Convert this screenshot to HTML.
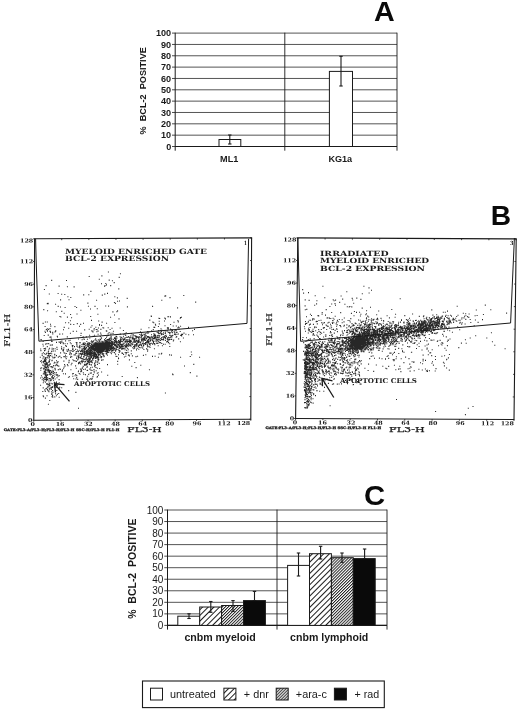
<!DOCTYPE html>
<html lang="en"><head><meta charset="utf-8"><title>BCL-2 expression figure</title>
<style>html,body{margin:0;padding:0;background:#fff}svg{display:block}</style></head><body>
<svg width="520" height="711" viewBox="0 0 520 711">
<defs>
<pattern id="h1" patternUnits="userSpaceOnUse" width="4.0" height="4.0" patternTransform="rotate(-45)"><rect width="4.0" height="4.0" fill="#fff"/><line x1="0" y1="0.5" x2="4.0" y2="0.5" stroke="#1a1a1a" stroke-width="1"/></pattern>
<pattern id="h2" patternUnits="userSpaceOnUse" width="2.1" height="2.1" patternTransform="rotate(-45)"><rect width="2.1" height="2.1" fill="#fff"/><line x1="0" y1="0.5" x2="2.1" y2="0.5" stroke="#1a1a1a" stroke-width="0.95"/></pattern>
</defs>
<rect width="520" height="711" fill="#fff"/>
<g id="panelA">
<line x1="175.2" y1="146.50" x2="397" y2="146.50" stroke="#1c1c1c" stroke-width="0.75" />
<line x1="172.0" y1="146.50" x2="175.2" y2="146.50" stroke="#1c1c1c" stroke-width="0.8" />
<text x="171.2" y="149.78" font-family='"Liberation Sans", Arial, Helvetica, sans-serif' font-size="9.1" font-weight="bold" text-anchor="end" fill="#1a1a1a" >0</text>
<line x1="175.2" y1="135.16" x2="397" y2="135.16" stroke="#1c1c1c" stroke-width="0.75" />
<line x1="172.0" y1="135.16" x2="175.2" y2="135.16" stroke="#1c1c1c" stroke-width="0.8" />
<text x="171.2" y="138.44" font-family='"Liberation Sans", Arial, Helvetica, sans-serif' font-size="9.1" font-weight="bold" text-anchor="end" fill="#1a1a1a" >10</text>
<line x1="175.2" y1="123.82" x2="397" y2="123.82" stroke="#1c1c1c" stroke-width="0.75" />
<line x1="172.0" y1="123.82" x2="175.2" y2="123.82" stroke="#1c1c1c" stroke-width="0.8" />
<text x="171.2" y="127.10" font-family='"Liberation Sans", Arial, Helvetica, sans-serif' font-size="9.1" font-weight="bold" text-anchor="end" fill="#1a1a1a" >20</text>
<line x1="175.2" y1="112.48" x2="397" y2="112.48" stroke="#1c1c1c" stroke-width="0.75" />
<line x1="172.0" y1="112.48" x2="175.2" y2="112.48" stroke="#1c1c1c" stroke-width="0.8" />
<text x="171.2" y="115.76" font-family='"Liberation Sans", Arial, Helvetica, sans-serif' font-size="9.1" font-weight="bold" text-anchor="end" fill="#1a1a1a" >30</text>
<line x1="175.2" y1="101.14" x2="397" y2="101.14" stroke="#1c1c1c" stroke-width="0.75" />
<line x1="172.0" y1="101.14" x2="175.2" y2="101.14" stroke="#1c1c1c" stroke-width="0.8" />
<text x="171.2" y="104.42" font-family='"Liberation Sans", Arial, Helvetica, sans-serif' font-size="9.1" font-weight="bold" text-anchor="end" fill="#1a1a1a" >40</text>
<line x1="175.2" y1="89.80" x2="397" y2="89.80" stroke="#1c1c1c" stroke-width="0.75" />
<line x1="172.0" y1="89.80" x2="175.2" y2="89.80" stroke="#1c1c1c" stroke-width="0.8" />
<text x="171.2" y="93.08" font-family='"Liberation Sans", Arial, Helvetica, sans-serif' font-size="9.1" font-weight="bold" text-anchor="end" fill="#1a1a1a" >50</text>
<line x1="175.2" y1="78.46" x2="397" y2="78.46" stroke="#1c1c1c" stroke-width="0.75" />
<line x1="172.0" y1="78.46" x2="175.2" y2="78.46" stroke="#1c1c1c" stroke-width="0.8" />
<text x="171.2" y="81.74" font-family='"Liberation Sans", Arial, Helvetica, sans-serif' font-size="9.1" font-weight="bold" text-anchor="end" fill="#1a1a1a" >60</text>
<line x1="175.2" y1="67.12" x2="397" y2="67.12" stroke="#1c1c1c" stroke-width="0.75" />
<line x1="172.0" y1="67.12" x2="175.2" y2="67.12" stroke="#1c1c1c" stroke-width="0.8" />
<text x="171.2" y="70.40" font-family='"Liberation Sans", Arial, Helvetica, sans-serif' font-size="9.1" font-weight="bold" text-anchor="end" fill="#1a1a1a" >70</text>
<line x1="175.2" y1="55.78" x2="397" y2="55.78" stroke="#1c1c1c" stroke-width="0.75" />
<line x1="172.0" y1="55.78" x2="175.2" y2="55.78" stroke="#1c1c1c" stroke-width="0.8" />
<text x="171.2" y="59.06" font-family='"Liberation Sans", Arial, Helvetica, sans-serif' font-size="9.1" font-weight="bold" text-anchor="end" fill="#1a1a1a" >80</text>
<line x1="175.2" y1="44.44" x2="397" y2="44.44" stroke="#1c1c1c" stroke-width="0.75" />
<line x1="172.0" y1="44.44" x2="175.2" y2="44.44" stroke="#1c1c1c" stroke-width="0.8" />
<text x="171.2" y="47.72" font-family='"Liberation Sans", Arial, Helvetica, sans-serif' font-size="9.1" font-weight="bold" text-anchor="end" fill="#1a1a1a" >90</text>
<line x1="175.2" y1="33.10" x2="397" y2="33.10" stroke="#1c1c1c" stroke-width="0.75" />
<line x1="172.0" y1="33.10" x2="175.2" y2="33.10" stroke="#1c1c1c" stroke-width="0.8" />
<text x="171.2" y="36.38" font-family='"Liberation Sans", Arial, Helvetica, sans-serif' font-size="9.1" font-weight="bold" text-anchor="end" fill="#1a1a1a" >100</text>
<line x1="175.2" y1="32.7" x2="175.2" y2="150.7" stroke="#1a1a1a" stroke-width="1.0" />
<line x1="397" y1="32.7" x2="397" y2="150.7" stroke="#1c1c1c" stroke-width="0.9" />
<line x1="284.8" y1="32.7" x2="284.8" y2="150.7" stroke="#1a1a1a" stroke-width="0.9" />
<line x1="175.2" y1="146.5" x2="397" y2="146.5" stroke="#1a1a1a" stroke-width="1.1" />
<text transform="translate(146.4 90.8) rotate(-90)" font-family='"Liberation Sans", Arial, Helvetica, sans-serif' font-size="9.15" font-weight="bold" text-anchor="middle" fill="#1a1a1a" style="white-space:pre">%  BCL-2  POSITIVE</text>
<rect x="219.00" y="139.50" width="21.80" height="7.00" fill="#fff" stroke="#1a1a1a" stroke-width="1"/>
<line x1="229.8" y1="135.00" x2="229.8" y2="144.00" stroke="#1a1a1a" stroke-width="1.1" />
<line x1="228.10000000000002" y1="135.00" x2="231.5" y2="135.00" stroke="#1a1a1a" stroke-width="1.1" />
<line x1="228.10000000000002" y1="144.00" x2="231.5" y2="144.00" stroke="#1a1a1a" stroke-width="1.1" />
<rect x="329.40" y="71.40" width="23.10" height="75.10" fill="#fff" stroke="#1a1a1a" stroke-width="1"/>
<line x1="341" y1="56.30" x2="341" y2="86.00" stroke="#1a1a1a" stroke-width="1.1" />
<line x1="339.3" y1="56.30" x2="342.7" y2="56.30" stroke="#1a1a1a" stroke-width="1.1" />
<line x1="339.3" y1="86.00" x2="342.7" y2="86.00" stroke="#1a1a1a" stroke-width="1.1" />
<text x="229.2" y="161.5" font-family='"Liberation Sans", Arial, Helvetica, sans-serif' font-size="9.1" font-weight="bold" text-anchor="middle" fill="#1a1a1a" >ML1</text>
<text x="340.3" y="161.5" font-family='"Liberation Sans", Arial, Helvetica, sans-serif' font-size="9.1" font-weight="bold" text-anchor="middle" fill="#1a1a1a" >KG1a</text>
<text transform="translate(384.4 20.9) scale(1.07 1)" font-family='"Liberation Sans", Arial, Helvetica, sans-serif' font-size="26.8" font-weight="bold" text-anchor="middle" fill="#0a0a0a">A</text>
</g>
<g id="panelB">
<g transform="translate(34.6 238.8) matrix(1 -0.0044 -0.0044 1 0 0) translate(-34.6 -238.8)">
<rect x="34.6" y="238.8" width="217.0" height="181.39999999999998" fill="none" stroke="#1a1a1a" stroke-width="1.1"/>
<line x1="34.60" y1="420.2" x2="34.60" y2="421.7" stroke="#1a1a1a" stroke-width="0.8" />
<line x1="34.60" y1="238.8" x2="34.60" y2="240.3" stroke="#1a1a1a" stroke-width="0.8" />
<line x1="33.1" y1="420.20" x2="34.6" y2="420.20" stroke="#1a1a1a" stroke-width="0.8" />
<line x1="250.1" y1="420.20" x2="251.6" y2="420.20" stroke="#1a1a1a" stroke-width="0.8" />
<line x1="61.73" y1="420.2" x2="61.73" y2="421.7" stroke="#1a1a1a" stroke-width="0.8" />
<line x1="61.73" y1="238.8" x2="61.73" y2="240.3" stroke="#1a1a1a" stroke-width="0.8" />
<line x1="33.1" y1="397.52" x2="34.6" y2="397.52" stroke="#1a1a1a" stroke-width="0.8" />
<line x1="250.1" y1="397.52" x2="251.6" y2="397.52" stroke="#1a1a1a" stroke-width="0.8" />
<line x1="88.85" y1="420.2" x2="88.85" y2="421.7" stroke="#1a1a1a" stroke-width="0.8" />
<line x1="88.85" y1="238.8" x2="88.85" y2="240.3" stroke="#1a1a1a" stroke-width="0.8" />
<line x1="33.1" y1="374.85" x2="34.6" y2="374.85" stroke="#1a1a1a" stroke-width="0.8" />
<line x1="250.1" y1="374.85" x2="251.6" y2="374.85" stroke="#1a1a1a" stroke-width="0.8" />
<line x1="115.97" y1="420.2" x2="115.97" y2="421.7" stroke="#1a1a1a" stroke-width="0.8" />
<line x1="115.97" y1="238.8" x2="115.97" y2="240.3" stroke="#1a1a1a" stroke-width="0.8" />
<line x1="33.1" y1="352.18" x2="34.6" y2="352.18" stroke="#1a1a1a" stroke-width="0.8" />
<line x1="250.1" y1="352.18" x2="251.6" y2="352.18" stroke="#1a1a1a" stroke-width="0.8" />
<line x1="143.10" y1="420.2" x2="143.10" y2="421.7" stroke="#1a1a1a" stroke-width="0.8" />
<line x1="143.10" y1="238.8" x2="143.10" y2="240.3" stroke="#1a1a1a" stroke-width="0.8" />
<line x1="33.1" y1="329.50" x2="34.6" y2="329.50" stroke="#1a1a1a" stroke-width="0.8" />
<line x1="250.1" y1="329.50" x2="251.6" y2="329.50" stroke="#1a1a1a" stroke-width="0.8" />
<line x1="170.22" y1="420.2" x2="170.22" y2="421.7" stroke="#1a1a1a" stroke-width="0.8" />
<line x1="170.22" y1="238.8" x2="170.22" y2="240.3" stroke="#1a1a1a" stroke-width="0.8" />
<line x1="33.1" y1="306.82" x2="34.6" y2="306.82" stroke="#1a1a1a" stroke-width="0.8" />
<line x1="250.1" y1="306.82" x2="251.6" y2="306.82" stroke="#1a1a1a" stroke-width="0.8" />
<line x1="197.35" y1="420.2" x2="197.35" y2="421.7" stroke="#1a1a1a" stroke-width="0.8" />
<line x1="197.35" y1="238.8" x2="197.35" y2="240.3" stroke="#1a1a1a" stroke-width="0.8" />
<line x1="33.1" y1="284.15" x2="34.6" y2="284.15" stroke="#1a1a1a" stroke-width="0.8" />
<line x1="250.1" y1="284.15" x2="251.6" y2="284.15" stroke="#1a1a1a" stroke-width="0.8" />
<line x1="224.47" y1="420.2" x2="224.47" y2="421.7" stroke="#1a1a1a" stroke-width="0.8" />
<line x1="224.47" y1="238.8" x2="224.47" y2="240.3" stroke="#1a1a1a" stroke-width="0.8" />
<line x1="33.1" y1="261.48" x2="34.6" y2="261.48" stroke="#1a1a1a" stroke-width="0.8" />
<line x1="250.1" y1="261.48" x2="251.6" y2="261.48" stroke="#1a1a1a" stroke-width="0.8" />
<line x1="251.60" y1="420.2" x2="251.60" y2="421.7" stroke="#1a1a1a" stroke-width="0.8" />
<line x1="251.60" y1="238.8" x2="251.60" y2="240.3" stroke="#1a1a1a" stroke-width="0.8" />
<line x1="33.1" y1="238.80" x2="34.6" y2="238.80" stroke="#1a1a1a" stroke-width="0.8" />
<line x1="250.1" y1="238.80" x2="251.6" y2="238.80" stroke="#1a1a1a" stroke-width="0.8" />
<text x="33.2" y="422.00" font-family='"DejaVu Serif", "Liberation Serif", serif' font-size="5.3" font-weight="bold" text-anchor="end" fill="#1a1a1a" textLength="4.4" lengthAdjust="spacingAndGlyphs">0</text>
<text x="33.2" y="399.32" font-family='"DejaVu Serif", "Liberation Serif", serif' font-size="5.3" font-weight="bold" text-anchor="end" fill="#1a1a1a" textLength="8.8" lengthAdjust="spacingAndGlyphs">16</text>
<text x="33.2" y="376.65" font-family='"DejaVu Serif", "Liberation Serif", serif' font-size="5.3" font-weight="bold" text-anchor="end" fill="#1a1a1a" textLength="8.8" lengthAdjust="spacingAndGlyphs">32</text>
<text x="33.2" y="353.98" font-family='"DejaVu Serif", "Liberation Serif", serif' font-size="5.3" font-weight="bold" text-anchor="end" fill="#1a1a1a" textLength="8.8" lengthAdjust="spacingAndGlyphs">48</text>
<text x="33.2" y="331.30" font-family='"DejaVu Serif", "Liberation Serif", serif' font-size="5.3" font-weight="bold" text-anchor="end" fill="#1a1a1a" textLength="8.8" lengthAdjust="spacingAndGlyphs">64</text>
<text x="33.2" y="308.62" font-family='"DejaVu Serif", "Liberation Serif", serif' font-size="5.3" font-weight="bold" text-anchor="end" fill="#1a1a1a" textLength="8.8" lengthAdjust="spacingAndGlyphs">80</text>
<text x="33.2" y="285.95" font-family='"DejaVu Serif", "Liberation Serif", serif' font-size="5.3" font-weight="bold" text-anchor="end" fill="#1a1a1a" textLength="8.8" lengthAdjust="spacingAndGlyphs">96</text>
<text x="33.2" y="263.28" font-family='"DejaVu Serif", "Liberation Serif", serif' font-size="5.3" font-weight="bold" text-anchor="end" fill="#1a1a1a" textLength="13.2" lengthAdjust="spacingAndGlyphs">112</text>
<text x="33.2" y="242.40" font-family='"DejaVu Serif", "Liberation Serif", serif' font-size="5.3" font-weight="bold" text-anchor="end" fill="#1a1a1a" textLength="13.2" lengthAdjust="spacingAndGlyphs">128</text>
<text x="33.5" y="426.0" font-family='"DejaVu Serif", "Liberation Serif", serif' font-size="5.3" font-weight="bold" text-anchor="middle" fill="#1a1a1a" textLength="4.4" lengthAdjust="spacingAndGlyphs">0</text>
<text x="60.9" y="426.0" font-family='"DejaVu Serif", "Liberation Serif", serif' font-size="5.3" font-weight="bold" text-anchor="middle" fill="#1a1a1a" textLength="8.8" lengthAdjust="spacingAndGlyphs">16</text>
<text x="89.2" y="426.0" font-family='"DejaVu Serif", "Liberation Serif", serif' font-size="5.3" font-weight="bold" text-anchor="middle" fill="#1a1a1a" textLength="8.8" lengthAdjust="spacingAndGlyphs">32</text>
<text x="116.4" y="426.0" font-family='"DejaVu Serif", "Liberation Serif", serif' font-size="5.3" font-weight="bold" text-anchor="middle" fill="#1a1a1a" textLength="8.8" lengthAdjust="spacingAndGlyphs">48</text>
<text x="143.5" y="426.0" font-family='"DejaVu Serif", "Liberation Serif", serif' font-size="5.3" font-weight="bold" text-anchor="middle" fill="#1a1a1a" textLength="8.8" lengthAdjust="spacingAndGlyphs">64</text>
<text x="170.6" y="426.0" font-family='"DejaVu Serif", "Liberation Serif", serif' font-size="5.3" font-weight="bold" text-anchor="middle" fill="#1a1a1a" textLength="8.8" lengthAdjust="spacingAndGlyphs">80</text>
<text x="197.8" y="426.0" font-family='"DejaVu Serif", "Liberation Serif", serif' font-size="5.3" font-weight="bold" text-anchor="middle" fill="#1a1a1a" textLength="8.8" lengthAdjust="spacingAndGlyphs">96</text>
<text x="224.9" y="426.0" font-family='"DejaVu Serif", "Liberation Serif", serif' font-size="5.3" font-weight="bold" text-anchor="middle" fill="#1a1a1a" textLength="13.2" lengthAdjust="spacingAndGlyphs">112</text>
<text x="244.5" y="426.0" font-family='"DejaVu Serif", "Liberation Serif", serif' font-size="5.3" font-weight="bold" text-anchor="middle" fill="#1a1a1a" textLength="13.2" lengthAdjust="spacingAndGlyphs">128</text>
</g>
<path d="M102.4 349.5h1M103.4 347.5h1M100.8 346.5h1M98.1 345.8h1M100.0 345.5h1M98.2 350.2h1M102.4 347.5h1M107.6 346.0h1M99.9 346.1h1M99.1 344.6h1M104.0 346.1h1M103.7 348.1h1M102.3 345.7h1M98.1 346.5h1M101.8 346.1h1M104.9 346.4h1M96.0 344.0h1M100.0 346.3h1M93.9 345.8h1M96.8 348.9h1M94.1 345.9h1M101.2 347.8h1M97.1 350.2h1M103.1 345.7h1M102.5 345.2h1M101.3 347.0h1M91.5 347.8h1M99.5 344.8h1M101.9 347.4h1M103.0 350.4h1M95.6 346.8h1M100.0 346.3h1M97.7 344.9h1M98.7 347.5h1M106.1 343.5h1M98.4 344.7h1M102.2 349.1h1M105.5 344.3h1M99.8 348.9h1M101.9 349.6h1M102.5 347.0h1M102.4 347.6h1M97.4 351.0h1M102.3 346.1h1M107.5 344.6h1M95.2 344.6h1M105.6 346.2h1M102.9 349.4h1M99.6 348.7h1M110.1 343.6h1M105.0 344.4h1M96.9 346.1h1M102.4 347.0h1M104.4 345.8h1M101.3 347.0h1M104.9 346.7h1M101.7 345.9h1M104.8 346.1h1M108.0 346.2h1M99.2 346.7h1M103.0 347.4h1M100.5 350.4h1M102.7 347.6h1M97.1 347.2h1M99.2 343.4h1M101.3 347.4h1M105.3 342.2h1M106.4 343.1h1M96.7 348.9h1M98.9 348.3h1M104.7 345.9h1M93.3 344.1h1M100.0 346.0h1M101.4 345.2h1M107.4 347.1h1M105.4 350.6h1M100.7 347.1h1M100.3 345.1h1M100.7 344.3h1M108.3 345.6h1M100.2 346.4h1M100.5 344.4h1M103.5 346.6h1M101.2 344.3h1M101.4 348.8h1M97.6 349.2h1M102.2 348.7h1M100.0 345.8h1M107.0 346.9h1M104.7 345.9h1M101.8 345.7h1M104.7 345.5h1M100.3 344.1h1M106.0 343.1h1M102.2 348.1h1M104.4 345.8h1M96.7 347.6h1M103.7 348.3h1M94.5 343.9h1M93.3 346.0h1M100.8 347.0h1M98.3 347.7h1M102.6 345.7h1M111.6 347.4h1M98.6 347.3h1M99.1 344.4h1M102.6 344.5h1M104.2 347.9h1M101.4 347.5h1M100.7 342.8h1M105.3 348.8h1M104.3 347.4h1M98.0 349.7h1M101.6 345.8h1M102.1 345.9h1M97.3 344.8h1M103.7 351.4h1M98.4 346.6h1M106.4 349.2h1M102.6 345.1h1M102.4 346.8h1M99.1 343.5h1M101.4 345.8h1M93.9 349.5h1M97.0 344.6h1M103.8 348.4h1M93.2 348.2h1M105.3 344.0h1M94.6 346.4h1M105.0 345.2h1M98.5 346.8h1M105.1 345.0h1M102.3 344.8h1M95.5 346.7h1M107.0 343.8h1M107.7 343.2h1M101.7 346.4h1M101.1 348.4h1M101.0 343.5h1M97.9 347.0h1M106.4 344.7h1M99.5 344.8h1M102.0 348.2h1M98.6 345.9h1M99.7 349.8h1M96.5 345.6h1M107.3 346.6h1M101.3 346.1h1M105.8 344.5h1M102.2 347.7h1M99.1 346.5h1M100.8 347.9h1M99.7 346.7h1M101.8 344.3h1M100.4 346.5h1M100.8 346.8h1M96.5 349.1h1M98.4 345.1h1M108.9 345.6h1M98.8 343.4h1M97.8 348.3h1M103.1 344.2h1M107.4 342.2h1M95.9 347.1h1M101.4 348.8h1M99.0 343.8h1M94.4 345.2h1M104.9 344.7h1M101.6 344.3h1M102.4 347.2h1M98.7 345.3h1M103.7 344.8h1M99.9 347.9h1M101.2 345.1h1M97.5 347.9h1M96.7 345.2h1M107.3 343.4h1M99.4 343.1h1M103.7 350.0h1M101.8 345.9h1M100.2 347.2h1M99.9 346.7h1M104.7 346.5h1M100.8 346.7h1M101.8 350.4h1M101.8 344.4h1M106.5 342.8h1M104.6 344.1h1M103.3 343.7h1M99.8 348.3h1M96.4 348.8h1M105.7 344.1h1M105.7 343.3h1M101.3 345.9h1M104.6 349.0h1M104.6 340.5h1M105.6 347.1h1M105.6 343.9h1M100.3 348.8h1M108.1 343.6h1M96.7 346.6h1M105.2 343.1h1M103.8 344.3h1M106.0 348.8h1M110.0 347.2h1M108.1 345.0h1M97.0 345.3h1M94.5 343.6h1M105.3 345.3h1M97.8 346.9h1M101.9 346.3h1M105.5 345.9h1M94.9 345.1h1M93.2 347.4h1M103.1 346.3h1M102.5 349.0h1M101.4 350.3h1M102.1 346.2h1M98.2 345.4h1M95.7 347.1h1M101.2 345.4h1M97.8 345.5h1M95.1 347.2h1M103.9 344.2h1M101.9 347.7h1M103.7 346.1h1M97.9 347.5h1M99.2 346.5h1M97.7 345.6h1M98.1 345.1h1M102.8 345.9h1M98.6 345.8h1M103.5 346.8h1M103.4 346.3h1M110.1 342.8h1M96.2 347.3h1M105.4 343.4h1M101.5 345.3h1M101.9 345.9h1M95.5 343.1h1M100.1 346.9h1M105.1 346.4h1M101.6 346.2h1M102.2 345.6h1M100.7 345.9h1M106.6 344.0h1M101.8 346.0h1M92.7 346.5h1M99.1 347.0h1M93.5 345.1h1M88.5 348.6h1M99.8 347.0h1M107.5 345.6h1M102.1 345.6h1M97.2 348.2h1M97.7 343.7h1M106.8 346.8h1M102.7 346.9h1M102.3 347.0h1M101.9 347.3h1M102.0 345.2h1M105.3 345.6h1M104.5 347.5h1M103.0 347.2h1M97.7 347.4h1M103.8 343.2h1M99.3 347.9h1M106.8 348.3h1M96.9 349.1h1M101.5 347.0h1M101.6 343.4h1M96.7 349.0h1M109.1 345.3h1M107.5 340.7h1M100.2 347.5h1M104.9 343.2h1M103.3 343.7h1M90.9 346.5h1M103.3 348.9h1M101.7 345.8h1M102.4 347.0h1M97.9 350.5h1M101.3 349.8h1M101.2 346.4h1M106.9 345.4h1M103.1 343.8h1M101.8 345.1h1M108.5 346.6h1M99.8 347.6h1M100.4 346.9h1M94.7 349.4h1M108.4 344.2h1M106.0 345.9h1M106.0 347.5h1M104.9 347.3h1M102.7 348.6h1M103.0 347.2h1M100.9 346.0h1M101.2 347.3h1M102.0 344.5h1M91.6 347.6h1M106.8 343.7h1M102.7 346.8h1M104.9 344.2h1M91.4 349.7h1M100.2 344.5h1M98.8 346.9h1M97.4 350.3h1M88.3 356.6h1M100.3 343.6h1M109.1 344.3h1M105.3 343.5h1M99.1 349.5h1M102.5 342.9h1M108.1 344.3h1M83.8 348.7h1M101.8 343.5h1M106.4 343.0h1M107.6 344.4h1M114.0 338.4h1M110.3 341.0h1M105.0 344.9h1M105.2 346.7h1M108.4 345.3h1M98.6 341.3h1M102.5 345.1h1M109.6 348.3h1M116.8 346.6h1M101.9 346.4h1M102.3 343.7h1M104.6 348.3h1M112.1 343.5h1M102.3 342.8h1M112.9 342.7h1M96.8 351.9h1M101.8 347.4h1M102.1 350.3h1M108.3 344.3h1M110.6 348.6h1M92.3 345.8h1M96.6 346.8h1M106.3 354.1h1M98.7 349.5h1M92.2 346.2h1M110.2 345.4h1M106.6 347.1h1M106.9 349.9h1M99.5 345.3h1M109.5 340.1h1M101.2 345.8h1M110.6 345.6h1M96.7 347.6h1M97.6 351.4h1M104.5 347.3h1M98.4 349.7h1M107.3 342.4h1M105.1 349.0h1M97.4 353.9h1M103.8 348.9h1M100.7 347.6h1M109.4 346.2h1M99.3 352.7h1M99.6 343.9h1M111.4 345.1h1M118.7 346.1h1M117.2 347.2h1M103.3 345.1h1M104.6 347.3h1M113.6 344.3h1M102.2 347.0h1M96.2 346.9h1M103.4 342.8h1M106.1 346.1h1M97.6 350.0h1M91.2 344.8h1M92.9 346.9h1M107.9 348.1h1M97.3 343.7h1M102.1 347.2h1M104.1 343.0h1M107.7 349.6h1M101.6 354.1h1M107.2 352.5h1M96.7 346.5h1M100.8 349.2h1M95.9 347.7h1M110.9 345.9h1M103.4 351.4h1M97.4 342.9h1M101.0 350.1h1M101.4 346.5h1M108.4 350.4h1M92.0 348.4h1M95.5 345.2h1M100.5 347.7h1M120.9 346.7h1M109.7 345.8h1M102.4 348.1h1M107.7 344.2h1M116.5 338.0h1M101.7 349.6h1M100.7 349.0h1M111.5 346.0h1M106.5 346.3h1M108.1 349.2h1M99.3 345.5h1M116.1 342.7h1M114.8 344.5h1M107.4 349.8h1M107.2 341.5h1M89.4 352.0h1M107.2 343.9h1M101.2 343.2h1M106.5 350.1h1M107.7 345.6h1M100.1 342.7h1M91.1 346.8h1M105.9 349.2h1M98.3 350.9h1M100.5 345.4h1M99.0 348.3h1M100.9 349.1h1M86.7 346.4h1M111.6 346.6h1M104.7 346.2h1M110.5 343.9h1M116.6 343.3h1M103.2 346.7h1M90.5 348.1h1M96.6 345.4h1M94.4 346.2h1M99.9 350.5h1M103.6 347.1h1M89.4 351.0h1M105.8 350.0h1M92.7 349.6h1M105.9 353.5h1M101.9 344.0h1M101.1 349.3h1M102.4 345.6h1M100.0 352.8h1M99.4 352.4h1M90.6 341.7h1M102.4 343.4h1M116.1 347.1h1M117.1 347.4h1M112.5 347.7h1M107.9 345.7h1M98.5 348.5h1M113.3 347.4h1M102.6 346.3h1M102.9 349.8h1M100.1 339.6h1M103.9 348.4h1M99.6 343.6h1M102.8 349.6h1M95.4 346.7h1M100.1 344.0h1M119.0 345.8h1M102.2 343.7h1M101.0 343.8h1M106.1 341.1h1M107.9 345.8h1M95.4 349.0h1M102.0 349.9h1M109.3 345.3h1M105.3 349.6h1M103.9 346.5h1M113.8 344.9h1M98.5 348.9h1M104.0 349.8h1M99.3 345.8h1M113.3 344.5h1M89.4 347.6h1M98.4 347.3h1M99.0 344.1h1M108.0 349.2h1M107.1 344.7h1M112.9 346.8h1M91.7 345.2h1M108.4 347.0h1M101.1 348.0h1M98.2 345.7h1M107.5 352.5h1M96.7 348.4h1M89.2 353.9h1M100.8 349.9h1M92.3 345.6h1M98.3 345.8h1M105.7 347.6h1M105.2 346.4h1M114.0 345.3h1M101.5 345.8h1M91.7 342.0h1M97.7 346.4h1M95.8 340.2h1M94.7 348.7h1M105.7 343.8h1M98.2 344.8h1M89.2 347.5h1M107.9 346.8h1M101.7 342.0h1M104.8 340.6h1M103.3 343.0h1M106.6 339.5h1M102.9 343.4h1M112.2 350.5h1M105.6 342.8h1M106.0 348.2h1M105.3 341.8h1M93.0 348.7h1M101.7 345.6h1M101.2 346.5h1M104.7 348.1h1M94.2 353.2h1M114.4 345.8h1M103.8 346.8h1M94.2 344.4h1M91.3 349.8h1M101.0 346.0h1M104.9 348.4h1M99.1 350.6h1M110.2 343.6h1M86.2 355.1h1M96.6 347.8h1M104.2 344.3h1M96.8 350.2h1M94.3 353.0h1M96.6 347.2h1M89.9 352.5h1M99.7 348.5h1M118.0 354.7h1M106.2 344.6h1M92.7 355.7h1M93.0 350.3h1M96.1 349.2h1M106.5 349.8h1M94.2 353.5h1M95.4 354.6h1M105.3 348.6h1M104.3 345.4h1M96.0 347.8h1M91.9 352.7h1M89.0 353.7h1M95.5 355.1h1M84.2 354.2h1M105.0 351.4h1M96.0 355.4h1M102.4 348.8h1M110.4 340.6h1M105.9 342.9h1M89.9 345.9h1M106.3 353.1h1M106.1 344.1h1M95.0 354.6h1M93.0 352.7h1M99.8 355.2h1M89.0 355.2h1M108.9 346.1h1M82.5 352.4h1M91.6 351.2h1M97.3 350.1h1M97.0 347.5h1M100.1 348.6h1M102.2 354.2h1M96.1 343.4h1M106.9 348.0h1M83.7 349.5h1M99.2 349.7h1M94.9 353.1h1M99.8 348.6h1M101.2 351.3h1M91.4 345.0h1M95.6 354.0h1M103.9 345.5h1M101.9 350.6h1M94.5 350.8h1M110.6 336.5h1M114.0 342.4h1M89.3 352.3h1M102.4 353.9h1M116.3 345.7h1M104.5 348.6h1M99.3 343.7h1M98.8 354.4h1M96.9 356.2h1M97.6 349.5h1M95.1 349.2h1M102.6 342.1h1M97.1 352.8h1M98.4 359.2h1M91.5 353.5h1M99.8 353.5h1M93.4 352.4h1M96.9 345.9h1M107.2 351.9h1M100.4 344.1h1M102.2 347.4h1M101.7 349.4h1M100.2 352.0h1M98.5 350.7h1M97.2 350.9h1M103.5 345.1h1M90.5 346.3h1M108.2 346.9h1M98.6 346.5h1M92.8 345.7h1M94.6 345.4h1M94.0 348.4h1M98.5 342.3h1M92.9 345.5h1M105.3 341.4h1M93.9 351.0h1M83.9 354.3h1M95.8 357.3h1M84.1 347.2h1M98.1 346.7h1M107.0 350.4h1M103.2 347.1h1M89.6 350.1h1M95.3 356.3h1M110.8 344.8h1M100.2 344.4h1M97.9 344.4h1M106.5 348.4h1M115.9 345.9h1M106.6 342.0h1M99.1 345.3h1M101.9 350.3h1M103.7 350.0h1M94.3 347.8h1M92.4 353.0h1M99.9 350.9h1M91.0 344.4h1M98.3 348.0h1M100.0 350.3h1M114.4 343.0h1M91.4 343.0h1M97.9 348.2h1M98.5 351.9h1M103.3 353.8h1M104.2 339.6h1M98.0 359.0h1M92.4 346.5h1M88.7 355.1h1M93.8 354.9h1M103.5 351.5h1M99.4 349.4h1M91.1 346.7h1M97.0 351.8h1M98.6 346.4h1M100.2 339.3h1M97.4 359.9h1M97.9 351.9h1M88.2 358.4h1M90.4 347.8h1M111.3 351.4h1M85.5 358.3h1M98.1 355.0h1M100.5 348.6h1M95.4 345.4h1M93.4 349.8h1M96.7 341.4h1M97.5 343.1h1M98.5 349.5h1M85.4 348.7h1M97.9 348.7h1M93.1 350.1h1M97.0 356.7h1M101.7 353.1h1M103.3 347.8h1M106.1 351.7h1M94.9 347.1h1M105.0 346.3h1M107.8 350.2h1M105.6 342.7h1M108.2 345.7h1M96.9 344.6h1M97.9 349.7h1M106.0 353.3h1M89.1 348.7h1M100.6 349.4h1M94.6 346.8h1M95.5 345.6h1M86.1 347.6h1M94.2 355.6h1M100.9 357.3h1M105.5 349.2h1M105.1 344.8h1M99.1 351.6h1M97.4 348.2h1M94.1 353.2h1M102.0 349.3h1M97.6 350.4h1M103.6 350.1h1M110.4 344.0h1M98.4 347.6h1M87.3 345.5h1M92.8 348.9h1M87.9 346.5h1M90.7 350.5h1M107.0 343.4h1M100.6 349.0h1M89.1 353.2h1M102.2 342.9h1M106.8 344.0h1M95.7 346.3h1M95.1 352.8h1M98.2 355.5h1M101.7 351.5h1M103.0 346.7h1M108.3 352.1h1M105.9 341.7h1M108.4 352.2h1M107.7 344.4h1M101.1 338.2h1M90.9 360.9h1M99.5 354.7h1M100.2 344.9h1M96.5 350.2h1M105.0 346.7h1M96.6 350.0h1M91.4 345.4h1M108.2 344.2h1M103.9 349.5h1M100.7 349.4h1M106.3 351.6h1M106.3 347.5h1M103.4 356.6h1M81.7 350.7h1M94.6 351.1h1M94.2 343.1h1M91.2 346.3h1M101.5 353.3h1M106.3 343.7h1M96.2 351.7h1M91.2 350.7h1M111.9 341.9h1M95.6 348.6h1M90.2 349.3h1M107.0 349.8h1M135.4 338.4h1M134.2 347.2h1M104.1 345.3h1M95.9 343.8h1M124.5 341.6h1M115.1 341.2h1M142.6 341.6h1M181.2 336.0h1M138.0 341.6h1M116.8 341.9h1M111.5 328.2h1M97.7 347.7h1M95.2 338.8h1M94.3 348.9h1M109.4 350.8h1M108.0 347.0h1M135.4 340.0h1M108.4 344.9h1M113.2 344.4h1M88.7 346.0h1M156.7 336.0h1M129.4 338.3h1M161.3 343.5h1M136.9 341.5h1M154.0 343.5h1M111.9 344.0h1M135.1 342.2h1M182.1 334.2h1M89.2 350.6h1M146.5 344.0h1M158.5 339.5h1M127.6 339.8h1M135.7 338.1h1M149.5 347.4h1M101.9 345.3h1M127.7 341.5h1M97.9 354.0h1M102.3 351.6h1M103.4 348.9h1M114.3 343.0h1M123.1 354.5h1M129.3 344.5h1M83.9 351.8h1M166.0 336.5h1M145.2 333.8h1M134.8 335.7h1M109.6 347.4h1M116.1 346.4h1M131.2 341.3h1M127.2 337.5h1M76.2 343.7h1M135.8 340.2h1M188.0 327.4h1M73.6 354.9h1M143.0 346.0h1M128.9 355.9h1M115.9 348.7h1M151.0 336.8h1M88.6 344.5h1M119.7 328.0h1M153.3 336.4h1M113.1 344.2h1M108.4 350.2h1M121.2 346.7h1M107.5 348.6h1M155.9 339.8h1M96.3 350.5h1M140.3 347.8h1M86.7 343.9h1M134.0 339.9h1M114.5 338.4h1M56.0 360.8h1M118.7 350.2h1M92.4 351.5h1M106.4 340.4h1M155.7 339.6h1M90.6 347.2h1M92.2 348.4h1M153.0 338.3h1M121.2 346.3h1M155.4 337.0h1M126.5 347.0h1M96.6 348.5h1M116.2 343.2h1M148.0 339.4h1M140.7 339.0h1M118.6 348.0h1M119.0 342.9h1M115.4 346.0h1M103.6 344.6h1M164.2 330.7h1M118.8 348.4h1M89.7 343.5h1M106.8 349.1h1M136.0 343.6h1M132.6 334.5h1M114.0 340.5h1M101.3 344.3h1M118.0 340.5h1M76.4 344.8h1M86.7 352.3h1M137.4 340.4h1M106.6 347.8h1M126.9 341.0h1M148.0 341.4h1M133.4 338.6h1M118.5 344.1h1M170.4 339.4h1M134.3 342.1h1M109.0 343.5h1M135.2 336.8h1M128.1 343.6h1M97.3 348.9h1M119.6 342.9h1M113.5 341.4h1M70.3 353.7h1M115.4 356.2h1M110.9 343.9h1M107.5 347.4h1M78.1 351.8h1M107.6 333.9h1M117.1 345.0h1M120.0 340.7h1M91.2 354.6h1M133.3 340.9h1M87.8 345.1h1M112.4 344.1h1M150.0 340.4h1M100.7 344.2h1M105.5 345.9h1M143.3 334.3h1M108.5 344.6h1M111.3 348.9h1M124.7 352.5h1M144.1 343.8h1M64.4 353.3h1M98.6 352.6h1M94.1 352.5h1M92.6 355.7h1M97.9 352.3h1M97.5 346.7h1M125.5 344.4h1M96.5 348.3h1M121.2 345.2h1M127.9 343.8h1M99.7 343.3h1M119.8 334.3h1M157.4 335.5h1M124.5 333.9h1M102.5 346.9h1M116.4 344.5h1M94.6 339.9h1M125.0 346.5h1M139.5 345.2h1M98.2 347.6h1M114.0 352.6h1M146.2 348.9h1M105.1 340.6h1M123.2 348.4h1M93.4 349.9h1M98.4 349.1h1M106.2 350.4h1M169.2 333.5h1M107.9 343.0h1M104.9 342.4h1M104.1 342.8h1M114.0 344.4h1M132.6 335.4h1M121.8 338.9h1M167.3 339.8h1M123.0 343.2h1M152.6 341.1h1M123.3 334.7h1M131.9 338.6h1M83.3 346.7h1M115.0 344.9h1M116.0 341.9h1M112.8 349.4h1M66.8 351.4h1M138.9 341.3h1M108.8 345.7h1M108.1 349.0h1M111.6 343.0h1M113.3 350.2h1M128.0 345.0h1M87.9 349.4h1M95.9 347.7h1M125.2 345.7h1M122.1 348.4h1M109.7 349.9h1M104.6 348.0h1M98.8 351.2h1M116.7 345.0h1M146.9 345.9h1M92.9 347.8h1M152.8 329.6h1M138.9 347.5h1M107.3 346.4h1M135.8 336.3h1M83.1 348.4h1M76.3 346.2h1M88.8 358.3h1M108.6 348.0h1M109.2 338.3h1M106.1 348.6h1M120.1 342.1h1M68.6 360.4h1M129.1 337.8h1M82.8 339.0h1M102.3 346.9h1M108.0 344.1h1M90.3 346.4h1M84.0 339.3h1M94.4 349.7h1M118.8 352.0h1M130.8 333.6h1M132.2 347.7h1M94.0 345.1h1M100.7 357.7h1M96.4 349.5h1M128.6 341.9h1M70.3 356.3h1M147.8 342.4h1M106.1 343.3h1M99.9 350.2h1M125.7 340.8h1M141.3 332.6h1M127.5 352.4h1M142.8 339.1h1M120.8 341.1h1M147.4 341.6h1M146.5 332.9h1M114.7 338.5h1M151.9 337.1h1M121.6 341.4h1M120.1 344.3h1M96.9 352.6h1M110.8 343.1h1M136.8 343.9h1M87.2 351.6h1M132.7 337.1h1M126.4 344.1h1M124.0 339.1h1M66.3 356.7h1M115.8 346.7h1M133.4 342.1h1M99.0 340.8h1M120.2 344.5h1M61.0 349.0h1M134.4 345.2h1M102.2 346.0h1M138.2 337.6h1M74.8 354.9h1M134.9 345.2h1M112.0 342.4h1M137.9 346.8h1M95.8 346.1h1M103.1 345.0h1M171.3 337.1h1M97.8 343.7h1M100.9 344.7h1M111.3 344.5h1M94.7 354.8h1M147.3 347.0h1M158.8 337.2h1M102.3 354.1h1M77.0 350.0h1M146.1 342.0h1M144.9 344.5h1M137.7 342.8h1M147.1 351.3h1M97.6 348.4h1M113.2 339.4h1M86.0 355.0h1M84.0 347.3h1M141.1 339.5h1M100.1 333.0h1M172.8 341.0h1M120.3 347.8h1M103.3 350.1h1M137.6 346.0h1M161.9 345.8h1M129.5 342.4h1M89.7 352.8h1M126.3 339.6h1M150.4 338.0h1M107.0 350.8h1M99.9 348.7h1M141.3 334.7h1M121.6 345.5h1M91.7 347.3h1M108.4 341.9h1M100.3 348.9h1M124.8 341.4h1M119.6 336.8h1M144.6 335.3h1M136.0 349.9h1M79.9 342.8h1M127.8 343.9h1M139.7 344.0h1M129.2 345.6h1M141.7 335.2h1M104.7 344.7h1M95.5 348.2h1M140.6 344.7h1M92.3 345.0h1M65.9 346.4h1M143.0 345.3h1M101.5 351.8h1M111.0 347.0h1M84.4 346.3h1M86.8 350.7h1M90.6 348.8h1M110.0 349.4h1M126.0 337.3h1M63.5 352.7h1M135.8 341.0h1M89.2 343.3h1M92.8 349.0h1M134.1 342.1h1M116.0 342.7h1M81.8 351.4h1M160.9 331.5h1M97.5 347.0h1M124.2 345.4h1M122.9 344.9h1M152.2 344.3h1M106.4 340.4h1M140.9 334.0h1M100.5 347.9h1M145.0 342.5h1M101.3 356.6h1M109.8 348.4h1M162.5 333.8h1M126.1 346.9h1M120.0 340.1h1M170.3 329.8h1M128.3 354.9h1M98.8 348.6h1M135.9 345.0h1M90.3 350.9h1M146.0 348.7h1M146.8 341.4h1M105.2 351.8h1M102.4 341.8h1M121.3 337.4h1M119.3 350.7h1M95.8 354.4h1M131.8 344.7h1M69.7 352.4h1M107.8 346.5h1M108.0 342.6h1M112.5 352.2h1M125.7 346.2h1M89.2 350.8h1M132.2 344.0h1M114.4 349.7h1M102.9 348.8h1M86.0 352.4h1M89.1 343.1h1M126.9 345.4h1M96.6 357.6h1M119.2 341.7h1M143.1 340.1h1M143.1 344.8h1M155.7 343.3h1M111.4 348.2h1M91.2 340.7h1M142.6 343.1h1M124.6 337.8h1M144.2 336.7h1M118.6 346.8h1M146.2 338.8h1M138.6 345.1h1M137.1 356.2h1M130.5 346.1h1M127.9 346.2h1M122.9 339.4h1M122.9 340.6h1M140.8 336.0h1M105.5 343.6h1M158.5 333.4h1M115.0 341.7h1M141.3 340.0h1M115.2 340.1h1M111.2 338.7h1M165.4 331.1h1M111.0 347.4h1M87.7 349.0h1M101.7 351.4h1M111.2 350.1h1M169.0 335.3h1M123.4 346.6h1M139.3 334.5h1M95.7 358.1h1M127.2 348.5h1M133.8 341.0h1M160.0 332.8h1M101.7 348.4h1M131.1 333.7h1M124.7 339.7h1M94.2 351.2h1M117.6 344.7h1M111.4 343.0h1M63.4 356.6h1M131.5 337.5h1M131.0 343.7h1M107.2 343.5h1M85.6 345.1h1M153.5 341.3h1M123.7 338.9h1M143.4 349.5h1M151.1 336.8h1M106.9 355.2h1M136.6 336.5h1M112.7 347.9h1M115.7 339.1h1M115.1 338.5h1M118.1 345.0h1M144.9 343.5h1M120.1 338.1h1M115.1 350.2h1M110.9 341.6h1M126.2 343.7h1M97.0 349.1h1M106.5 348.7h1M115.6 336.3h1M105.6 353.6h1M115.6 347.3h1M103.2 344.5h1M164.9 332.7h1M148.4 332.0h1M127.8 336.6h1M117.1 347.0h1M169.8 335.2h1M124.9 338.0h1M115.6 342.2h1M126.2 350.4h1M125.0 341.7h1M151.1 336.8h1M118.4 350.5h1M168.2 339.2h1M97.1 347.5h1M134.1 339.1h1M93.2 340.7h1M160.4 332.7h1M109.8 343.3h1M116.5 343.5h1M140.2 342.7h1M148.2 342.5h1M91.7 349.1h1M109.9 346.5h1M84.2 344.5h1M119.8 334.0h1M115.2 342.3h1M109.1 341.2h1M101.3 343.7h1M108.7 344.4h1M99.5 341.2h1M129.8 337.4h1M153.9 338.6h1M72.2 351.5h1M114.8 341.7h1M108.4 348.0h1M129.5 341.6h1M94.7 342.9h1M114.5 345.0h1M94.6 356.4h1M134.1 338.8h1M121.1 349.3h1M115.1 351.1h1M127.8 349.8h1M111.6 341.4h1M82.4 358.8h1M132.2 342.8h1M124.7 342.2h1M114.2 343.8h1M141.8 343.6h1M147.0 340.3h1M91.9 347.3h1M100.3 352.8h1M154.3 335.7h1M151.0 334.7h1M101.0 350.5h1M90.4 351.6h1M103.6 351.5h1M105.5 341.1h1M81.1 354.7h1M119.1 346.4h1M88.8 356.7h1M88.4 342.8h1M139.9 342.1h1M101.6 345.4h1M115.3 337.3h1M132.5 338.9h1M138.1 346.6h1M109.7 343.3h1M118.6 340.9h1M99.0 351.1h1M160.2 342.8h1M134.1 346.6h1M91.3 344.5h1M118.1 344.0h1M135.6 346.5h1M129.0 339.7h1M161.0 334.6h1M151.1 343.3h1M106.2 353.3h1M115.1 339.4h1M85.8 336.9h1M123.0 336.8h1M120.9 339.2h1M182.1 334.4h1M120.7 346.8h1M68.2 350.8h1M101.6 343.4h1M120.8 344.6h1M87.5 344.2h1M97.4 347.1h1M108.9 342.6h1M127.9 355.3h1M114.6 348.6h1M96.3 343.6h1M136.1 337.0h1M104.9 344.2h1M105.1 338.5h1M84.7 345.7h1M98.8 343.6h1M134.1 346.1h1M79.3 347.9h1M115.8 340.9h1M134.2 335.7h1M108.3 340.2h1M123.7 343.2h1M91.3 347.2h1M149.9 345.0h1M143.7 337.6h1M124.3 348.3h1M76.5 351.5h1M93.2 347.9h1M139.9 331.8h1M157.8 332.5h1M125.5 346.7h1M148.5 346.4h1M103.7 347.3h1M114.0 348.4h1M117.8 342.4h1M127.8 341.2h1M81.3 346.5h1M141.0 345.5h1M149.6 341.3h1M90.6 347.2h1M85.6 347.5h1M126.7 345.6h1M102.7 348.0h1M61.1 348.7h1M138.3 349.3h1M121.9 344.9h1M106.7 346.0h1M169.2 343.7h1M122.0 348.5h1M100.0 346.5h1M120.8 346.4h1M92.6 343.0h1M99.5 344.0h1M125.7 332.7h1M105.6 351.8h1M106.0 337.2h1M158.1 341.7h1M137.9 337.6h1M136.4 337.1h1M130.4 341.6h1M129.7 343.8h1M153.0 342.1h1M118.7 352.4h1M162.3 339.5h1M96.0 351.6h1M111.5 342.5h1M85.7 352.3h1M109.9 346.2h1M130.0 340.4h1M152.4 338.9h1M102.2 346.3h1M118.3 345.2h1M109.7 347.4h1M100.1 344.5h1M89.3 345.0h1M119.9 347.5h1M75.7 342.5h1M120.2 341.1h1M119.5 351.3h1M100.6 334.2h1M93.5 344.6h1M85.6 352.2h1M161.4 330.3h1M87.8 360.7h1M153.3 327.2h1M133.2 348.8h1M110.4 352.6h1M91.1 352.5h1M142.6 339.7h1M159.3 340.0h1M95.2 343.4h1M111.4 349.0h1M142.2 335.6h1M125.8 341.9h1M166.2 341.9h1M103.7 341.2h1M130.6 340.8h1M88.4 349.4h1M166.9 331.0h1M101.4 352.1h1M65.8 353.5h1M114.0 337.8h1M114.7 344.6h1M163.0 334.2h1M109.5 342.5h1M117.8 344.7h1M131.6 339.0h1M156.3 343.2h1M116.0 341.3h1M143.3 345.2h1M130.3 342.3h1M111.5 349.2h1M119.5 341.6h1M118.3 341.9h1M95.5 342.2h1M147.2 342.8h1M85.7 353.3h1M147.2 349.9h1M141.5 346.9h1M116.0 345.8h1M99.7 346.0h1M112.9 346.8h1M129.2 342.5h1M136.6 348.4h1M125.4 347.6h1M141.0 337.1h1M104.3 343.1h1M124.5 349.7h1M81.0 351.1h1M136.0 340.6h1M122.4 349.2h1M107.9 344.0h1M145.4 339.0h1M134.1 339.8h1M49.8 345.1h1M119.5 348.1h1M82.6 343.8h1M143.0 338.0h1M176.6 332.3h1M106.2 349.4h1M119.7 343.7h1M112.0 345.2h1M125.2 335.4h1M133.3 341.7h1M147.6 333.1h1M94.7 349.1h1M155.6 340.6h1M95.9 347.4h1M125.9 352.6h1M145.9 342.7h1M135.3 344.6h1M95.8 348.2h1M101.2 345.8h1M107.7 350.3h1M117.5 349.5h1M144.4 334.4h1M88.0 353.5h1M129.4 345.0h1M133.1 346.6h1M131.6 344.5h1M128.3 337.0h1M153.3 333.7h1M130.8 350.9h1M138.5 342.5h1M130.4 335.9h1M160.8 339.7h1M72.6 349.2h1M147.2 331.5h1M110.3 334.8h1M110.3 338.0h1M95.2 348.9h1M73.6 350.5h1M108.8 344.5h1M101.9 348.0h1M130.1 345.3h1M81.6 339.8h1M151.8 338.0h1M123.9 339.6h1M111.3 339.5h1M100.8 344.3h1M99.2 346.5h1M91.0 347.0h1M104.1 339.6h1M117.8 342.1h1M115.1 354.1h1M83.7 344.4h1M110.6 337.5h1M97.0 348.6h1M122.2 346.5h1M162.6 340.0h1M132.1 337.1h1M111.2 349.9h1M78.9 346.3h1M83.6 344.0h1M77.5 347.3h1M135.2 341.3h1M100.3 350.2h1M119.9 346.9h1M103.2 346.3h1M120.8 348.2h1M151.3 339.8h1M102.3 350.7h1M109.0 339.1h1M97.8 339.9h1M139.3 344.8h1M92.7 341.5h1M90.9 346.8h1M85.0 348.6h1M84.2 346.9h1M128.9 340.6h1M179.9 341.8h1M92.7 336.2h1M141.2 345.0h1M125.5 353.9h1M91.8 348.2h1M111.4 345.2h1M112.9 348.4h1M102.8 355.0h1M163.1 332.2h1M72.8 351.3h1M126.9 342.1h1M126.2 345.7h1M104.3 347.0h1M122.0 346.8h1M138.6 339.4h1M121.7 344.0h1M127.5 339.8h1M134.0 338.9h1M69.6 350.7h1M153.0 338.6h1M171.3 331.1h1M142.3 348.1h1M142.0 340.2h1M83.6 342.9h1M115.9 349.7h1M98.2 343.7h1M104.4 348.6h1M141.0 340.9h1M99.1 348.2h1M115.0 345.5h1M72.3 348.3h1M114.3 345.0h1M121.5 353.2h1M99.8 336.5h1M100.9 347.1h1M163.1 339.8h1M88.6 343.7h1M92.1 341.7h1M100.2 356.9h1M146.2 338.5h1M169.3 346.5h1M126.2 345.6h1M101.0 347.1h1M108.2 347.9h1M143.7 343.5h1M97.1 352.8h1M152.8 341.3h1M151.7 340.1h1M119.8 344.9h1M134.2 348.2h1M136.3 345.4h1M154.3 334.4h1M92.6 345.0h1M146.3 341.7h1M108.7 342.8h1M99.5 345.2h1M119.8 339.6h1M112.7 343.8h1M94.8 349.6h1M80.7 354.3h1M95.6 347.6h1M153.9 348.7h1M164.6 337.2h1M135.5 356.6h1M146.8 344.8h1M106.1 348.3h1M115.8 342.3h1M122.9 330.5h1M92.2 347.3h1M94.6 348.5h1M121.6 352.7h1M109.5 339.1h1M94.0 356.6h1M127.0 341.8h1M112.2 348.5h1M140.6 329.2h1M118.0 345.0h1M110.6 343.8h1M121.5 347.0h1M114.0 345.3h1M101.4 341.4h1M109.1 350.0h1M136.3 344.9h1M133.7 344.8h1M149.2 344.5h1M78.5 355.1h1M108.6 345.6h1M107.3 339.5h1M121.2 337.4h1M108.2 352.0h1M106.3 349.3h1M136.7 342.1h1M121.9 341.7h1M90.3 348.5h1M149.7 339.8h1M141.5 339.3h1M103.9 343.1h1M188.2 334.8h1M160.8 333.6h1M149.5 338.1h1M139.6 337.4h1M148.5 343.6h1M168.1 337.4h1M168.7 337.9h1M154.8 336.5h1M157.9 330.6h1M153.4 335.4h1M142.1 335.6h1M176.2 336.6h1M163.2 337.2h1M192.1 330.7h1M147.3 337.4h1M156.7 343.0h1M169.9 332.8h1M154.2 334.8h1M138.6 339.0h1M144.5 336.7h1M159.2 335.9h1M163.0 338.7h1M157.4 343.5h1M171.2 329.8h1M171.8 335.8h1M162.5 337.1h1M158.3 337.2h1M154.4 337.3h1M165.5 335.4h1M171.2 339.4h1M158.7 335.8h1M164.2 336.3h1M153.5 338.0h1M138.4 340.2h1M144.0 338.6h1M169.0 339.6h1M164.2 336.7h1M180.2 335.4h1M158.8 337.2h1M169.6 332.7h1M176.1 332.5h1M171.4 332.3h1M149.6 339.2h1M155.1 335.4h1M159.4 333.7h1M144.4 339.9h1M164.8 338.5h1M171.5 329.8h1M152.0 344.0h1M185.4 334.3h1M153.9 337.6h1M155.6 341.4h1M154.7 338.1h1M147.9 336.6h1M164.7 344.2h1M157.8 333.8h1M181.1 334.4h1M166.8 339.3h1M165.0 333.0h1M154.9 337.5h1M138.5 341.2h1M157.7 345.8h1M145.8 335.9h1M171.2 335.8h1M157.8 339.8h1M181.2 335.0h1M167.7 332.2h1M169.8 337.5h1M161.2 337.5h1M161.1 338.7h1M167.5 340.2h1M171.2 339.4h1M148.3 340.1h1M165.0 337.7h1M194.0 329.4h1M156.7 337.2h1M154.5 338.7h1M148.2 337.3h1M137.9 340.2h1M174.2 332.7h1M159.5 342.6h1M163.0 344.3h1M183.5 333.1h1M193.0 334.7h1M145.6 338.2h1M173.2 340.0h1M166.8 337.9h1M163.6 337.1h1M164.6 335.9h1M157.8 338.0h1M179.7 331.5h1M166.8 338.8h1M162.5 334.5h1M175.6 337.2h1M170.5 336.4h1M164.9 340.4h1M162.6 336.9h1M182.9 338.0h1M164.7 333.5h1M157.0 339.7h1M146.0 338.2h1M153.3 338.7h1M143.5 339.5h1M159.9 340.5h1M160.8 330.2h1M129.7 342.0h1M157.7 332.4h1M167.6 340.5h1M159.6 330.6h1M144.4 335.7h1M175.0 329.7h1M149.0 344.2h1M140.4 335.2h1M143.1 339.7h1M157.6 335.7h1M171.0 329.8h1M174.1 334.4h1M161.2 339.4h1M141.4 338.9h1M149.3 341.8h1M145.4 337.8h1M155.5 337.8h1M133.2 339.2h1M159.7 338.5h1M167.8 342.8h1M156.1 339.0h1M164.5 337.4h1M144.7 337.0h1M137.5 337.4h1M149.8 343.5h1M173.6 331.8h1M172.0 332.7h1M151.6 337.9h1M174.6 334.1h1M154.3 344.6h1M178.1 327.0h1M164.9 337.9h1M152.0 340.7h1M168.6 332.4h1M147.0 336.6h1M145.2 340.5h1M138.5 345.4h1M161.2 334.0h1M156.6 332.3h1M157.3 340.9h1M152.9 343.3h1M177.9 334.0h1M151.2 330.7h1M148.5 343.6h1M175.2 334.8h1M178.2 338.9h1M162.7 336.8h1M133.7 339.1h1M149.5 337.0h1M167.1 341.5h1M158.8 342.3h1M178.7 327.7h1M138.6 336.6h1M168.1 342.4h1M149.1 337.3h1M175.8 330.7h1M157.0 337.6h1M172.3 335.4h1M149.0 338.3h1M138.2 338.2h1M142.4 338.3h1M149.4 337.0h1M143.9 340.3h1M174.4 332.8h1M176.5 334.3h1M85.1 353.5h1M98.4 357.3h1M94.1 363.4h1M84.1 350.9h1M94.8 362.3h1M89.9 354.5h1M98.1 360.2h1M90.3 353.7h1M95.7 344.3h1M97.5 355.0h1M89.8 361.3h1M90.1 367.7h1M97.4 361.9h1M92.8 358.5h1M86.9 356.2h1M77.6 359.3h1M75.9 361.4h1M88.3 352.2h1M92.2 353.4h1M87.3 343.1h1M80.3 361.8h1M94.4 353.6h1M90.4 370.1h1M92.1 359.2h1M89.5 353.5h1M84.2 362.0h1M81.6 353.4h1M73.7 360.8h1M78.1 351.5h1M79.9 369.1h1M92.1 358.3h1M85.8 351.6h1M93.6 353.9h1M92.4 360.1h1M85.1 361.2h1M91.0 357.6h1M83.6 354.4h1M90.4 352.2h1M90.2 356.4h1M83.9 364.2h1M86.2 353.3h1M85.8 351.8h1M88.6 363.1h1M91.5 350.0h1M101.1 356.5h1M86.2 359.2h1M87.8 362.0h1M77.8 371.8h1M88.7 360.5h1M87.0 361.8h1M72.4 359.7h1M88.3 353.0h1M93.1 358.0h1M86.8 366.2h1M88.8 364.4h1M87.1 370.4h1M93.5 356.0h1M79.0 362.7h1M88.3 362.5h1M100.3 351.0h1M88.2 356.6h1M88.6 350.9h1M89.3 361.9h1M78.2 355.9h1M88.9 359.4h1M87.4 349.4h1M84.0 365.1h1M87.8 351.3h1M97.7 356.9h1M91.1 346.5h1M77.1 360.0h1M84.5 365.3h1M76.1 358.5h1M94.9 353.9h1M90.8 352.9h1M87.2 344.5h1M83.2 361.1h1M81.7 362.6h1M86.0 351.8h1M89.9 359.2h1M80.9 356.1h1M86.6 352.1h1M92.1 355.0h1M87.9 353.2h1M86.6 370.5h1M71.3 356.7h1M88.0 361.1h1M91.2 360.9h1M81.9 349.0h1M81.4 350.6h1M84.9 361.7h1M91.4 352.6h1M88.5 358.9h1M91.3 361.7h1M81.1 358.4h1M81.7 354.2h1M82.9 344.3h1M82.2 361.1h1M78.0 356.8h1M86.6 359.4h1M96.0 354.3h1M86.1 350.2h1M101.0 360.1h1M89.6 362.3h1M88.0 361.8h1M76.6 356.1h1M83.5 357.0h1M95.8 350.1h1M89.1 354.1h1M90.1 349.7h1M93.4 356.7h1M88.5 358.1h1M87.5 359.3h1M87.6 354.4h1M95.1 360.7h1M91.3 356.4h1M85.0 343.2h1M87.5 353.7h1M83.1 359.2h1M88.5 362.1h1M81.4 358.6h1M93.7 352.7h1M73.4 360.6h1M88.1 360.7h1M101.9 347.5h1M84.5 355.4h1M79.2 357.2h1M89.1 359.5h1M94.9 350.6h1M83.2 350.0h1M93.2 357.9h1M87.1 353.6h1M86.5 359.8h1M108.6 348.8h1M91.1 362.2h1M87.0 363.4h1M83.6 356.0h1M90.0 355.1h1M87.7 349.9h1M96.6 362.1h1M89.9 358.5h1M82.2 367.7h1M90.6 353.9h1M81.5 348.8h1M89.6 364.7h1M78.9 362.1h1M84.7 359.4h1M83.6 359.5h1M89.2 360.0h1M80.1 363.9h1M84.8 349.7h1M91.2 361.5h1M79.8 358.1h1M83.0 356.9h1M86.5 367.4h1M95.7 358.3h1M71.4 363.4h1M81.7 349.8h1M78.0 362.9h1M86.5 360.8h1M93.1 354.0h1M81.3 353.4h1M87.1 353.0h1M79.9 354.0h1M100.6 351.9h1M95.5 357.8h1M97.4 358.1h1M78.0 357.9h1M81.6 361.5h1M96.0 356.1h1M85.6 355.3h1M86.1 357.1h1M94.8 365.5h1M80.6 361.8h1M94.8 358.5h1M87.1 355.0h1M91.1 355.7h1M80.0 351.4h1M91.2 355.3h1M86.3 364.5h1M98.7 363.4h1M97.7 358.8h1M95.2 357.2h1M91.4 355.6h1M90.6 352.3h1M70.7 364.8h1M94.6 357.1h1M84.5 354.3h1M90.7 360.9h1M84.0 353.5h1M75.3 353.4h1M82.4 354.2h1M88.4 347.5h1M93.8 346.4h1M86.6 364.0h1M81.9 358.9h1M97.6 353.4h1M85.1 364.9h1M103.8 356.1h1M87.2 354.6h1M51.8 383.9h1M51.1 366.6h1M49.5 372.6h1M44.3 348.8h1M51.6 356.2h1M47.1 365.7h1M40.9 375.8h1M43.1 362.7h1M44.8 365.7h1M46.8 379.8h1M49.6 385.3h1M44.9 377.4h1M50.5 383.3h1M49.0 361.6h1M46.9 363.1h1M44.4 371.6h1M45.9 363.3h1M44.0 360.8h1M59.3 387.2h1M42.3 365.1h1M42.8 374.0h1M52.1 390.5h1M51.6 367.6h1M48.6 383.0h1M51.4 360.8h1M43.8 361.1h1M49.0 357.8h1M43.4 365.7h1M44.8 391.4h1M54.8 351.0h1M49.2 388.3h1M49.2 353.6h1M53.6 363.2h1M51.8 377.4h1M49.8 375.0h1M43.7 371.2h1M51.8 344.9h1M43.8 372.2h1M49.3 400.5h1M45.1 364.5h1M48.2 369.4h1M51.1 351.6h1M44.7 361.1h1M44.0 350.6h1M46.2 380.1h1M45.5 374.7h1M44.8 358.4h1M40.2 361.4h1M55.8 382.9h1M51.2 353.8h1M46.5 343.6h1M51.3 371.9h1M42.9 352.7h1M48.5 361.2h1M41.7 379.7h1M39.8 357.3h1M45.9 378.8h1M48.4 358.0h1M47.5 386.6h1M46.4 384.5h1M51.7 360.3h1M45.9 364.4h1M43.4 356.7h1M47.2 369.7h1M42.8 382.7h1M40.2 349.0h1M52.9 378.4h1M45.1 350.0h1M50.1 355.5h1M42.4 344.3h1M55.0 393.7h1M43.9 368.3h1M46.5 370.4h1M42.5 358.8h1M50.2 380.7h1M50.8 339.1h1M40.1 368.3h1M52.1 395.4h1M41.2 362.8h1M45.9 367.5h1M45.9 376.0h1M46.4 367.5h1M43.2 380.2h1M54.6 368.7h1M44.6 372.3h1M48.3 362.4h1M48.9 371.0h1M47.9 367.7h1M48.6 386.0h1M41.7 377.2h1M55.5 362.8h1M43.7 335.5h1M52.1 375.8h1M43.9 377.4h1M48.2 354.9h1M42.6 341.5h1M47.7 352.1h1M46.4 379.3h1M41.7 353.8h1M48.8 360.9h1M47.9 369.9h1M56.0 382.0h1M46.4 366.9h1M43.9 366.2h1M49.3 359.6h1M45.5 388.6h1M58.6 379.6h1M55.7 364.8h1M51.6 348.2h1M48.6 356.5h1M48.7 374.5h1M47.0 357.7h1M49.5 378.5h1M45.2 372.1h1M50.3 370.5h1M54.4 374.7h1M54.0 372.8h1M57.5 361.5h1M52.3 397.1h1M44.9 361.1h1M53.1 380.3h1M47.5 364.9h1M42.7 357.0h1M40.4 350.6h1M52.6 373.4h1M46.1 380.6h1M49.0 385.2h1M43.1 368.3h1M43.4 381.2h1M47.6 353.5h1M54.4 368.4h1M45.0 358.5h1M40.3 370.2h1M46.0 377.1h1M48.5 380.9h1M54.4 382.8h1M43.1 361.4h1M48.6 353.5h1M47.3 364.8h1M45.1 348.2h1M41.2 367.9h1M52.4 370.2h1M49.8 364.1h1M55.6 373.0h1M45.2 363.2h1M49.8 366.8h1M43.6 348.6h1M52.6 367.0h1M48.0 355.8h1M42.5 361.8h1M48.4 365.7h1M45.4 369.8h1M42.8 346.0h1M46.8 346.6h1M54.1 362.3h1M44.3 373.7h1M47.6 371.7h1M44.9 379.1h1M58.7 382.7h1M55.8 372.5h1M57.1 365.6h1M50.0 353.2h1M41.7 355.4h1M44.6 361.3h1M48.4 370.4h1M47.6 369.9h1M44.5 367.5h1M48.9 364.9h1M47.1 375.3h1M47.5 369.8h1M57.8 369.6h1M50.0 370.8h1M41.0 360.7h1M47.9 353.5h1M49.2 373.3h1M51.1 372.0h1M49.6 363.9h1M46.2 378.0h1M47.4 366.8h1M45.1 360.8h1M45.2 344.1h1M44.6 364.4h1M46.0 353.2h1M45.4 354.4h1M46.7 375.3h1M46.8 374.6h1M44.0 353.7h1M46.1 375.8h1M44.9 372.7h1M46.5 362.7h1M45.4 374.9h1M46.9 355.9h1M45.6 359.3h1M45.6 357.5h1M44.4 360.1h1M45.4 376.0h1M45.2 358.3h1M44.0 359.8h1M44.9 361.4h1M44.8 370.6h1M44.3 366.3h1M45.7 375.9h1M45.5 363.3h1M44.6 358.7h1M45.7 365.0h1M44.9 369.3h1M43.8 361.6h1M44.4 371.2h1M46.3 383.5h1M46.7 364.2h1M45.4 369.3h1M45.9 379.7h1M43.9 363.8h1M45.6 362.1h1M45.3 360.2h1M44.6 372.1h1M46.1 373.0h1M45.5 367.7h1M43.3 369.3h1M43.9 379.1h1M44.8 375.8h1M44.7 357.7h1M46.5 368.7h1M44.7 369.7h1M45.5 374.6h1M45.0 367.0h1M45.8 363.6h1M57.4 383.5h1M53.8 382.4h1M50.5 387.4h1M44.9 398.1h1M45.9 388.4h1M44.8 370.2h1M57.1 374.9h1M48.9 370.4h1M47.2 377.7h1M49.1 389.7h1M48.8 388.3h1M50.6 379.1h1M42.7 387.9h1M42.8 378.6h1M49.0 371.8h1M53.0 371.5h1M40.1 378.0h1M54.3 396.9h1M43.4 373.3h1M43.1 396.7h1M55.9 395.8h1M48.7 383.1h1M51.7 383.9h1M47.2 379.4h1M48.7 384.5h1M42.3 391.5h1M47.6 384.9h1M51.4 393.4h1M46.5 395.7h1M51.8 387.4h1M52.2 387.2h1M40.1 385.2h1M54.3 387.1h1M51.1 374.3h1M50.5 388.1h1M55.2 385.7h1M58.7 375.6h1M47.9 404.3h1M52.6 375.4h1M51.7 376.5h1M52.2 386.8h1M52.4 366.7h1M54.1 376.8h1M47.8 371.0h1M46.8 383.7h1M47.2 387.8h1M58.2 393.5h1M51.2 391.7h1M56.8 394.4h1M47.4 390.2h1M50.7 380.2h1M51.3 394.5h1M50.1 380.1h1M52.1 378.7h1M58.7 397.3h1M48.5 391.8h1M56.6 385.7h1M56.3 390.5h1M52.5 392.2h1M51.8 371.9h1M48.9 383.8h1M44.4 374.5h1M49.2 385.7h1M48.6 378.6h1M51.6 396.6h1M46.9 389.6h1M57.5 376.2h1M48.5 384.5h1M53.0 373.1h1M55.8 384.1h1M50.8 389.4h1M52.2 386.6h1M45.4 367.6h1M44.9 382.1h1M61.2 387.7h1M50.9 387.2h1M42.7 395.9h1M44.9 373.5h1M44.3 389.9h1M49.0 378.7h1M56.8 385.4h1M55.7 387.5h1M47.8 391.0h1M45.3 379.8h1M53.7 385.7h1M50.1 373.9h1M47.5 372.0h1M58.6 388.4h1M51.7 383.8h1M90.9 379.2h1M72.0 349.7h1M94.8 365.3h1M62.8 343.6h1M94.3 364.1h1M63.1 368.3h1M70.4 369.8h1M79.6 374.3h1M75.7 351.7h1M81.5 344.6h1M82.8 372.7h1M61.4 341.0h1M48.4 349.3h1M84.2 349.5h1M78.0 371.0h1M76.2 357.7h1M72.8 373.5h1M94.4 366.7h1M62.9 373.7h1M93.6 371.4h1M56.4 375.2h1M82.7 351.0h1M95.1 354.2h1M55.7 365.1h1M86.5 363.3h1M61.7 371.1h1M51.0 372.3h1M69.6 352.2h1M82.9 344.8h1M62.2 369.7h1M95.5 367.5h1M48.1 351.1h1M61.4 342.3h1M65.1 340.9h1M66.5 349.9h1M63.0 350.9h1M49.1 348.3h1M58.5 342.0h1M61.1 346.8h1M81.6 354.0h1M66.9 343.7h1M84.1 348.3h1M70.1 357.5h1M65.0 373.9h1M55.9 374.9h1M59.4 356.2h1M93.1 345.0h1M70.8 350.8h1M63.7 367.0h1M58.9 356.3h1M91.8 362.8h1M83.2 369.5h1M82.7 366.4h1M88.2 374.4h1M60.1 343.4h1M84.6 351.9h1M51.6 341.4h1M81.2 360.8h1M64.1 364.6h1M81.1 350.2h1M59.3 342.2h1M65.7 358.6h1M81.5 346.7h1M95.0 347.8h1M65.0 355.3h1M56.5 377.8h1M54.2 354.4h1M81.6 368.4h1M92.7 354.9h1M48.8 356.2h1M65.2 345.6h1M56.4 347.4h1M95.7 370.8h1M54.6 357.2h1M51.4 351.4h1M86.4 379.5h1M97.9 375.1h1M86.7 350.6h1M53.7 357.4h1M68.4 362.7h1M74.0 346.6h1M92.9 357.1h1M85.7 351.4h1M51.0 372.4h1M70.7 343.8h1M86.9 379.7h1M75.2 349.4h1M81.3 353.2h1M96.4 343.0h1M96.9 376.5h1M89.8 373.1h1M76.6 342.7h1M63.4 361.1h1M56.0 355.6h1M56.4 364.2h1M80.0 353.4h1M86.6 378.3h1M90.9 348.7h1M93.7 372.8h1M62.4 350.7h1M64.7 366.0h1M57.8 357.1h1M75.2 361.0h1M95.3 360.9h1M85.9 365.0h1M69.8 342.7h1M56.0 342.4h1M90.1 378.8h1M92.8 350.1h1M86.4 354.3h1M62.6 349.6h1M67.5 365.8h1M77.2 379.4h1M93.9 356.1h1M60.1 352.9h1M69.0 354.0h1M51.0 341.1h1M48.2 343.6h1M60.2 341.9h1M88.5 353.0h1M81.8 379.4h1M71.8 345.6h1M68.5 362.0h1M61.2 348.3h1M86.3 341.5h1M72.4 373.5h1M51.5 345.1h1M79.4 345.4h1M97.7 372.7h1M51.6 349.7h1M97.9 348.0h1M53.0 377.7h1M63.4 347.8h1M96.8 373.3h1M96.6 352.3h1M57.2 362.6h1M84.0 352.4h1M78.6 353.6h1M67.9 377.3h1M87.2 376.3h1M79.7 347.0h1M59.3 369.0h1M72.5 345.6h1M83.5 352.0h1M79.1 342.8h1M75.1 365.9h1M84.9 369.1h1M54.7 369.9h1M50.1 371.0h1M49.6 355.8h1M79.0 347.1h1M69.7 340.2h1M89.8 357.6h1M96.6 377.3h1M53.6 358.0h1M66.9 364.6h1M69.0 376.7h1M75.3 374.5h1M93.5 369.6h1M78.0 363.7h1M63.2 349.3h1M81.1 369.9h1M64.5 356.7h1M75.8 368.3h1M52.9 348.9h1M76.2 377.6h1M71.9 346.6h1M80.3 371.6h1M76.3 375.6h1M76.6 346.1h1M84.9 374.6h1M54.7 365.8h1M85.6 364.1h1M79.2 350.2h1M82.4 353.1h1M68.0 349.4h1M52.3 357.7h1M94.1 365.9h1M89.3 369.1h1M96.8 368.2h1M71.0 353.9h1M92.2 353.4h1M91.6 370.5h1M75.5 379.0h1M93.0 348.9h1M88.7 356.5h1M53.1 351.0h1M54.7 379.0h1M68.4 340.7h1M74.6 375.7h1M80.6 370.7h1M76.2 353.3h1M91.8 367.2h1M88.0 354.8h1M53.1 365.5h1M65.0 357.0h1M92.4 376.6h1M85.8 358.3h1M48.8 372.5h1M79.3 363.1h1M54.3 354.9h1M73.2 378.7h1M97.7 347.8h1M51.8 376.3h1M89.2 379.3h1M72.2 374.0h1M96.9 364.4h1M91.0 364.9h1M51.2 377.1h1M80.2 357.3h1M91.0 373.0h1M62.0 371.0h1M83.2 374.3h1M60.7 357.6h1M58.3 366.1h1M64.6 343.7h1M62.7 342.9h1M96.1 344.3h1M59.8 369.4h1M69.2 354.2h1M72.3 376.3h1M82.6 343.2h1M96.5 346.9h1M78.7 373.5h1M91.0 356.7h1M54.6 348.8h1M81.1 371.2h1M56.6 349.4h1M91.6 378.9h1M77.8 351.0h1M90.4 291.4h1M54.5 332.0h1M66.9 317.1h1M114.0 315.0h1M45.6 285.6h1M59.3 334.3h1M90.2 316.5h1M108.6 332.6h1M106.0 284.9h1M99.0 324.6h1M96.8 308.8h1M71.1 317.7h1M46.8 322.0h1M91.6 331.0h1M47.7 335.0h1M104.3 294.1h1M52.2 332.4h1M43.9 289.5h1M119.9 273.8h1M55.1 304.2h1M87.4 303.1h1M46.8 328.7h1M118.5 318.9h1M43.3 309.6h1M95.7 329.5h1M107.8 335.5h1M65.1 322.8h1M42.6 323.4h1M44.9 332.5h1M46.8 303.6h1M100.8 337.8h1M83.2 294.9h1M111.9 280.8h1M91.3 330.9h1M88.3 294.8h1M57.7 306.4h1M59.4 316.5h1M118.3 288.9h1M116.3 311.7h1M76.1 307.5h1M104.0 286.1h1M98.2 321.0h1M63.7 313.2h1M57.6 293.5h1M100.4 329.4h1M117.1 310.9h1M118.7 277.4h1M69.9 333.2h1M47.1 310.8h1M66.9 286.8h1M47.5 303.4h1M119.0 301.0h1M66.0 280.5h1M108.1 306.1h1M61.2 294.3h1M116.9 297.9h1M80.2 324.4h1M107.0 293.4h1M88.7 276.5h1M101.8 295.1h1M47.7 303.8h1M48.8 294.0h1M69.9 320.7h1M110.5 333.2h1M112.9 331.2h1M97.4 314.2h1M88.7 329.3h1M45.8 329.5h1M114.4 322.5h1M93.5 330.0h1M90.0 309.0h1M107.7 327.7h1M60.4 317.0h1M90.4 327.3h1M95.3 327.3h1M101.0 283.7h1M49.4 331.3h1M98.8 279.3h1M112.4 311.9h1M91.0 320.4h1M55.3 330.9h1M113.7 282.6h1M50.0 324.2h1M60.0 307.0h1M108.7 280.1h1M87.9 306.2h1M68.2 322.8h1M104.7 285.8h1M92.5 331.9h1M51.2 280.4h1M60.1 299.9h1M105.2 306.0h1M105.3 283.5h1M47.8 335.1h1M82.7 336.7h1M97.6 334.3h1M67.4 296.8h1M46.9 331.3h1M74.5 306.5h1M114.9 303.4h1M99.0 325.1h1M58.6 286.1h1M107.9 272.0h1M94.1 335.3h1M64.6 307.5h1M63.0 329.7h1M55.8 311.8h1M73.6 286.9h1M70.1 314.5h1M64.3 294.5h1M110.2 285.6h1M101.4 275.9h1M80.4 310.3h1M117.1 301.3h1M94.5 306.4h1M116.2 336.5h1M106.3 331.1h1M91.5 325.8h1M96.1 300.2h1M102.4 327.8h1M101.1 325.4h1M110.1 317.3h1M68.5 299.8h1M70.3 297.5h1M61.3 311.4h1M113.9 302.5h1M112.5 333.4h1M76.5 314.0h1M73.3 324.5h1M52.3 333.9h1M40.5 339.6h1M59.3 334.1h1M108.0 339.3h1M80.6 333.4h1M44.5 331.3h1M80.4 335.5h1M89.3 338.0h1M49.4 337.2h1M68.2 328.2h1M55.0 331.1h1M78.0 339.0h1M97.6 331.1h1M56.8 336.4h1M49.8 331.4h1M49.7 337.0h1M83.0 323.2h1M44.9 322.0h1M76.8 323.6h1M96.7 329.8h1M93.7 328.6h1M86.9 339.3h1M40.8 339.9h1M70.2 324.4h1M57.0 337.0h1M76.1 331.2h1M50.6 337.1h1M49.5 328.6h1M106.6 335.9h1M101.6 322.1h1M46.8 330.4h1M97.9 328.0h1M44.6 326.5h1M63.7 327.4h1M109.6 329.5h1M105.8 330.9h1M72.7 331.4h1M89.1 335.2h1M66.8 336.9h1M99.4 339.3h1M62.1 334.0h1M54.4 326.6h1M50.1 332.4h1M84.2 329.9h1M79.0 326.2h1M103.2 328.0h1M50.3 326.1h1M96.3 331.7h1M106.1 323.2h1M92.3 331.8h1M48.1 329.4h1M158.4 318.3h1M181.0 317.3h1M164.0 321.0h1M154.2 327.4h1M179.8 318.2h1M153.3 322.7h1M168.2 316.7h1M180.1 326.2h1M180.0 317.5h1M166.9 327.9h1M155.2 325.2h1M165.0 318.9h1M157.9 326.5h1M158.7 321.2h1M158.8 323.9h1M154.9 324.3h1M149.3 320.1h1M173.5 322.3h1M148.4 327.8h1M167.5 329.0h1M160.5 328.7h1M170.1 324.5h1M167.7 329.1h1M164.3 318.1h1M174.4 330.8h1M167.4 316.7h1M178.5 329.5h1M167.9 327.9h1M177.8 321.9h1M177.4 327.9h1M172.0 330.4h1M159.2 318.5h1M164.5 325.7h1M150.7 316.1h1M172.7 326.0h1M170.0 316.9h1M175.8 326.0h1M150.9 316.4h1M152.4 322.1h1M170.0 329.0h1M177.4 320.6h1M169.5 297.6h1M164.4 296.1h1M152.1 306.4h1M126.9 306.9h1M114.3 296.8h1M126.7 298.4h1M195.2 302.1h1M183.3 295.5h1M161.3 300.2h1M165.2 295.9h1M177.1 307.9h1M196.4 376.1h1M102.8 355.4h1M107.2 375.2h1M99.2 368.5h1M125.3 356.3h1M189.7 356.5h1M160.8 354.0h1M107.0 364.6h1M101.6 383.4h1M172.5 374.6h1M158.6 353.9h1M90.3 353.1h1M154.6 356.3h1M110.9 353.8h1M122.3 353.5h1M101.1 372.0h1M199.1 357.2h1M140.3 365.3h1M157.9 357.2h1M112.5 384.2h1M131.3 366.3h1M161.2 353.4h1M172.1 374.1h1M189.8 356.5h1M117.2 361.4h1M116.4 356.5h1M134.3 362.5h1M123.9 357.0h1M180.1 357.3h1M130.8 353.7h1M131.1 382.9h1M145.3 354.7h1M152.0 356.4h1M128.9 359.9h1M91.0 353.1h1M170.9 355.1h1M102.6 359.8h1M184.0 366.0h1M117.2 364.2h1M118.1 358.7h1M148.9 369.7h1M189.8 372.6h1M131.9 355.9h1M142.9 355.4h1M135.6 367.6h1M102.3 360.0h1M121.7 376.5h1M190.8 352.0h1M193.3 364.4h1M118.0 358.1h1M191.2 354.8h1M91.7 378.3h1M169.1 354.9h1M92.8 374.6h1M136.9 377.6h1M75.4 392.4h1M164.9 393.0h1M78.0 408.2h1M68.2 390.6h1M87.4 380.5h1" stroke="#151515" stroke-width="1.1" stroke-opacity="0.92" fill="none"/>
<polyline points="35.6,238.8 36.2,262 38.9,341.2 247,323.4 248.6,238.8" fill="none" stroke="#1a1a1a" stroke-width="1"/>
<text x="65" y="253.6" font-family='"DejaVu Serif", "Liberation Serif", serif' font-size="7.3" font-weight="bold" text-anchor="start" fill="#1a1a1a" textLength="142" lengthAdjust="spacingAndGlyphs" >MYELOID ENRICHED GATE</text>
<text x="65" y="261" font-family='"DejaVu Serif", "Liberation Serif", serif' font-size="7.3" font-weight="bold" text-anchor="start" fill="#1a1a1a" textLength="104" lengthAdjust="spacingAndGlyphs" >BCL-2 EXPRESSION</text>
<text x="74" y="385.8" font-family='"DejaVu Serif", "Liberation Serif", serif' font-size="6.6" font-weight="bold" text-anchor="start" fill="#1a1a1a" textLength="76" lengthAdjust="spacingAndGlyphs" >APOPTOTIC CELLS</text>
<text x="245.6" y="245.4" font-family='"DejaVu Serif", "Liberation Serif", serif' font-size="5.6" font-weight="bold" text-anchor="middle" fill="#1a1a1a" textLength="3.0" lengthAdjust="spacingAndGlyphs" >1</text>
<path d="M69.5 401.3L54.5 383.8M64.5 384.6L54.5 383.8L55.5 392.5" fill="none" stroke="#1a1a1a" stroke-width="1.3"/>
<text x="127.3" y="432.2" font-family='"DejaVu Serif", "Liberation Serif", serif' font-size="8.1" font-weight="normal" text-anchor="start" fill="#1a1a1a" textLength="34.4" lengthAdjust="spacingAndGlyphs" stroke="#1a1a1a" stroke-width="0.25">FL3-H</text>
<text transform="translate(10.2 330.2) rotate(-90)" font-family='"DejaVu Serif", "Liberation Serif", serif' font-size="7.9" font-weight="normal" stroke="#1a1a1a" stroke-width="0.2" text-anchor="middle" fill="#1a1a1a" textLength="33" lengthAdjust="spacingAndGlyphs">FL1-H</text>
<text x="3.8" y="430.6" font-family='"DejaVu Serif", "Liberation Serif", serif' font-size="3.4" font-weight="bold" text-anchor="start" fill="#1a1a1a" textLength="115.6" lengthAdjust="spacingAndGlyphs" stroke="#1a1a1a" stroke-width="0.3">GATE:FL3-A/FL3-H;FL3-H/FL3-H SSC-H/FL3-H FL1-H</text>
<g transform="translate(297.8 237.9) matrix(1 0.0046 -0.0122 1 0 0) translate(-297.8 -237.9)">
<rect x="297.8" y="237.9" width="218.40000000000003" height="180.6" fill="none" stroke="#1a1a1a" stroke-width="1.1"/>
<line x1="297.80" y1="418.5" x2="297.80" y2="420.0" stroke="#1a1a1a" stroke-width="0.8" />
<line x1="297.80" y1="237.9" x2="297.80" y2="239.4" stroke="#1a1a1a" stroke-width="0.8" />
<line x1="296.3" y1="418.50" x2="297.8" y2="418.50" stroke="#1a1a1a" stroke-width="0.8" />
<line x1="514.7" y1="418.50" x2="516.2" y2="418.50" stroke="#1a1a1a" stroke-width="0.8" />
<line x1="325.10" y1="418.5" x2="325.10" y2="420.0" stroke="#1a1a1a" stroke-width="0.8" />
<line x1="325.10" y1="237.9" x2="325.10" y2="239.4" stroke="#1a1a1a" stroke-width="0.8" />
<line x1="296.3" y1="395.93" x2="297.8" y2="395.93" stroke="#1a1a1a" stroke-width="0.8" />
<line x1="514.7" y1="395.93" x2="516.2" y2="395.93" stroke="#1a1a1a" stroke-width="0.8" />
<line x1="352.40" y1="418.5" x2="352.40" y2="420.0" stroke="#1a1a1a" stroke-width="0.8" />
<line x1="352.40" y1="237.9" x2="352.40" y2="239.4" stroke="#1a1a1a" stroke-width="0.8" />
<line x1="296.3" y1="373.35" x2="297.8" y2="373.35" stroke="#1a1a1a" stroke-width="0.8" />
<line x1="514.7" y1="373.35" x2="516.2" y2="373.35" stroke="#1a1a1a" stroke-width="0.8" />
<line x1="379.70" y1="418.5" x2="379.70" y2="420.0" stroke="#1a1a1a" stroke-width="0.8" />
<line x1="379.70" y1="237.9" x2="379.70" y2="239.4" stroke="#1a1a1a" stroke-width="0.8" />
<line x1="296.3" y1="350.77" x2="297.8" y2="350.77" stroke="#1a1a1a" stroke-width="0.8" />
<line x1="514.7" y1="350.77" x2="516.2" y2="350.77" stroke="#1a1a1a" stroke-width="0.8" />
<line x1="407.00" y1="418.5" x2="407.00" y2="420.0" stroke="#1a1a1a" stroke-width="0.8" />
<line x1="407.00" y1="237.9" x2="407.00" y2="239.4" stroke="#1a1a1a" stroke-width="0.8" />
<line x1="296.3" y1="328.20" x2="297.8" y2="328.20" stroke="#1a1a1a" stroke-width="0.8" />
<line x1="514.7" y1="328.20" x2="516.2" y2="328.20" stroke="#1a1a1a" stroke-width="0.8" />
<line x1="434.30" y1="418.5" x2="434.30" y2="420.0" stroke="#1a1a1a" stroke-width="0.8" />
<line x1="434.30" y1="237.9" x2="434.30" y2="239.4" stroke="#1a1a1a" stroke-width="0.8" />
<line x1="296.3" y1="305.62" x2="297.8" y2="305.62" stroke="#1a1a1a" stroke-width="0.8" />
<line x1="514.7" y1="305.62" x2="516.2" y2="305.62" stroke="#1a1a1a" stroke-width="0.8" />
<line x1="461.60" y1="418.5" x2="461.60" y2="420.0" stroke="#1a1a1a" stroke-width="0.8" />
<line x1="461.60" y1="237.9" x2="461.60" y2="239.4" stroke="#1a1a1a" stroke-width="0.8" />
<line x1="296.3" y1="283.05" x2="297.8" y2="283.05" stroke="#1a1a1a" stroke-width="0.8" />
<line x1="514.7" y1="283.05" x2="516.2" y2="283.05" stroke="#1a1a1a" stroke-width="0.8" />
<line x1="488.90" y1="418.5" x2="488.90" y2="420.0" stroke="#1a1a1a" stroke-width="0.8" />
<line x1="488.90" y1="237.9" x2="488.90" y2="239.4" stroke="#1a1a1a" stroke-width="0.8" />
<line x1="296.3" y1="260.48" x2="297.8" y2="260.48" stroke="#1a1a1a" stroke-width="0.8" />
<line x1="514.7" y1="260.48" x2="516.2" y2="260.48" stroke="#1a1a1a" stroke-width="0.8" />
<line x1="516.20" y1="418.5" x2="516.20" y2="420.0" stroke="#1a1a1a" stroke-width="0.8" />
<line x1="516.20" y1="237.9" x2="516.20" y2="239.4" stroke="#1a1a1a" stroke-width="0.8" />
<line x1="296.3" y1="237.90" x2="297.8" y2="237.90" stroke="#1a1a1a" stroke-width="0.8" />
<line x1="514.7" y1="237.90" x2="516.2" y2="237.90" stroke="#1a1a1a" stroke-width="0.8" />
<text x="296.4" y="420.30" font-family='"DejaVu Serif", "Liberation Serif", serif' font-size="5.3" font-weight="bold" text-anchor="end" fill="#1a1a1a" textLength="4.4" lengthAdjust="spacingAndGlyphs">0</text>
<text x="296.4" y="397.73" font-family='"DejaVu Serif", "Liberation Serif", serif' font-size="5.3" font-weight="bold" text-anchor="end" fill="#1a1a1a" textLength="8.8" lengthAdjust="spacingAndGlyphs">16</text>
<text x="296.4" y="375.15" font-family='"DejaVu Serif", "Liberation Serif", serif' font-size="5.3" font-weight="bold" text-anchor="end" fill="#1a1a1a" textLength="8.8" lengthAdjust="spacingAndGlyphs">32</text>
<text x="296.4" y="352.57" font-family='"DejaVu Serif", "Liberation Serif", serif' font-size="5.3" font-weight="bold" text-anchor="end" fill="#1a1a1a" textLength="8.8" lengthAdjust="spacingAndGlyphs">48</text>
<text x="296.4" y="330.00" font-family='"DejaVu Serif", "Liberation Serif", serif' font-size="5.3" font-weight="bold" text-anchor="end" fill="#1a1a1a" textLength="8.8" lengthAdjust="spacingAndGlyphs">64</text>
<text x="296.4" y="307.43" font-family='"DejaVu Serif", "Liberation Serif", serif' font-size="5.3" font-weight="bold" text-anchor="end" fill="#1a1a1a" textLength="8.8" lengthAdjust="spacingAndGlyphs">80</text>
<text x="296.4" y="284.85" font-family='"DejaVu Serif", "Liberation Serif", serif' font-size="5.3" font-weight="bold" text-anchor="end" fill="#1a1a1a" textLength="8.8" lengthAdjust="spacingAndGlyphs">96</text>
<text x="296.4" y="262.28" font-family='"DejaVu Serif", "Liberation Serif", serif' font-size="5.3" font-weight="bold" text-anchor="end" fill="#1a1a1a" textLength="13.2" lengthAdjust="spacingAndGlyphs">112</text>
<text x="296.4" y="241.50" font-family='"DejaVu Serif", "Liberation Serif", serif' font-size="5.3" font-weight="bold" text-anchor="end" fill="#1a1a1a" textLength="13.2" lengthAdjust="spacingAndGlyphs">128</text>
<text x="297.2" y="424.3" font-family='"DejaVu Serif", "Liberation Serif", serif' font-size="5.3" font-weight="bold" text-anchor="middle" fill="#1a1a1a" textLength="4.4" lengthAdjust="spacingAndGlyphs">0</text>
<text x="324.8" y="424.3" font-family='"DejaVu Serif", "Liberation Serif", serif' font-size="5.3" font-weight="bold" text-anchor="middle" fill="#1a1a1a" textLength="8.8" lengthAdjust="spacingAndGlyphs">16</text>
<text x="353.3" y="424.3" font-family='"DejaVu Serif", "Liberation Serif", serif' font-size="5.3" font-weight="bold" text-anchor="middle" fill="#1a1a1a" textLength="8.8" lengthAdjust="spacingAndGlyphs">32</text>
<text x="380.6" y="424.3" font-family='"DejaVu Serif", "Liberation Serif", serif' font-size="5.3" font-weight="bold" text-anchor="middle" fill="#1a1a1a" textLength="8.8" lengthAdjust="spacingAndGlyphs">48</text>
<text x="407.9" y="424.3" font-family='"DejaVu Serif", "Liberation Serif", serif' font-size="5.3" font-weight="bold" text-anchor="middle" fill="#1a1a1a" textLength="8.8" lengthAdjust="spacingAndGlyphs">64</text>
<text x="435.2" y="424.3" font-family='"DejaVu Serif", "Liberation Serif", serif' font-size="5.3" font-weight="bold" text-anchor="middle" fill="#1a1a1a" textLength="8.8" lengthAdjust="spacingAndGlyphs">80</text>
<text x="462.5" y="424.3" font-family='"DejaVu Serif", "Liberation Serif", serif' font-size="5.3" font-weight="bold" text-anchor="middle" fill="#1a1a1a" textLength="8.8" lengthAdjust="spacingAndGlyphs">96</text>
<text x="489.8" y="424.3" font-family='"DejaVu Serif", "Liberation Serif", serif' font-size="5.3" font-weight="bold" text-anchor="middle" fill="#1a1a1a" textLength="13.2" lengthAdjust="spacingAndGlyphs">112</text>
<text x="509.6" y="424.3" font-family='"DejaVu Serif", "Liberation Serif", serif' font-size="5.3" font-weight="bold" text-anchor="middle" fill="#1a1a1a" textLength="13.2" lengthAdjust="spacingAndGlyphs">128</text>
</g>
<path d="M356.9 337.6h1M367.2 343.2h1M367.0 346.0h1M355.8 348.0h1M356.9 346.7h1M353.2 337.8h1M360.8 339.1h1M357.2 341.3h1M361.8 338.2h1M347.4 350.3h1M368.1 341.2h1M357.4 343.1h1M362.8 343.8h1M356.2 339.5h1M354.7 340.1h1M360.1 338.8h1M363.7 343.6h1M357.1 344.6h1M357.6 345.5h1M363.4 346.1h1M351.2 339.1h1M347.9 343.2h1M360.6 342.9h1M352.5 338.8h1M345.4 344.0h1M353.9 348.2h1M356.1 348.0h1M351.5 349.1h1M348.6 345.5h1M358.0 342.1h1M364.7 345.8h1M356.2 341.9h1M353.6 345.5h1M361.7 347.5h1M362.2 340.4h1M355.5 341.1h1M361.4 342.1h1M365.2 343.7h1M357.2 345.2h1M353.0 344.9h1M360.7 344.6h1M358.0 336.4h1M364.1 337.9h1M350.1 345.7h1M352.9 340.4h1M351.4 339.1h1M345.9 341.0h1M357.9 339.2h1M361.2 341.5h1M352.3 340.2h1M367.0 341.7h1M364.8 348.3h1M361.8 341.4h1M361.8 347.3h1M364.3 342.6h1M348.5 340.8h1M361.6 341.0h1M360.8 338.2h1M347.6 348.8h1M359.1 338.0h1M357.7 348.5h1M363.5 344.0h1M353.3 335.8h1M358.6 346.1h1M361.7 348.5h1M351.7 341.3h1M362.7 345.9h1M355.6 336.2h1M361.4 343.2h1M353.1 337.4h1M365.3 343.2h1M360.1 335.1h1M354.3 333.1h1M362.4 343.5h1M368.2 349.9h1M368.7 337.9h1M348.9 348.7h1M363.7 342.0h1M360.6 341.0h1M358.0 345.5h1M353.2 351.0h1M364.7 336.2h1M350.6 347.2h1M361.9 343.4h1M364.8 335.4h1M349.5 351.8h1M358.0 351.0h1M348.8 341.4h1M361.2 349.4h1M367.6 340.8h1M370.6 339.2h1M348.2 351.6h1M354.6 344.8h1M362.8 343.1h1M369.4 346.4h1M361.9 347.3h1M354.2 347.6h1M358.5 337.1h1M356.4 336.9h1M357.8 347.7h1M352.5 340.6h1M360.6 343.0h1M358.9 338.3h1M357.2 342.4h1M355.4 338.4h1M351.5 351.4h1M353.9 339.8h1M365.5 340.6h1M356.6 342.6h1M350.1 350.0h1M365.0 335.4h1M361.3 342.0h1M371.1 338.9h1M358.9 345.0h1M355.5 345.6h1M348.4 343.5h1M366.6 341.8h1M373.8 337.5h1M353.3 346.1h1M353.8 343.6h1M361.1 339.5h1M352.7 344.2h1M356.6 344.8h1M358.0 352.3h1M358.7 340.8h1M365.2 342.5h1M359.6 348.6h1M361.8 333.5h1M353.7 336.9h1M358.9 337.9h1M344.4 345.9h1M351.2 354.8h1M363.4 343.3h1M355.5 348.6h1M361.4 341.2h1M359.0 332.6h1M364.1 331.9h1M364.1 345.7h1M364.6 342.1h1M356.0 338.1h1M354.7 348.4h1M351.9 338.2h1M356.0 348.2h1M352.3 350.4h1M353.8 340.9h1M356.3 338.8h1M360.4 345.9h1M354.8 339.3h1M346.7 349.4h1M356.4 338.5h1M360.2 345.8h1M364.9 341.7h1M361.2 340.4h1M353.1 340.5h1M353.7 345.1h1M368.8 332.5h1M362.5 340.7h1M369.2 338.6h1M372.1 342.3h1M351.6 339.4h1M362.1 349.0h1M360.6 341.1h1M360.4 337.7h1M362.8 347.5h1M360.9 349.1h1M358.9 342.0h1M347.7 341.9h1M357.0 343.3h1M352.6 341.5h1M358.5 341.6h1M356.6 349.8h1M362.3 343.5h1M363.3 342.3h1M360.3 343.9h1M359.9 342.3h1M359.4 346.1h1M356.0 347.1h1M356.6 341.8h1M355.0 344.2h1M362.8 351.8h1M358.5 344.6h1M361.5 341.4h1M351.6 353.0h1M363.6 341.6h1M352.1 339.9h1M354.0 346.8h1M355.9 339.8h1M354.0 342.0h1M360.2 343.8h1M354.3 343.4h1M350.5 341.7h1M352.1 342.2h1M365.7 338.6h1M359.4 347.5h1M349.9 342.0h1M357.5 340.8h1M350.2 353.4h1M368.7 338.0h1M349.8 351.2h1M362.3 347.4h1M361.3 341.6h1M347.5 339.8h1M360.3 344.3h1M364.9 344.0h1M361.9 346.0h1M359.7 342.9h1M365.2 346.2h1M360.4 348.1h1M359.1 338.4h1M358.6 348.7h1M362.2 342.7h1M351.5 342.3h1M362.7 340.5h1M356.6 351.1h1M352.1 348.5h1M358.6 335.5h1M368.8 340.7h1M363.9 340.9h1M354.6 343.1h1M361.9 339.9h1M353.7 338.1h1M358.1 346.5h1M357.7 339.2h1M343.0 345.2h1M358.6 340.4h1M350.8 341.8h1M354.3 347.0h1M349.1 346.8h1M347.8 342.8h1M351.1 340.8h1M362.8 339.9h1M369.4 344.1h1M358.0 343.5h1M365.1 342.2h1M356.0 342.1h1M345.7 345.0h1M359.2 343.6h1M359.0 335.1h1M356.9 349.9h1M359.1 339.5h1M361.1 339.9h1M353.9 349.6h1M348.9 346.2h1M356.6 343.5h1M356.1 341.1h1M354.3 337.5h1M364.4 342.2h1M370.0 344.9h1M354.5 340.2h1M363.7 347.2h1M362.8 337.1h1M361.8 339.0h1M365.1 343.3h1M355.5 343.6h1M363.3 344.5h1M370.0 336.9h1M362.1 337.7h1M352.3 336.7h1M360.7 337.4h1M364.9 336.8h1M358.9 336.9h1M354.7 345.1h1M367.1 338.0h1M348.2 337.3h1M363.6 351.8h1M357.1 339.8h1M349.3 340.0h1M366.9 345.9h1M361.3 347.0h1M349.5 340.4h1M360.4 336.3h1M354.3 339.8h1M347.1 350.4h1M353.4 342.9h1M358.9 339.4h1M362.0 341.9h1M360.2 347.4h1M356.9 337.5h1M360.6 340.8h1M355.3 338.0h1M367.5 349.6h1M360.7 349.8h1M360.8 346.2h1M361.3 341.6h1M352.0 347.2h1M351.5 336.0h1M367.9 341.7h1M358.8 337.3h1M354.9 338.3h1M359.5 339.7h1M354.6 342.4h1M360.3 344.8h1M354.5 346.8h1M360.0 343.6h1M347.1 341.8h1M367.0 343.5h1M354.6 343.3h1M349.2 350.1h1M355.7 339.8h1M353.0 332.9h1M358.5 340.9h1M352.9 353.2h1M361.0 344.2h1M380.7 336.5h1M350.8 348.4h1M360.6 344.4h1M356.5 345.3h1M358.7 340.7h1M346.6 346.2h1M350.9 345.6h1M360.3 339.8h1M356.7 338.7h1M368.4 341.0h1M354.5 347.9h1M359.7 345.2h1M376.8 340.3h1M353.7 346.2h1M354.8 354.5h1M358.0 344.1h1M358.7 347.1h1M365.2 349.3h1M358.9 343.0h1M353.5 345.2h1M360.3 346.7h1M376.3 345.4h1M366.3 342.2h1M340.8 348.8h1M357.2 343.6h1M351.3 339.7h1M363.0 346.4h1M356.7 342.3h1M368.5 333.3h1M363.7 341.0h1M361.9 334.9h1M358.2 338.8h1M357.8 343.1h1M359.3 338.9h1M367.2 345.1h1M359.9 336.5h1M356.0 344.6h1M366.6 343.2h1M360.6 348.4h1M358.4 346.7h1M353.2 345.2h1M354.5 344.2h1M353.9 343.8h1M341.5 351.9h1M363.8 338.9h1M362.1 344.2h1M356.6 343.0h1M364.8 342.3h1M360.5 341.3h1M362.4 350.7h1M341.8 344.4h1M356.8 344.4h1M361.6 343.3h1M368.8 342.9h1M370.1 341.9h1M367.4 342.4h1M351.6 348.7h1M342.7 340.7h1M361.6 342.2h1M357.0 338.2h1M364.3 342.4h1M356.1 338.7h1M358.5 339.0h1M348.5 345.2h1M362.2 347.8h1M355.8 346.0h1M360.5 343.6h1M362.3 347.8h1M356.4 339.6h1M358.0 334.4h1M357.5 341.4h1M362.5 340.8h1M362.4 347.1h1M356.6 352.2h1M353.0 338.8h1M371.4 349.9h1M358.9 349.3h1M365.1 344.7h1M360.9 343.9h1M356.8 353.4h1M353.4 344.5h1M358.3 341.0h1M359.8 343.2h1M360.6 336.8h1M350.5 346.9h1M354.2 343.6h1M357.7 344.5h1M368.5 341.9h1M342.1 342.7h1M362.1 347.5h1M353.6 340.0h1M361.6 345.8h1M353.4 337.6h1M360.7 343.9h1M367.1 337.4h1M360.3 342.7h1M360.1 339.8h1M358.2 334.0h1M352.2 339.9h1M361.5 342.5h1M357.3 345.8h1M351.5 338.6h1M355.7 334.9h1M355.7 340.0h1M362.6 341.1h1M357.1 340.7h1M353.9 340.8h1M368.0 344.1h1M365.2 345.2h1M366.7 343.9h1M360.9 338.5h1M357.4 343.5h1M355.2 343.0h1M354.9 338.0h1M364.8 345.0h1M358.8 343.2h1M348.2 343.5h1M359.1 348.6h1M349.8 348.3h1M359.9 346.1h1M351.6 349.6h1M350.7 347.8h1M357.5 338.0h1M357.1 341.7h1M348.5 349.6h1M362.0 338.9h1M371.7 339.8h1M349.1 346.9h1M370.9 345.8h1M354.9 349.2h1M355.8 347.3h1M356.7 342.6h1M349.8 348.9h1M366.7 343.1h1M361.0 341.6h1M354.6 349.5h1M356.7 345.4h1M347.7 342.5h1M357.0 348.5h1M363.7 340.6h1M347.8 348.1h1M353.8 337.8h1M358.9 342.7h1M363.7 337.7h1M365.6 337.1h1M353.3 336.4h1M355.4 352.5h1M360.7 341.8h1M356.0 344.5h1M357.1 347.8h1M364.7 340.9h1M369.2 342.4h1M358.4 337.3h1M357.0 344.1h1M361.2 340.5h1M346.6 348.0h1M358.1 343.8h1M350.0 339.3h1M371.3 332.1h1M361.6 338.0h1M359.6 345.7h1M357.2 345.0h1M342.5 348.6h1M360.5 334.1h1M365.7 330.0h1M352.8 341.8h1M362.0 340.7h1M362.0 339.5h1M348.6 346.8h1M363.7 340.9h1M365.4 336.3h1M358.6 339.2h1M357.7 343.7h1M363.0 342.1h1M348.2 345.2h1M360.8 351.7h1M364.4 340.3h1M350.3 345.4h1M363.3 337.6h1M355.0 342.3h1M345.4 348.3h1M357.9 345.4h1M351.7 343.9h1M360.4 344.0h1M350.7 345.1h1M362.8 334.0h1M350.2 331.5h1M362.5 351.4h1M355.1 347.2h1M355.9 343.3h1M363.8 334.4h1M358.1 337.7h1M356.8 348.9h1M347.4 334.2h1M365.0 339.9h1M363.5 345.2h1M356.1 344.1h1M360.3 345.5h1M351.4 344.1h1M353.9 353.9h1M351.8 340.3h1M358.9 337.2h1M360.1 343.6h1M354.7 349.7h1M362.6 341.6h1M364.0 345.8h1M358.6 340.7h1M363.4 336.8h1M357.5 348.9h1M358.8 349.3h1M362.5 348.2h1M357.4 341.4h1M361.9 337.3h1M349.0 340.4h1M366.8 339.9h1M353.6 346.5h1M357.5 345.2h1M348.9 337.9h1M357.8 343.0h1M357.9 346.6h1M357.1 342.1h1M355.6 338.5h1M356.3 344.4h1M359.6 343.0h1M358.2 346.0h1M358.6 345.7h1M353.8 343.5h1M359.0 344.1h1M355.2 338.7h1M348.5 348.8h1M359.2 343.4h1M356.6 346.7h1M361.8 345.3h1M356.1 342.9h1M356.5 343.2h1M357.3 340.8h1M355.5 337.9h1M354.9 343.6h1M349.3 345.8h1M364.3 338.5h1M350.6 347.1h1M355.6 344.1h1M360.1 344.0h1M358.1 340.9h1M358.3 338.0h1M360.9 344.7h1M362.9 343.7h1M358.2 342.8h1M369.4 339.1h1M352.4 343.8h1M357.9 342.8h1M355.1 342.5h1M353.2 338.6h1M358.8 345.3h1M362.3 337.8h1M353.7 343.3h1M353.7 343.4h1M360.3 343.4h1M358.3 338.5h1M366.4 344.6h1M361.9 344.1h1M358.5 345.3h1M356.4 347.3h1M357.4 341.1h1M354.1 335.1h1M351.3 345.9h1M357.9 347.0h1M357.0 346.8h1M355.6 342.3h1M355.1 343.7h1M364.6 342.4h1M358.8 337.8h1M360.6 340.6h1M353.9 342.4h1M353.6 348.9h1M355.3 342.0h1M359.1 347.5h1M355.5 343.9h1M355.0 339.1h1M362.7 348.5h1M357.6 340.5h1M353.1 346.2h1M356.3 348.6h1M353.8 342.8h1M357.0 340.0h1M352.6 347.6h1M356.3 343.9h1M359.2 339.4h1M356.4 340.5h1M352.7 343.4h1M355.0 346.8h1M357.3 342.6h1M359.6 344.8h1M361.8 347.1h1M357.2 347.1h1M352.2 348.8h1M364.1 345.3h1M357.2 338.8h1M359.6 346.4h1M358.6 344.1h1M352.4 344.3h1M354.9 340.9h1M357.0 338.9h1M360.8 339.4h1M357.2 343.4h1M342.6 343.7h1M355.4 341.5h1M358.1 341.4h1M363.1 343.9h1M359.9 341.9h1M367.8 340.4h1M364.1 345.5h1M362.7 341.2h1M361.5 344.1h1M350.2 342.1h1M360.9 343.5h1M359.7 343.2h1M354.8 344.6h1M359.2 341.6h1M358.1 340.2h1M354.8 343.2h1M356.1 342.4h1M356.6 346.6h1M358.6 345.7h1M354.3 340.7h1M359.8 344.6h1M348.3 344.3h1M356.1 345.1h1M349.3 344.0h1M353.9 340.0h1M359.9 345.7h1M357.4 344.7h1M355.7 340.3h1M356.0 338.3h1M363.5 340.3h1M351.4 341.5h1M360.6 341.5h1M350.8 346.8h1M356.0 348.0h1M357.5 342.4h1M354.2 348.2h1M358.7 346.4h1M359.9 341.5h1M350.7 340.3h1M357.2 345.9h1M355.8 345.6h1M350.1 352.0h1M357.2 347.6h1M354.0 346.5h1M364.0 346.6h1M352.5 341.6h1M364.6 342.2h1M354.5 343.3h1M366.6 346.1h1M359.7 344.5h1M356.9 334.7h1M361.5 346.4h1M360.3 340.1h1M363.7 344.1h1M364.2 340.3h1M355.7 344.6h1M352.0 346.6h1M345.5 347.0h1M354.7 341.4h1M361.3 346.5h1M358.9 344.2h1M357.5 343.4h1M356.0 345.8h1M353.9 342.8h1M357.1 349.0h1M358.9 343.7h1M349.6 346.5h1M360.4 343.7h1M350.0 342.7h1M355.5 340.5h1M354.4 344.8h1M355.6 344.9h1M353.4 348.4h1M352.3 346.0h1M355.3 340.8h1M352.6 346.2h1M368.3 343.1h1M355.9 346.7h1M354.4 345.2h1M353.8 340.8h1M353.1 347.9h1M345.8 344.3h1M356.3 345.4h1M357.3 338.9h1M350.9 347.3h1M356.5 341.4h1M352.4 347.8h1M358.0 348.4h1M359.3 346.3h1M358.3 339.9h1M358.2 340.5h1M353.3 342.0h1M361.3 344.4h1M355.3 345.0h1M358.6 343.6h1M360.3 343.6h1M356.0 345.5h1M351.8 346.7h1M360.8 347.5h1M352.1 344.6h1M353.2 345.1h1M350.9 339.7h1M359.8 339.0h1M355.8 341.8h1M346.3 342.8h1M360.3 343.3h1M366.7 344.1h1M364.5 340.4h1M354.2 342.8h1M357.0 342.1h1M359.3 343.3h1M360.5 341.1h1M357.4 344.7h1M352.4 345.5h1M360.5 343.6h1M360.2 344.9h1M351.2 345.1h1M355.5 344.3h1M359.3 348.0h1M356.9 343.4h1M359.8 345.1h1M360.5 342.8h1M359.0 341.7h1M356.1 342.4h1M350.5 342.8h1M359.6 342.9h1M362.7 340.3h1M365.3 340.2h1M357.6 346.9h1M356.7 343.2h1M364.0 345.0h1M363.4 342.7h1M359.0 345.5h1M359.6 341.1h1M353.7 344.7h1M361.3 350.0h1M353.9 346.7h1M357.0 346.4h1M356.6 344.3h1M355.5 346.3h1M346.9 342.7h1M352.8 342.1h1M358.7 344.3h1M357.2 345.8h1M354.9 342.8h1M358.7 342.5h1M359.7 341.8h1M360.5 342.1h1M352.6 341.1h1M356.0 339.6h1M355.4 343.6h1M351.9 339.7h1M349.7 342.5h1M356.0 341.8h1M352.4 341.6h1M366.5 341.8h1M356.2 342.4h1M355.9 343.5h1M354.5 341.2h1M364.6 339.4h1M353.2 345.9h1M356.5 344.6h1M353.2 343.0h1M356.6 344.6h1M356.9 344.0h1M361.8 342.7h1M351.8 349.3h1M356.5 342.4h1M364.3 342.8h1M355.0 345.1h1M356.0 343.0h1M352.2 341.2h1M407.7 338.0h1M390.8 325.5h1M385.4 334.6h1M386.0 342.2h1M382.9 327.0h1M353.0 331.8h1M392.1 328.1h1M324.3 341.8h1M382.8 335.4h1M334.7 342.8h1M371.8 335.6h1M406.3 328.8h1M375.0 336.7h1M367.1 334.5h1M400.5 334.5h1M374.8 337.7h1M369.2 333.2h1M372.7 348.4h1M431.0 319.4h1M405.7 335.7h1M398.1 328.9h1M345.2 345.7h1M403.9 334.9h1M342.4 349.1h1M400.3 340.7h1M346.2 338.8h1M449.5 339.0h1M329.1 349.2h1M421.8 323.9h1M407.6 323.7h1M328.2 360.4h1M377.1 346.7h1M429.8 326.8h1M420.7 333.0h1M330.9 354.1h1M366.4 340.2h1M344.7 341.6h1M349.9 342.7h1M363.2 345.0h1M442.7 324.5h1M386.0 328.8h1M376.6 341.9h1M370.3 329.1h1M403.8 327.9h1M406.7 338.6h1M353.5 343.6h1M430.7 328.1h1M348.1 343.9h1M375.2 343.7h1M397.5 333.1h1M436.2 314.7h1M372.1 339.9h1M388.9 317.9h1M422.9 316.8h1M404.9 340.9h1M420.6 334.7h1M416.1 327.1h1M391.3 334.2h1M403.5 332.7h1M413.7 335.8h1M381.2 332.3h1M433.7 321.2h1M318.0 345.8h1M353.3 343.0h1M430.0 328.4h1M396.4 331.4h1M363.0 344.6h1M394.1 328.3h1M418.1 328.9h1M364.1 336.2h1M406.7 325.9h1M380.4 343.7h1M379.0 335.3h1M379.7 331.3h1M419.0 329.3h1M345.7 338.1h1M371.8 341.9h1M405.4 336.6h1M344.7 349.7h1M330.7 340.8h1M401.3 331.8h1M385.1 346.3h1M378.0 336.1h1M389.0 342.2h1M353.2 350.9h1M475.8 310.0h1M352.5 349.2h1M369.8 343.2h1M338.0 350.3h1M371.4 348.1h1M432.9 328.9h1M383.7 336.6h1M402.9 335.8h1M367.0 337.6h1M442.2 327.3h1M386.2 324.4h1M344.5 353.8h1M407.4 328.5h1M371.7 341.6h1M403.0 334.1h1M387.6 336.0h1M391.7 335.2h1M387.5 335.8h1M352.0 333.3h1M333.8 343.1h1M415.9 336.5h1M377.5 331.6h1M391.1 328.7h1M370.3 350.8h1M318.9 355.9h1M343.4 353.0h1M428.1 327.2h1M357.9 342.8h1M371.4 342.9h1M336.1 348.8h1M365.8 339.2h1M369.3 330.8h1M375.0 333.8h1M378.9 328.6h1M364.2 348.9h1M363.9 337.8h1M382.3 335.4h1M393.7 335.7h1M378.3 337.3h1M439.8 327.8h1M388.9 331.5h1M386.4 327.0h1M363.5 349.9h1M415.3 325.7h1M349.2 340.3h1M329.6 342.4h1M350.7 339.6h1M402.9 332.3h1M346.6 347.6h1M423.5 322.1h1M382.4 337.9h1M333.0 342.4h1M376.6 344.1h1M439.1 318.0h1M355.0 342.3h1M341.1 348.5h1M397.9 325.5h1M425.1 328.3h1M415.8 330.4h1M371.2 334.0h1M388.6 333.8h1M394.3 339.4h1M421.0 329.8h1M451.8 320.0h1M379.0 335.7h1M425.2 330.1h1M372.9 345.1h1M402.6 336.6h1M353.3 346.1h1M359.7 349.4h1M394.5 325.1h1M352.1 334.2h1M409.0 318.2h1M365.8 344.1h1M382.8 323.3h1M380.0 336.4h1M372.7 342.2h1M385.4 327.7h1M416.9 325.5h1M482.9 314.5h1M345.1 347.6h1M390.8 326.0h1M377.4 338.9h1M353.9 345.7h1M392.1 334.9h1M354.4 342.5h1M381.5 343.2h1M423.0 329.2h1M317.3 349.0h1M390.3 332.6h1M397.8 336.6h1M351.4 340.7h1M400.3 336.1h1M394.2 334.3h1M372.6 344.3h1M421.1 323.9h1M340.5 344.9h1M403.9 333.7h1M375.6 339.7h1M349.7 348.9h1M377.4 339.2h1M372.3 343.1h1M411.3 341.1h1M335.2 350.1h1M375.3 331.6h1M366.4 331.3h1M434.3 329.4h1M346.1 341.2h1M417.2 330.7h1M325.6 346.4h1M395.2 340.7h1M379.5 343.3h1M393.6 327.6h1M360.1 342.0h1M319.1 347.0h1M331.1 339.1h1M425.6 331.0h1M389.2 333.9h1M354.9 344.0h1M414.1 343.4h1M359.7 347.9h1M359.6 346.7h1M342.6 341.7h1M419.1 322.2h1M447.1 330.0h1M350.7 340.7h1M391.6 334.4h1M413.4 327.8h1M450.7 322.9h1M307.1 364.4h1M386.3 333.5h1M402.7 330.4h1M334.4 346.7h1M395.6 335.0h1M387.1 328.5h1M403.5 322.0h1M362.5 336.8h1M395.3 332.3h1M361.5 335.8h1M400.5 326.8h1M386.1 330.1h1M369.3 336.4h1M336.0 344.6h1M433.5 316.7h1M417.2 325.9h1M410.7 332.2h1M360.3 339.7h1M369.1 331.1h1M435.6 323.3h1M406.0 331.1h1M355.1 345.6h1M381.7 327.1h1M387.2 338.7h1M375.0 334.8h1M351.6 343.1h1M423.3 331.4h1M400.1 327.5h1M374.8 332.9h1M331.0 345.5h1M363.9 343.5h1M381.4 333.1h1M408.7 322.8h1M369.4 334.6h1M418.4 330.7h1M388.0 341.1h1M357.6 338.0h1M344.1 342.5h1M333.9 344.8h1M376.4 331.8h1M392.6 331.3h1M427.6 327.9h1M382.1 336.4h1M345.0 343.4h1M457.5 315.2h1M392.0 330.9h1M373.2 333.7h1M375.1 343.0h1M340.3 352.2h1M403.5 333.4h1M396.3 341.7h1M433.7 323.9h1M418.0 327.1h1M409.4 323.3h1M423.6 328.8h1M373.0 335.2h1M368.5 339.1h1M381.7 338.6h1M342.2 342.5h1M377.0 330.7h1M372.1 337.6h1M404.5 331.0h1M382.5 336.0h1M321.9 351.6h1M383.7 334.4h1M428.6 325.1h1M325.5 356.7h1M359.6 346.3h1M383.6 335.1h1M339.2 339.4h1M364.9 336.9h1M385.4 337.3h1M341.4 348.7h1M395.3 346.4h1M396.3 331.8h1M342.4 344.7h1M383.8 333.7h1M418.4 329.2h1M377.3 334.9h1M396.4 327.3h1M405.4 336.9h1M376.0 337.9h1M416.7 336.1h1M395.5 330.6h1M351.8 343.5h1M401.2 335.8h1M409.7 320.3h1M408.4 323.6h1M363.7 343.8h1M398.7 333.3h1M426.3 317.2h1M390.5 330.4h1M421.1 322.6h1M425.5 324.8h1M384.4 344.1h1M404.8 328.5h1M376.7 348.2h1M418.3 327.5h1M380.4 332.5h1M367.9 347.5h1M384.3 340.9h1M383.2 343.4h1M398.6 343.4h1M400.4 338.3h1M347.8 349.7h1M361.3 331.0h1M395.0 329.1h1M400.3 335.0h1M387.3 336.3h1M470.3 322.5h1M420.1 326.1h1M383.1 342.1h1M410.2 341.6h1M428.5 330.2h1M397.3 337.8h1M328.7 349.7h1M388.8 340.0h1M386.6 336.6h1M453.3 319.3h1M325.6 348.7h1M435.0 326.3h1M378.3 328.8h1M415.4 331.0h1M375.6 337.8h1M391.0 335.7h1M421.1 325.5h1M388.4 337.7h1M419.9 332.2h1M381.8 332.5h1M372.3 340.1h1M379.0 341.2h1M369.8 342.8h1M380.5 331.6h1M428.3 321.5h1M347.5 343.4h1M330.5 340.9h1M387.4 348.8h1M439.1 320.4h1M418.5 324.6h1M428.9 330.4h1M425.5 325.0h1M359.5 327.9h1M389.2 333.9h1M365.3 336.6h1M403.6 323.0h1M334.3 340.7h1M318.8 347.8h1M343.5 343.3h1M391.6 328.0h1M422.8 323.9h1M468.6 314.0h1M432.3 326.6h1M336.7 344.1h1M309.5 343.6h1M391.5 337.5h1M419.6 324.5h1M334.2 347.5h1M368.3 333.6h1M372.0 339.4h1M387.3 334.1h1M380.6 336.4h1M403.7 334.2h1M421.2 330.3h1M389.1 335.3h1M411.1 330.8h1M449.9 315.3h1M353.6 341.1h1M350.6 330.1h1M401.0 319.8h1M446.6 321.2h1M392.2 332.5h1M424.0 335.5h1M377.8 340.2h1M418.0 334.6h1M366.6 337.2h1M409.6 332.7h1M401.3 338.3h1M400.7 334.9h1M432.4 327.7h1M422.2 328.4h1M367.3 333.8h1M415.4 324.3h1M331.3 338.2h1M420.3 330.4h1M476.6 315.5h1M404.5 327.7h1M404.9 333.3h1M389.6 331.3h1M416.3 334.7h1M375.8 347.6h1M410.6 332.7h1M379.0 332.8h1M373.3 329.6h1M394.8 344.3h1M387.3 337.4h1M331.4 339.7h1M457.2 326.8h1M391.7 325.0h1M333.6 343.3h1M423.6 326.4h1M387.7 332.9h1M394.4 327.3h1M414.4 342.5h1M359.6 338.3h1M385.8 335.4h1M395.2 324.6h1M420.9 325.2h1M364.8 340.6h1M381.4 341.2h1M401.6 330.2h1M379.2 338.6h1M380.6 334.4h1M397.9 336.0h1M354.2 328.1h1M440.9 327.5h1M358.5 337.3h1M389.6 331.3h1M375.4 321.8h1M365.0 333.6h1M407.0 334.4h1M424.1 340.2h1M435.4 321.5h1M407.1 327.4h1M375.0 340.1h1M417.2 330.6h1M341.6 340.9h1M390.3 333.5h1M405.4 329.3h1M407.8 334.3h1M352.4 346.3h1M342.1 353.6h1M443.4 328.8h1M372.8 341.5h1M335.5 346.2h1M349.4 347.7h1M387.9 329.5h1M428.9 338.5h1M388.6 336.3h1M428.7 334.5h1M394.8 329.2h1M404.6 337.2h1M420.5 330.6h1M375.8 336.3h1M397.0 329.4h1M374.6 332.8h1M369.3 348.5h1M410.5 337.1h1M361.5 340.8h1M390.7 335.4h1M361.4 336.2h1M382.9 325.8h1M368.8 328.9h1M422.4 324.7h1M390.0 333.6h1M388.8 328.3h1M441.6 328.5h1M351.3 343.1h1M386.5 334.0h1M401.1 332.1h1M406.3 324.3h1M393.1 321.9h1M360.5 350.9h1M444.0 327.1h1M396.0 331.2h1M379.7 345.3h1M351.3 348.3h1M400.5 334.9h1M370.7 339.6h1M372.5 342.3h1M394.5 341.6h1M393.3 334.2h1M359.3 339.4h1M427.2 330.2h1M350.6 326.9h1M349.9 343.0h1M395.5 331.2h1M390.0 334.4h1M388.0 333.9h1M372.9 339.8h1M387.3 335.6h1M367.6 339.3h1M332.3 345.3h1M410.0 333.0h1M352.4 339.2h1M379.3 342.0h1M407.6 321.7h1M386.7 336.3h1M474.9 320.0h1M339.0 337.7h1M360.9 337.9h1M389.9 341.8h1M429.3 325.9h1M376.6 332.3h1M336.1 328.9h1M422.9 329.8h1M355.8 341.9h1M379.7 339.9h1M416.2 340.6h1M363.8 339.7h1M370.9 339.0h1M400.5 328.6h1M378.7 336.4h1M394.6 333.4h1M355.5 345.6h1M382.1 339.1h1M349.2 338.5h1M334.4 343.0h1M443.5 331.4h1M398.9 327.4h1M415.7 333.5h1M355.6 350.3h1M385.0 339.1h1M378.8 338.1h1M340.6 351.9h1M403.2 333.8h1M361.8 340.1h1M378.4 335.7h1M337.3 351.4h1M418.0 332.7h1M411.3 338.7h1M397.5 331.2h1M355.4 339.7h1M367.2 336.7h1M425.0 329.0h1M375.4 333.6h1M394.8 338.6h1M390.0 336.4h1M347.9 337.5h1M431.3 309.9h1M319.0 338.6h1M393.9 341.6h1M382.2 335.7h1M332.9 346.7h1M395.4 331.1h1M402.4 334.2h1M384.8 325.0h1M356.2 330.2h1M398.0 323.9h1M421.3 328.6h1M393.0 337.8h1M441.4 326.8h1M412.8 329.2h1M408.7 323.7h1M431.0 330.7h1M363.4 338.2h1M368.3 338.7h1M401.8 331.7h1M401.5 329.6h1M433.2 321.8h1M421.6 324.9h1M389.5 327.5h1M392.5 335.3h1M376.1 336.3h1M374.5 343.2h1M368.8 328.7h1M415.8 335.8h1M370.1 338.1h1M373.8 336.8h1M389.8 330.1h1M368.0 334.4h1M376.6 328.9h1M315.9 354.2h1M397.5 331.8h1M376.6 341.1h1M392.9 338.5h1M397.3 330.3h1M325.7 346.0h1M463.5 317.9h1M392.6 339.6h1M392.6 334.7h1M329.4 347.5h1M408.2 334.8h1M400.8 331.9h1M378.4 348.1h1M395.2 328.3h1M431.3 333.1h1M379.4 344.3h1M358.5 334.5h1M433.2 330.6h1M398.3 334.4h1M384.7 340.4h1M462.8 313.3h1M395.1 334.8h1M383.1 330.5h1M398.0 331.1h1M378.3 344.7h1M396.5 332.4h1M392.2 321.7h1M367.0 331.4h1M380.0 330.2h1M400.7 338.0h1M401.2 328.4h1M406.7 322.6h1M416.0 335.4h1M397.7 334.3h1M406.4 333.1h1M376.1 332.9h1M382.4 343.9h1M422.6 327.3h1M323.1 337.0h1M399.8 326.3h1M490.3 309.8h1M328.7 345.9h1M438.0 329.1h1M330.9 342.3h1M399.4 329.3h1M443.0 336.0h1M436.1 325.7h1M357.9 338.0h1M345.6 343.6h1M339.6 337.7h1M411.1 333.2h1M375.6 342.7h1M386.7 332.0h1M396.4 338.7h1M399.9 330.9h1M404.4 333.2h1M390.0 330.4h1M333.9 341.3h1M432.1 317.8h1M426.2 325.7h1M366.7 337.8h1M378.9 330.5h1M368.3 332.4h1M373.8 334.3h1M386.2 337.9h1M377.6 338.6h1M350.1 338.7h1M414.1 331.3h1M369.4 348.3h1M429.8 327.1h1M383.4 346.9h1M363.9 342.1h1M401.8 339.5h1M414.4 326.7h1M357.6 347.5h1M375.8 330.8h1M432.6 327.3h1M353.5 339.9h1M356.6 330.2h1M390.2 327.0h1M348.1 349.1h1M307.0 353.8h1M333.6 352.9h1M398.5 333.9h1M404.3 315.6h1M405.6 332.7h1M398.2 329.7h1M345.8 340.6h1M407.6 328.5h1M422.7 323.7h1M362.6 334.7h1M418.0 335.7h1M374.8 340.0h1M391.7 330.5h1M397.7 330.6h1M339.2 350.0h1M434.1 327.8h1M358.8 341.8h1M381.7 329.4h1M369.8 336.1h1M399.9 326.2h1M398.2 322.3h1M387.9 339.8h1M431.7 324.3h1M395.0 331.2h1M372.4 332.7h1M379.4 348.1h1M377.5 340.2h1M359.1 345.8h1M357.1 334.2h1M405.7 332.3h1M420.4 329.6h1M449.2 330.8h1M423.3 327.8h1M362.4 334.8h1M394.5 333.2h1M341.7 341.7h1M411.5 338.1h1M398.6 336.4h1M366.9 340.9h1M383.1 336.8h1M379.1 341.3h1M365.2 336.7h1M428.1 321.8h1M484.8 305.1h1M414.2 336.1h1M421.1 331.0h1M392.2 337.5h1M375.1 337.7h1M459.2 329.8h1M373.5 332.3h1M400.5 339.0h1M381.6 331.5h1M405.0 328.9h1M383.5 329.0h1M405.7 331.8h1M345.1 341.8h1M383.6 338.1h1M430.1 323.2h1M351.4 334.4h1M365.4 342.5h1M432.1 333.1h1M400.2 336.4h1M420.9 327.9h1M314.4 351.7h1M389.2 325.2h1M344.7 341.6h1M342.5 350.3h1M400.1 334.9h1M423.7 322.9h1M338.8 349.3h1M350.3 341.6h1M368.1 342.8h1M380.7 328.5h1M342.6 341.0h1M459.8 322.2h1M405.6 332.9h1M375.1 340.4h1M369.4 338.4h1M461.3 319.0h1M459.3 323.1h1M371.2 342.9h1M395.8 324.9h1M426.6 325.3h1M347.4 341.8h1M367.1 339.8h1M430.9 331.8h1M362.1 332.7h1M372.5 340.8h1M340.4 334.8h1M360.4 336.1h1M407.6 328.0h1M358.8 339.1h1M342.7 340.5h1M364.8 336.6h1M442.9 321.9h1M391.1 332.7h1M365.5 329.2h1M389.1 326.9h1M399.5 330.1h1M390.1 337.3h1M327.8 352.3h1M398.2 348.4h1M378.6 337.2h1M412.0 325.7h1M341.6 345.0h1M420.2 332.1h1M369.4 339.3h1M328.6 340.8h1M428.5 326.1h1M368.4 338.5h1M395.9 325.5h1M378.7 330.0h1M422.0 334.6h1M418.8 316.4h1M421.6 329.0h1M408.1 329.3h1M333.9 353.2h1M330.9 349.6h1M390.7 329.5h1M355.3 348.2h1M399.6 329.4h1M392.5 344.8h1M340.6 353.3h1M351.1 341.7h1M348.8 346.9h1M356.2 342.2h1M377.2 332.0h1M408.3 336.6h1M429.1 328.9h1M354.2 346.2h1M367.7 344.7h1M437.1 332.7h1M415.2 335.1h1M392.5 333.5h1M308.4 351.2h1M352.5 344.2h1M390.0 333.8h1M365.4 338.1h1M451.9 332.3h1M388.4 337.5h1M396.1 343.6h1M348.2 338.6h1M350.7 342.1h1M362.7 337.6h1M364.0 337.5h1M376.9 335.5h1M397.0 332.4h1M392.2 331.7h1M419.5 338.4h1M341.4 347.9h1M391.0 330.2h1M392.1 331.1h1M437.6 329.0h1M378.3 339.8h1M394.9 330.2h1M359.2 345.7h1M397.2 325.2h1M397.4 330.4h1M366.1 348.7h1M367.8 324.7h1M383.6 334.7h1M404.9 336.9h1M347.1 342.3h1M413.0 325.6h1M373.1 333.0h1M444.8 312.2h1M431.3 319.0h1M371.7 338.5h1M363.8 336.6h1M465.3 319.4h1M405.3 330.6h1M403.8 333.3h1M369.3 329.6h1M380.3 334.7h1M410.9 328.5h1M404.7 329.8h1M356.9 336.3h1M423.3 315.9h1M395.7 336.8h1M354.7 346.0h1M420.0 341.4h1M380.0 340.5h1M412.3 339.0h1M367.4 342.2h1M396.4 331.1h1M332.4 348.7h1M395.9 326.9h1M335.5 346.7h1M390.2 333.9h1M384.1 342.3h1M409.7 336.6h1M401.3 334.8h1M424.9 332.0h1M351.6 351.2h1M436.0 324.6h1M436.0 317.9h1M344.7 338.4h1M359.7 344.4h1M366.5 340.5h1M382.6 327.9h1M392.4 341.2h1M304.5 352.8h1M406.0 340.1h1M377.8 343.1h1M351.2 339.9h1M416.0 329.8h1M372.9 334.0h1M421.1 323.7h1M402.0 330.5h1M375.0 340.3h1M424.6 335.1h1M410.3 325.6h1M369.1 342.6h1M332.3 346.3h1M366.8 338.0h1M406.2 337.5h1M376.7 335.3h1M443.9 331.3h1M393.0 332.2h1M390.3 329.5h1M398.8 337.0h1M354.5 333.8h1M379.6 330.2h1M363.1 339.0h1M308.2 351.0h1M326.5 345.9h1M406.8 320.5h1M369.0 331.5h1M381.4 339.2h1M337.2 348.2h1M364.6 334.2h1M410.7 332.0h1M388.2 336.1h1M369.0 344.4h1M434.0 321.9h1M384.4 343.8h1M373.1 336.4h1M423.7 335.8h1M329.2 351.9h1M401.8 326.8h1M348.2 341.4h1M359.4 342.4h1M363.6 345.5h1M387.6 327.6h1M387.8 332.4h1M395.4 337.0h1M392.2 336.9h1M429.5 321.0h1M439.0 320.0h1M408.4 333.4h1M408.5 325.4h1M372.9 339.4h1M350.0 347.7h1M404.2 331.9h1M383.2 321.3h1M414.1 336.3h1M326.6 353.7h1M473.7 325.7h1M344.3 348.5h1M384.3 326.6h1M418.7 336.7h1M340.2 346.5h1M367.9 344.3h1M318.9 348.0h1M338.0 343.7h1M321.5 347.1h1M390.0 343.4h1M394.8 335.2h1M374.4 336.7h1M424.8 320.7h1M430.7 329.1h1M384.7 335.8h1M377.9 338.0h1M377.1 342.7h1M371.0 342.5h1M427.6 327.2h1M393.0 335.3h1M374.3 338.3h1M378.3 341.0h1M403.5 335.8h1M372.2 339.0h1M394.4 329.1h1M384.7 340.4h1M430.1 331.6h1M421.7 322.5h1M339.3 347.0h1M379.4 334.7h1M405.9 319.5h1M370.4 338.4h1M412.5 335.4h1M395.2 329.6h1M403.7 328.1h1M384.1 341.4h1M393.8 327.8h1M401.2 327.2h1M336.8 343.5h1M355.9 344.9h1M352.6 345.6h1M439.4 321.9h1M394.6 332.0h1M397.3 333.7h1M390.3 332.4h1M367.3 334.4h1M359.7 334.7h1M413.5 333.8h1M372.7 336.9h1M439.6 340.4h1M392.2 337.6h1M387.3 331.0h1M378.0 337.0h1M383.1 337.9h1M386.7 337.5h1M435.2 328.0h1M461.7 322.8h1M347.5 342.4h1M394.2 337.4h1M410.6 342.5h1M355.4 339.1h1M364.2 337.7h1M371.1 342.3h1M308.3 357.8h1M407.3 335.7h1M385.0 342.3h1M382.2 335.9h1M387.7 333.8h1M394.1 337.4h1M461.2 324.1h1M392.9 343.2h1M414.1 338.4h1M366.5 329.3h1M397.6 337.4h1M374.4 334.1h1M378.3 325.4h1M356.4 343.5h1M358.7 339.9h1M399.8 330.7h1M408.2 323.9h1M399.3 327.2h1M363.4 338.7h1M394.1 325.6h1M303.0 351.4h1M416.2 330.0h1M384.0 334.9h1M394.6 335.3h1M423.2 327.5h1M370.6 332.1h1M415.6 323.8h1M371.4 339.0h1M404.3 337.0h1M372.5 338.9h1M394.9 330.8h1M432.9 326.9h1M362.6 330.1h1M364.8 334.1h1M374.7 335.5h1M395.4 333.1h1M474.6 315.8h1M366.7 337.7h1M318.3 342.3h1M364.0 336.6h1M334.7 346.9h1M365.7 329.2h1M385.2 328.9h1M354.4 339.7h1M365.4 347.6h1M326.0 351.0h1M393.5 342.4h1M363.1 347.3h1M420.7 325.9h1M420.0 328.1h1M356.5 334.7h1M375.2 343.9h1M388.5 338.8h1M411.3 333.5h1M332.5 349.6h1M384.2 338.2h1M446.8 324.3h1M383.5 337.3h1M394.6 340.2h1M385.4 331.1h1M346.4 337.5h1M417.1 329.1h1M396.2 339.6h1M391.8 335.5h1M409.6 329.5h1M412.7 334.5h1M325.0 348.1h1M400.0 322.1h1M366.4 333.7h1M389.4 323.2h1M363.0 338.7h1M357.8 338.5h1M417.8 331.4h1M388.4 346.4h1M376.7 333.9h1M377.2 337.1h1M388.8 332.7h1M383.1 320.5h1M309.1 346.5h1M357.6 337.1h1M379.3 338.2h1M410.1 325.9h1M429.6 319.5h1M357.2 344.3h1M449.7 322.2h1M389.1 329.8h1M402.1 328.0h1M369.5 337.0h1M368.4 343.3h1M435.3 333.3h1M378.8 329.6h1M385.2 341.9h1M425.0 327.8h1M443.7 325.8h1M339.9 349.9h1M380.4 331.2h1M388.1 339.6h1M445.0 316.4h1M467.1 316.6h1M385.2 330.8h1M401.6 341.5h1M417.6 338.0h1M426.0 331.5h1M378.1 339.8h1M415.2 326.6h1M367.2 348.7h1M302.7 359.7h1M344.3 348.6h1M395.0 333.0h1M413.2 328.0h1M314.9 349.1h1M331.1 353.6h1M386.3 330.1h1M408.3 339.9h1M423.0 332.8h1M414.0 332.1h1M383.0 338.4h1M436.3 333.0h1M398.7 336.5h1M381.6 338.2h1M392.4 331.4h1M418.0 321.0h1M396.9 341.5h1M390.1 332.4h1M341.6 340.3h1M405.9 336.3h1M389.4 330.0h1M447.6 315.8h1M388.4 331.9h1M386.6 335.1h1M369.5 340.3h1M413.5 332.8h1M384.0 341.2h1M366.6 338.8h1M442.0 326.3h1M447.3 322.7h1M374.3 334.4h1M356.9 343.6h1M426.7 329.3h1M364.6 350.0h1M482.0 319.6h1M384.7 332.0h1M421.7 331.7h1M347.5 341.9h1M390.4 343.3h1M423.6 318.8h1M403.5 328.5h1M371.8 334.8h1M469.7 319.5h1M413.8 329.3h1M380.9 327.9h1M368.4 329.0h1M381.4 337.5h1M435.4 333.7h1M366.4 347.4h1M390.6 332.5h1M363.8 342.5h1M429.9 322.1h1M383.2 328.3h1M419.3 335.6h1M409.2 334.6h1M370.8 336.8h1M412.4 328.3h1M421.6 333.5h1M353.1 343.9h1M412.6 328.5h1M506.1 313.1h1M380.4 336.7h1M410.4 328.5h1M345.9 339.7h1M406.0 336.6h1M370.4 336.2h1M413.8 323.6h1M390.3 344.6h1M353.1 349.0h1M426.5 330.4h1M383.0 335.9h1M357.2 342.4h1M390.7 326.8h1M358.6 341.0h1M403.3 333.6h1M387.8 334.1h1M378.5 339.5h1M411.0 326.4h1M348.6 344.0h1M420.2 320.2h1M324.7 347.7h1M441.9 321.1h1M394.6 326.6h1M381.1 334.4h1M366.1 339.6h1M407.3 328.0h1M385.8 340.6h1M383.6 332.2h1M424.8 332.8h1M376.7 341.3h1M381.8 333.1h1M405.6 339.3h1M423.7 320.6h1M385.7 338.4h1M395.4 334.0h1M392.4 338.3h1M412.8 321.7h1M437.6 318.7h1M358.7 336.4h1M385.7 335.6h1M388.6 335.4h1M409.4 330.9h1M438.9 323.4h1M388.8 331.0h1M395.6 326.1h1M426.7 325.0h1M349.9 345.5h1M365.9 344.9h1M374.8 334.9h1M390.9 340.2h1M396.2 326.0h1M373.8 342.0h1M446.3 317.5h1M367.1 340.5h1M382.4 330.9h1M424.6 322.4h1M414.7 326.7h1M391.0 342.0h1M401.6 328.7h1M417.4 332.4h1M389.6 335.5h1M411.5 331.9h1M360.1 342.2h1M392.8 337.4h1M334.7 339.1h1M360.5 340.7h1M352.6 343.9h1M430.1 323.4h1M374.8 339.5h1M398.3 327.4h1M360.0 344.5h1M382.2 332.4h1M380.0 335.1h1M362.2 344.4h1M418.7 334.6h1M334.2 342.7h1M409.3 327.3h1M477.6 322.4h1M359.3 325.2h1M391.6 341.5h1M339.3 351.7h1M387.1 329.4h1M333.1 352.4h1M409.9 332.5h1M373.0 340.4h1M325.5 335.0h1M345.5 340.8h1M336.0 344.3h1M378.5 334.6h1M415.9 327.3h1M374.7 336.1h1M346.3 327.9h1M360.2 339.4h1M390.9 330.6h1M307.4 350.6h1M406.3 328.6h1M400.8 332.4h1M306.7 352.7h1M448.6 318.1h1M415.9 323.4h1M448.6 322.8h1M423.5 323.2h1M416.9 331.7h1M409.0 328.7h1M438.0 323.8h1M408.2 329.1h1M438.9 324.7h1M432.1 327.3h1M419.7 325.3h1M418.8 327.1h1M434.4 329.6h1M428.5 322.8h1M437.6 329.1h1M426.7 323.9h1M420.3 324.8h1M432.4 318.1h1M411.5 325.8h1M436.2 317.0h1M427.3 323.1h1M413.7 330.7h1M414.4 327.9h1M422.5 324.1h1M403.7 327.0h1M443.8 318.9h1M437.9 317.6h1M412.5 324.1h1M427.1 332.0h1M448.3 321.1h1M431.3 321.0h1M414.9 330.3h1M401.3 336.3h1M406.1 327.8h1M441.8 321.4h1M430.0 320.1h1M409.5 323.7h1M436.9 327.7h1M425.1 337.6h1M418.1 324.7h1M419.3 321.3h1M422.3 331.2h1M448.7 323.9h1M415.6 329.5h1M423.1 331.2h1M443.4 320.2h1M446.0 321.8h1M415.3 330.6h1M452.6 318.2h1M441.2 323.6h1M408.2 328.7h1M450.0 321.5h1M408.6 330.0h1M434.0 316.7h1M412.7 328.8h1M403.6 325.6h1M437.0 319.9h1M431.0 318.5h1M426.6 328.1h1M429.2 323.5h1M425.4 324.2h1M424.7 330.1h1M414.1 330.6h1M434.2 322.8h1M425.7 318.2h1M424.5 328.1h1M419.7 325.9h1M423.2 324.8h1M408.5 332.0h1M422.6 324.0h1M414.6 327.8h1M443.8 324.4h1M415.5 329.8h1M420.9 324.5h1M428.3 330.0h1M437.9 326.7h1M434.2 330.1h1M427.2 325.0h1M454.3 319.7h1M427.6 328.7h1M431.4 325.7h1M461.5 317.8h1M415.8 327.4h1M438.9 321.4h1M432.1 321.8h1M410.0 326.9h1M419.5 328.3h1M437.3 321.8h1M407.7 324.7h1M424.7 325.9h1M440.0 328.0h1M425.1 330.4h1M428.8 317.8h1M418.0 324.3h1M419.8 329.6h1M419.3 327.2h1M422.6 326.5h1M434.9 322.9h1M428.0 325.2h1M451.0 316.1h1M434.8 327.5h1M429.7 321.0h1M455.2 318.2h1M426.8 330.6h1M417.7 331.1h1M428.9 324.7h1M413.3 328.3h1M433.0 321.7h1M443.8 319.6h1M434.8 322.6h1M422.9 330.8h1M424.9 324.2h1M433.5 325.7h1M442.2 323.2h1M422.3 327.7h1M421.6 325.5h1M441.2 324.5h1M429.9 325.1h1M431.4 324.6h1M432.7 322.3h1M415.7 320.4h1M425.7 328.1h1M441.0 324.7h1M424.7 324.0h1M424.4 325.2h1M431.0 325.3h1M431.2 320.9h1M459.6 320.2h1M417.4 329.9h1M429.5 327.7h1M453.1 322.5h1M426.1 318.9h1M432.3 325.9h1M408.5 328.0h1M440.2 326.1h1M438.9 326.2h1M438.0 325.6h1M424.8 325.5h1M433.9 333.4h1M426.2 325.3h1M437.0 319.4h1M427.7 328.5h1M435.9 318.2h1M411.8 335.5h1M423.8 329.6h1M392.3 337.9h1M426.0 329.2h1M437.1 324.4h1M422.9 321.7h1M456.2 316.5h1M415.1 330.0h1M422.7 325.6h1M415.8 329.2h1M420.3 324.5h1M420.6 324.1h1M408.8 330.6h1M415.4 330.6h1M452.7 319.5h1M423.1 322.9h1M437.3 317.2h1M412.7 335.6h1M424.8 321.9h1M433.2 320.9h1M424.4 323.4h1M421.3 329.7h1M424.2 323.4h1M427.9 327.0h1M437.8 323.9h1M441.4 318.1h1M410.6 329.6h1M400.3 327.2h1M424.5 325.3h1M427.7 327.7h1M435.9 322.4h1M439.8 319.2h1M418.4 325.8h1M452.9 318.7h1M430.5 325.6h1M403.1 322.8h1M437.7 316.4h1M430.9 326.0h1M430.6 324.0h1M407.0 329.9h1M423.4 326.8h1M428.9 324.2h1M424.8 324.2h1M435.8 323.6h1M443.4 323.7h1M446.5 321.9h1M442.8 321.6h1M424.4 322.2h1M448.9 321.0h1M429.5 320.6h1M437.3 320.5h1M424.1 326.4h1M409.6 329.6h1M399.3 335.3h1M430.0 327.5h1M418.9 328.7h1M426.7 324.1h1M438.3 322.5h1M407.6 328.8h1M406.2 336.0h1M430.7 325.9h1M431.2 322.0h1M423.0 323.2h1M421.4 330.8h1M406.3 326.9h1M426.2 326.6h1M417.8 327.9h1M433.3 327.4h1M438.3 319.6h1M420.4 328.3h1M432.4 324.6h1M430.0 327.3h1M436.9 327.6h1M446.4 321.1h1M435.2 322.5h1M436.6 326.0h1M436.0 318.3h1M421.8 327.0h1M426.2 322.0h1M430.5 320.2h1M441.5 316.4h1M442.1 316.0h1M456.3 321.3h1M413.9 331.2h1M426.6 325.7h1M406.1 333.6h1M420.3 326.9h1M406.0 328.4h1M440.9 318.3h1M437.1 325.5h1M414.1 331.0h1M432.2 328.4h1M435.7 320.5h1M448.7 319.3h1M436.5 318.4h1M429.5 328.6h1M426.4 327.8h1M435.3 325.1h1M430.9 324.3h1M420.9 326.1h1M411.4 327.6h1M441.2 325.8h1M417.5 325.3h1M424.3 328.9h1M437.3 323.9h1M425.6 322.1h1M440.2 317.2h1M412.3 325.9h1M436.6 322.9h1M409.3 324.9h1M408.6 331.7h1M414.8 332.0h1M428.9 326.7h1M417.3 321.7h1M407.9 321.6h1M442.8 324.6h1M416.1 332.9h1M425.3 324.3h1M430.6 326.2h1M420.9 325.7h1M431.1 322.1h1M435.6 326.7h1M425.4 323.7h1M440.8 325.0h1M420.9 332.6h1M413.6 327.9h1M431.0 330.8h1M413.9 323.8h1M432.5 327.2h1M425.8 325.6h1M423.1 335.0h1M434.4 323.7h1M433.2 321.1h1M390.9 339.2h1M421.9 321.2h1M429.1 326.3h1M432.6 321.3h1M421.2 331.4h1M412.5 328.2h1M429.3 327.7h1M435.6 323.2h1M400.2 327.6h1M406.5 322.5h1M421.0 332.8h1M394.6 333.5h1M418.6 323.2h1M437.2 321.8h1M414.4 331.6h1M427.6 319.9h1M417.5 335.3h1M432.2 323.2h1M434.9 322.2h1M444.4 325.7h1M428.1 325.7h1M439.5 318.9h1M432.8 327.1h1M421.4 328.1h1M446.5 324.7h1M418.7 323.9h1M428.3 321.0h1M458.4 320.2h1M437.6 321.3h1M415.0 320.5h1M430.3 322.4h1M420.5 328.9h1M424.6 323.3h1M409.0 333.8h1M429.4 322.9h1M407.3 329.4h1M430.4 318.8h1M431.1 321.5h1M437.5 322.1h1M455.6 320.7h1M406.2 330.6h1M412.7 332.2h1M412.7 320.9h1M419.8 326.9h1M438.0 322.2h1M421.9 322.7h1M419.5 326.8h1M412.1 326.0h1M419.3 328.5h1M421.2 325.3h1M426.0 327.2h1M408.2 326.4h1M427.0 329.6h1M434.4 324.9h1M432.7 330.1h1M411.1 328.4h1M436.9 321.2h1M437.2 323.3h1M430.4 322.8h1M410.7 325.3h1M408.4 329.5h1M427.4 324.9h1M413.5 326.0h1M409.8 327.8h1M437.5 319.4h1M438.6 323.0h1M434.1 318.9h1M444.8 327.0h1M438.4 322.7h1M413.0 331.7h1M440.6 317.9h1M428.8 326.0h1M432.5 323.5h1M447.6 323.9h1M433.2 326.8h1M445.6 315.2h1M428.6 328.9h1M421.0 321.4h1M419.1 331.7h1M425.2 325.4h1M404.8 326.1h1M426.7 327.7h1M425.5 325.7h1M419.5 323.5h1M398.2 329.2h1M400.2 333.0h1M434.9 318.6h1M414.2 325.1h1M445.8 327.4h1M417.3 324.7h1M431.8 325.4h1M409.0 330.9h1M419.6 330.3h1M424.9 328.8h1M432.4 315.1h1M447.9 318.7h1M440.1 326.3h1M408.0 326.8h1M428.5 331.2h1M425.1 326.5h1M418.0 323.0h1M434.9 325.4h1M448.5 327.1h1M420.7 324.3h1M441.6 323.8h1M444.0 318.2h1M413.1 326.4h1M449.6 320.4h1M448.8 322.0h1M431.0 325.5h1M448.8 320.9h1M432.0 332.5h1M440.8 318.2h1M433.8 317.1h1M416.5 329.6h1M430.5 325.1h1M423.8 320.9h1M422.1 332.4h1M411.9 326.2h1M416.0 322.8h1M411.7 330.2h1M441.9 324.0h1M404.0 338.8h1M426.8 319.9h1M352.6 330.7h1M364.8 331.8h1M362.4 327.6h1M366.8 327.5h1M358.7 323.7h1M350.0 340.0h1M363.4 338.6h1M376.6 330.0h1M376.8 322.4h1M360.1 330.8h1M375.8 342.9h1M372.3 323.0h1M361.9 329.0h1M363.6 329.1h1M369.2 336.2h1M401.0 320.5h1M370.3 332.8h1M356.9 327.6h1M366.0 329.5h1M360.7 324.8h1M382.2 333.3h1M341.8 331.1h1M354.6 329.2h1M378.8 337.1h1M373.4 333.1h1M369.9 345.6h1M377.1 333.1h1M352.2 333.6h1M372.6 331.8h1M356.1 349.4h1M353.4 340.5h1M374.0 329.2h1M358.7 334.4h1M363.5 328.8h1M376.1 334.7h1M355.3 329.7h1M375.2 327.4h1M395.6 331.4h1M366.6 339.9h1M380.3 335.5h1M378.0 335.1h1M352.9 333.3h1M350.3 318.6h1M368.2 330.5h1M342.3 332.8h1M369.1 334.6h1M372.4 341.7h1M374.3 335.5h1M372.6 320.4h1M384.3 330.0h1M364.1 330.4h1M385.0 334.1h1M374.6 330.4h1M373.5 319.3h1M365.9 326.2h1M379.6 328.3h1M358.0 320.0h1M377.0 329.8h1M381.6 328.3h1M360.9 338.6h1M356.7 331.8h1M358.8 328.5h1M367.7 330.6h1M372.7 331.0h1M379.5 336.1h1M390.6 323.3h1M386.6 315.8h1M373.3 347.6h1M364.1 336.3h1M353.8 333.0h1M379.7 344.9h1M373.9 323.8h1M364.5 326.9h1M366.1 328.8h1M367.2 334.4h1M336.9 331.6h1M368.1 336.1h1M372.0 328.8h1M367.6 339.3h1M355.7 335.4h1M367.9 321.2h1M374.1 330.5h1M389.4 322.2h1M381.0 329.1h1M375.5 330.5h1M369.0 344.8h1M352.0 331.4h1M361.7 322.0h1M351.8 333.5h1M366.4 324.3h1M382.3 341.0h1M381.4 334.2h1M380.2 339.6h1M368.3 328.8h1M379.7 323.7h1M365.2 333.3h1M343.8 325.2h1M369.4 325.2h1M368.3 326.5h1M347.1 332.4h1M361.0 322.6h1M337.5 321.6h1M363.4 340.4h1M382.6 326.4h1M360.4 330.8h1M384.5 333.2h1M371.3 333.6h1M358.9 328.1h1M346.5 330.6h1M378.4 340.1h1M377.1 338.0h1M350.8 337.5h1M364.2 341.8h1M380.5 318.4h1M359.3 332.9h1M372.9 329.1h1M343.5 321.9h1M357.3 334.4h1M377.5 334.3h1M354.1 334.3h1M349.8 322.0h1M351.3 331.6h1M363.9 333.0h1M349.1 331.7h1M367.1 333.1h1M375.4 333.7h1M387.7 338.1h1M363.6 333.2h1M389.4 345.4h1M375.2 332.0h1M365.8 333.3h1M375.1 335.5h1M386.6 329.1h1M386.2 327.6h1M378.2 338.0h1M365.9 318.5h1M377.3 319.6h1M372.2 343.8h1M370.8 335.7h1M371.8 334.4h1M390.4 331.0h1M354.0 334.6h1M366.8 325.7h1M354.9 331.0h1M378.2 324.1h1M382.5 337.1h1M385.1 333.6h1M364.2 333.3h1M369.2 333.7h1M377.6 329.7h1M369.9 324.2h1M372.9 341.5h1M371.1 335.1h1M371.5 330.0h1M367.3 335.2h1M374.5 338.6h1M351.4 340.4h1M363.7 336.0h1M352.8 338.1h1M367.2 330.2h1M360.4 340.6h1M375.5 336.6h1M384.2 335.7h1M352.6 325.0h1M359.4 336.3h1M372.8 335.1h1M386.3 334.6h1M376.2 314.7h1M372.6 319.5h1M367.9 333.2h1M362.5 326.2h1M373.3 333.3h1M374.4 330.2h1M370.9 336.4h1M361.0 328.6h1M348.4 326.8h1M358.4 335.6h1M363.7 330.1h1M353.6 325.5h1M371.1 318.8h1M353.1 352.2h1M364.5 329.4h1M372.4 329.4h1M377.0 318.3h1M370.7 324.7h1M382.8 328.8h1M361.4 334.0h1M359.5 336.9h1M381.0 325.3h1M358.0 335.2h1M367.2 338.5h1M347.1 330.2h1M381.8 329.5h1M375.9 319.3h1M358.8 327.1h1M346.4 324.9h1M371.8 335.0h1M371.5 329.8h1M383.4 339.6h1M390.8 330.1h1M371.7 335.8h1M366.0 334.7h1M365.6 332.8h1M364.0 325.0h1M352.8 343.0h1M357.4 331.8h1M366.1 320.0h1M348.1 329.7h1M351.8 326.0h1M383.7 337.0h1M360.8 338.5h1M378.9 339.7h1M382.9 343.4h1M368.0 327.2h1M377.1 318.6h1M365.6 325.7h1M358.0 334.8h1M365.3 314.7h1M368.8 327.4h1M370.3 336.3h1M368.7 325.9h1M363.5 331.0h1M380.6 324.4h1M367.0 342.3h1M364.6 343.8h1M378.9 323.8h1M355.8 327.2h1M368.4 332.1h1M386.5 333.8h1M369.4 333.9h1M385.9 333.7h1M366.0 337.9h1M363.1 339.6h1M367.7 343.4h1M361.9 333.5h1M363.9 329.2h1M363.2 331.8h1M379.5 344.7h1M373.9 336.6h1M366.5 336.6h1M360.4 341.1h1M407.8 335.7h1M367.6 346.8h1M384.9 325.3h1M354.6 334.6h1M360.2 337.5h1M383.8 335.6h1M355.2 330.9h1M354.7 323.1h1M367.7 330.3h1M359.4 328.5h1M365.0 331.6h1M371.1 338.5h1M379.4 335.2h1M370.1 324.5h1M371.6 326.8h1M384.6 331.4h1M386.2 337.2h1M364.3 331.8h1M346.5 335.3h1M355.5 323.6h1M381.1 327.4h1M362.3 327.3h1M360.2 333.7h1M363.0 330.5h1M387.1 324.2h1M368.6 324.7h1M364.2 333.3h1M359.8 328.3h1M356.1 339.8h1M402.5 329.0h1M367.9 329.8h1M370.9 336.9h1M364.0 324.4h1M381.9 335.8h1M356.0 328.1h1M346.0 338.2h1M361.2 327.8h1M372.0 325.0h1M394.6 317.2h1M367.7 331.6h1M358.5 335.3h1M365.0 322.9h1M360.3 343.2h1M359.1 332.1h1M369.0 324.1h1M373.3 343.0h1M360.4 329.5h1M382.7 338.9h1M365.9 313.8h1M371.3 344.4h1M362.5 333.0h1M373.0 330.7h1M373.7 332.7h1M375.8 323.2h1M359.4 337.9h1M376.5 333.1h1M362.0 333.8h1M369.4 327.5h1M376.9 323.1h1M387.0 331.6h1M363.8 336.7h1M355.4 333.3h1M370.2 329.7h1M383.0 326.4h1M365.1 335.9h1M398.7 337.2h1M345.9 332.4h1M386.2 324.0h1M384.2 344.9h1M381.1 320.2h1M358.9 333.7h1M384.9 328.8h1M383.6 337.8h1M383.6 328.7h1M365.0 321.1h1M365.1 324.4h1M384.3 330.2h1M372.9 330.5h1M364.0 327.4h1M358.3 328.6h1M370.9 321.1h1M351.5 323.6h1M375.3 326.5h1M370.2 326.7h1M350.0 332.1h1M373.4 323.3h1M384.1 339.3h1M370.6 320.0h1M353.3 338.1h1M361.8 335.3h1M379.7 339.9h1M353.9 341.3h1M363.4 323.5h1M382.7 332.0h1M365.7 336.3h1M362.3 337.7h1M378.7 333.4h1M387.7 325.8h1M374.2 338.7h1M352.6 332.1h1M349.0 330.2h1M365.8 332.7h1M346.7 330.7h1M367.2 327.3h1M379.7 331.0h1M338.3 350.7h1M366.7 333.5h1M372.6 331.5h1M361.9 329.2h1M373.6 333.0h1M373.9 323.5h1M381.6 333.1h1M401.3 329.8h1M372.6 331.5h1M358.1 335.4h1M356.2 331.4h1M354.2 336.9h1M377.5 333.8h1M373.1 334.4h1M374.2 330.8h1M371.6 336.5h1M387.7 328.3h1M382.6 337.9h1M380.8 329.5h1M361.2 340.0h1M364.9 333.3h1M352.9 332.8h1M360.2 326.0h1M370.1 335.1h1M354.1 335.1h1M361.0 332.4h1M393.2 331.5h1M366.5 332.4h1M350.0 327.6h1M352.9 325.7h1M368.0 335.4h1M378.9 331.5h1M368.5 340.8h1M380.3 342.7h1M372.9 336.1h1M355.6 336.7h1M381.4 333.6h1M363.2 332.6h1M390.9 325.2h1M359.9 316.0h1M367.4 336.3h1M362.4 335.7h1M365.4 331.9h1M374.2 331.7h1M367.0 337.6h1M383.5 335.6h1M373.9 332.1h1M387.6 328.0h1M369.9 335.0h1M384.7 334.8h1M384.5 343.5h1M366.4 326.0h1M399.6 331.4h1M386.4 324.2h1M375.0 328.0h1M367.8 346.0h1M367.5 329.0h1M366.7 330.8h1M371.9 327.5h1M355.7 338.0h1M369.2 328.7h1M360.5 321.9h1M389.0 330.2h1M378.6 335.5h1M388.9 329.2h1M397.6 329.5h1M374.2 326.5h1M392.6 323.2h1M373.5 330.9h1M375.8 323.6h1M357.3 329.7h1M369.3 325.1h1M386.0 328.1h1M375.4 335.6h1M310.1 362.6h1M311.6 367.5h1M310.5 353.5h1M315.5 375.6h1M306.9 371.2h1M304.4 359.0h1M305.4 361.5h1M307.4 406.8h1M307.3 352.2h1M309.2 364.7h1M325.5 353.0h1M305.9 369.7h1M311.7 392.8h1M308.3 392.4h1M304.4 366.9h1M311.1 380.4h1M305.9 370.1h1M306.5 363.3h1M314.4 354.8h1M321.5 349.3h1M323.3 391.3h1M313.2 359.9h1M318.0 342.5h1M310.5 392.9h1M312.7 364.6h1M320.4 363.2h1M326.8 351.3h1M307.4 367.2h1M310.3 394.3h1M307.2 372.7h1M323.5 351.1h1M309.3 348.4h1M305.3 369.7h1M312.3 353.4h1M310.8 355.9h1M322.3 361.8h1M307.3 370.3h1M310.6 370.5h1M306.5 401.6h1M319.3 369.0h1M309.6 361.4h1M308.9 359.6h1M315.6 369.6h1M304.6 361.6h1M305.0 387.7h1M321.0 350.2h1M303.9 390.8h1M312.6 369.2h1M310.9 395.4h1M304.9 390.0h1M308.5 345.5h1M313.1 363.0h1M323.2 352.5h1M311.8 364.6h1M313.5 377.8h1M310.6 388.9h1M307.6 371.9h1M310.6 399.8h1M312.1 362.3h1M310.9 402.7h1M307.0 362.3h1M306.6 356.3h1M307.8 346.6h1M315.4 355.4h1M307.9 345.1h1M309.5 392.8h1M307.8 359.2h1M304.3 385.3h1M304.5 366.2h1M306.8 374.9h1M308.0 388.6h1M313.5 352.9h1M307.6 362.9h1M320.0 383.3h1M310.1 402.1h1M315.0 375.1h1M309.6 392.8h1M304.3 367.8h1M320.7 344.6h1M312.4 376.0h1M313.4 349.1h1M305.3 367.0h1M308.2 388.6h1M315.1 348.6h1M311.8 351.8h1M359.1 342.9h1M305.9 374.7h1M309.0 383.3h1M311.5 386.9h1M307.6 353.3h1M316.1 347.4h1M313.2 368.3h1M316.4 364.3h1M315.3 356.1h1M306.7 386.4h1M308.5 366.5h1M307.4 374.6h1M308.9 386.7h1M307.1 357.8h1M306.8 347.8h1M314.9 354.2h1M320.7 357.9h1M312.9 353.1h1M309.9 377.6h1M318.0 356.7h1M313.1 343.9h1M314.6 362.1h1M314.9 379.8h1M306.7 359.9h1M305.8 391.8h1M318.7 343.2h1M307.4 404.9h1M312.9 349.4h1M305.2 375.4h1M304.4 347.8h1M344.4 360.2h1M320.9 347.0h1M310.4 367.5h1M332.5 368.3h1M308.1 362.9h1M308.9 382.7h1M306.5 377.5h1M309.6 353.7h1M316.1 377.2h1M312.7 353.8h1M305.7 379.2h1M305.5 395.5h1M312.6 354.4h1M309.0 355.5h1M307.3 401.1h1M313.2 375.3h1M310.0 392.4h1M309.1 363.4h1M314.2 345.3h1M333.5 369.0h1M305.8 345.3h1M308.9 360.5h1M308.6 359.8h1M317.3 365.9h1M309.4 362.5h1M309.2 348.1h1M315.5 372.8h1M310.5 373.0h1M307.2 363.7h1M324.0 387.4h1M306.5 394.4h1M331.8 356.0h1M305.6 396.7h1M321.7 346.8h1M317.0 385.9h1M310.8 371.8h1M306.4 406.0h1M312.3 356.1h1M304.0 363.5h1M304.8 362.7h1M306.6 353.8h1M312.8 385.0h1M321.9 363.6h1M308.2 401.4h1M305.0 391.1h1M308.3 384.6h1M324.0 363.6h1M315.0 374.5h1M308.1 381.9h1M308.8 375.2h1M309.8 349.3h1M305.9 403.8h1M314.0 379.1h1M321.0 355.1h1M305.5 362.5h1M318.5 358.8h1M304.9 375.8h1M305.7 366.9h1M304.8 344.5h1M305.3 386.8h1M311.5 357.4h1M308.4 357.6h1M304.6 395.0h1M315.7 356.6h1M305.4 363.3h1M321.2 359.1h1M325.4 369.5h1M318.0 367.8h1M304.6 354.7h1M306.2 401.2h1M306.4 353.6h1M319.0 346.0h1M309.7 367.4h1M308.7 360.1h1M311.4 373.8h1M313.5 351.5h1M309.1 360.0h1M308.1 354.9h1M307.6 379.2h1M313.8 360.8h1M325.1 371.8h1M310.1 366.3h1M308.5 390.4h1M335.8 374.5h1M307.4 396.3h1M314.3 351.5h1M316.9 361.3h1M308.6 374.5h1M320.2 357.8h1M328.0 351.2h1M305.3 361.6h1M314.6 344.4h1M306.4 345.3h1M336.7 341.6h1M319.2 391.2h1M304.9 378.3h1M334.5 347.9h1M306.2 353.9h1M305.9 380.6h1M306.0 388.4h1M304.9 394.8h1M308.0 399.4h1M308.4 386.8h1M333.6 364.5h1M312.4 348.3h1M309.8 366.5h1M307.5 386.1h1M324.1 375.6h1M307.8 344.4h1M306.8 392.1h1M319.5 366.3h1M324.3 347.3h1M304.3 353.1h1M305.2 387.6h1M304.7 351.4h1M319.3 348.3h1M307.0 407.9h1M304.2 381.5h1M305.0 396.1h1M334.7 352.8h1M348.9 350.1h1M319.5 383.2h1M308.9 403.9h1M313.5 366.1h1M305.1 382.6h1M307.9 356.3h1M310.1 367.8h1M308.4 360.9h1M310.4 376.3h1M309.0 358.9h1M306.5 390.4h1M355.5 369.1h1M309.4 377.1h1M307.2 355.5h1M308.7 368.0h1M305.0 378.0h1M312.1 362.7h1M307.6 388.6h1M304.5 369.6h1M306.6 363.5h1M312.1 347.0h1M314.9 365.0h1M311.8 359.5h1M317.0 353.6h1M306.3 375.4h1M310.3 347.9h1M317.8 372.6h1M314.8 353.7h1M311.0 362.5h1M328.3 354.3h1M320.4 380.3h1M314.0 363.4h1M306.0 393.6h1M304.4 391.0h1M305.9 394.5h1M311.4 383.3h1M307.0 407.7h1M318.1 372.9h1M307.7 402.4h1M321.7 379.6h1M305.3 374.2h1M319.6 377.7h1M310.0 345.5h1M309.6 369.9h1M303.9 387.1h1M311.8 362.2h1M310.1 374.9h1M307.0 359.7h1M310.4 342.4h1M312.8 360.4h1M314.9 342.3h1M306.6 384.6h1M319.3 365.7h1M308.8 391.8h1M308.2 404.2h1M309.5 369.5h1M315.0 360.9h1M315.1 381.4h1M327.7 371.6h1M305.3 385.0h1M309.0 372.7h1M310.7 386.9h1M317.5 345.0h1M307.7 370.7h1M311.0 347.8h1M314.7 349.8h1M320.4 362.8h1M313.6 387.5h1M313.0 363.9h1M306.0 355.1h1M342.6 351.0h1M308.1 381.6h1M310.9 352.1h1M305.0 407.9h1M307.2 359.8h1M320.7 353.5h1M311.4 368.8h1M334.4 342.4h1M308.7 391.7h1M312.4 376.5h1M305.8 389.7h1M310.3 390.0h1M321.5 370.1h1M303.7 383.2h1M305.6 352.4h1M313.7 355.5h1M307.2 372.1h1M320.1 364.0h1M321.3 353.4h1M311.7 369.1h1M305.4 354.3h1M312.8 378.1h1M305.4 382.5h1M307.5 389.6h1M311.3 353.7h1M308.5 348.4h1M316.5 363.7h1M309.4 361.3h1M306.7 352.3h1M322.5 372.1h1M319.7 341.5h1M316.5 373.8h1M304.1 385.1h1M308.0 377.5h1M316.2 390.7h1M313.2 394.8h1M305.6 348.2h1M305.0 382.5h1M308.3 405.4h1M305.2 373.7h1M315.5 362.9h1M324.0 358.4h1M308.3 353.8h1M309.8 378.2h1M339.6 357.5h1M314.4 369.4h1M308.6 389.5h1M306.8 377.3h1M315.0 395.6h1M313.1 374.5h1M304.5 387.5h1M326.3 349.8h1M308.6 397.2h1M311.5 386.3h1M304.3 372.6h1M306.6 390.4h1M324.0 367.1h1M326.3 346.7h1M315.1 361.7h1M310.4 398.3h1M315.5 388.1h1M324.8 359.2h1M308.3 373.8h1M309.2 382.3h1M310.4 390.7h1M313.5 371.7h1M311.0 388.3h1M308.9 396.5h1M316.6 365.7h1M307.2 376.4h1M303.8 360.0h1M335.2 352.2h1M310.2 359.8h1M311.5 350.4h1M311.2 354.4h1M315.3 353.6h1M318.8 364.3h1M327.4 358.6h1M326.9 351.3h1M307.9 370.7h1M332.5 362.6h1M309.0 397.0h1M311.2 354.8h1M309.6 356.1h1M305.5 377.0h1M309.0 358.4h1M307.4 346.1h1M312.6 403.1h1M317.8 350.8h1M316.8 354.8h1M310.5 375.7h1M306.1 398.8h1M334.2 366.0h1M311.0 374.4h1M319.7 349.4h1M312.7 362.8h1M305.0 402.5h1M312.3 355.8h1M309.3 345.6h1M310.0 370.0h1M328.6 367.6h1M315.0 356.6h1M313.3 364.2h1M303.9 371.5h1M304.6 397.6h1M315.5 359.8h1M308.7 361.4h1M310.6 347.2h1M338.2 343.5h1M312.5 347.7h1M314.7 376.0h1M320.9 360.7h1M314.7 350.5h1M309.3 353.5h1M312.5 352.2h1M305.0 393.3h1M321.9 371.8h1M317.7 363.0h1M330.7 344.8h1M316.5 349.0h1M312.8 349.4h1M326.1 349.0h1M307.1 400.4h1M324.4 350.5h1M307.3 347.2h1M306.3 381.5h1M320.3 358.4h1M306.6 406.1h1M316.7 390.7h1M309.8 379.4h1M312.7 359.4h1M322.1 350.2h1M310.7 374.7h1M313.6 369.1h1M305.7 380.6h1M309.6 375.4h1M322.6 359.6h1M318.5 363.1h1M305.2 367.2h1M312.0 362.4h1M313.2 393.6h1M331.6 352.2h1M305.8 369.5h1M305.2 390.2h1M308.1 363.5h1M314.7 386.8h1M318.7 370.9h1M305.4 348.2h1M305.6 379.8h1M303.2 342.6h1M306.1 373.0h1M316.6 358.6h1M315.5 353.0h1M354.3 361.1h1M304.8 372.9h1M323.8 350.0h1M306.2 402.0h1M315.4 352.0h1M310.2 396.6h1M308.1 393.2h1M308.8 400.2h1M307.2 352.3h1M305.7 382.4h1M310.0 370.6h1M312.0 381.1h1M315.1 378.6h1M304.0 402.6h1M307.1 367.4h1M316.0 358.4h1M311.4 365.5h1M311.2 371.8h1M326.1 351.4h1M308.8 345.8h1M325.4 361.0h1M312.4 389.8h1M318.2 355.7h1M305.7 388.6h1M304.5 399.6h1M315.7 367.3h1M305.0 352.9h1M307.9 404.8h1M332.6 356.7h1M323.9 379.0h1M327.4 350.8h1M312.1 356.1h1M311.4 383.0h1M313.0 369.8h1M307.2 349.0h1M306.5 403.9h1M306.1 407.9h1M306.6 383.1h1M304.9 392.8h1M307.4 369.4h1M330.1 367.4h1M334.2 343.4h1M310.7 375.9h1M304.1 389.6h1M308.4 373.0h1M330.4 375.5h1M304.5 397.8h1M315.4 357.1h1M308.7 351.6h1M315.1 356.1h1M307.8 385.6h1M328.4 355.5h1M310.3 379.0h1M311.4 353.7h1M312.9 367.4h1M341.4 370.1h1M314.9 361.3h1M307.5 344.8h1M312.5 398.7h1M312.9 344.9h1M309.7 369.2h1M325.7 350.2h1M310.8 361.3h1M306.7 360.2h1M315.1 379.3h1M306.7 366.6h1M310.7 360.1h1M316.1 342.6h1M314.9 367.5h1M310.9 386.5h1M311.1 384.3h1M318.8 358.6h1M310.3 353.6h1M329.9 349.2h1M311.2 373.3h1M317.7 360.0h1M308.8 344.5h1M315.1 357.0h1M304.8 346.0h1M317.0 354.7h1M304.5 384.0h1M314.0 356.3h1M311.9 353.6h1M308.5 401.8h1M306.0 349.6h1M312.6 369.9h1M307.2 383.5h1M312.4 363.9h1M308.6 370.3h1M305.1 392.2h1M316.2 361.1h1M318.3 346.0h1M310.7 359.8h1M309.6 379.3h1M308.6 388.8h1M328.8 352.9h1M321.1 356.5h1M310.6 361.0h1M320.0 366.2h1M314.7 357.5h1M313.6 373.3h1M307.7 385.6h1M306.5 396.6h1M307.1 377.1h1M309.8 388.8h1M314.1 376.0h1M320.7 363.4h1M306.8 381.2h1M305.1 366.2h1M308.2 360.2h1M309.0 387.1h1M327.2 347.0h1M305.7 355.9h1M308.7 351.5h1M315.7 361.9h1M307.0 394.6h1M309.1 371.3h1M308.8 360.7h1M310.2 385.3h1M312.5 358.6h1M306.9 359.0h1M314.6 383.0h1M303.5 387.0h1M327.2 359.2h1M308.5 388.3h1M327.4 350.0h1M309.6 374.9h1M310.4 379.4h1M315.8 352.3h1M307.5 346.1h1M308.5 352.0h1M306.7 349.9h1M307.3 386.7h1M317.4 359.4h1M304.8 362.1h1M349.6 365.2h1M308.9 391.6h1M309.2 390.2h1M312.2 366.9h1M309.5 372.6h1M315.4 351.1h1M316.9 364.6h1M305.0 372.3h1M307.0 398.2h1M321.1 345.5h1M310.8 354.9h1M308.9 363.1h1M308.4 369.5h1M319.7 362.9h1M318.0 372.8h1M316.4 362.0h1M310.2 361.1h1M320.1 362.2h1M332.7 366.2h1M309.4 348.0h1M306.8 384.3h1M311.0 398.0h1M310.3 358.7h1M313.0 365.8h1M305.5 382.9h1M306.7 350.5h1M311.7 367.8h1M307.0 379.0h1M307.5 396.4h1M313.3 389.9h1M329.5 372.8h1M307.8 384.6h1M309.3 385.7h1M349.9 347.8h1M310.8 378.6h1M308.1 352.9h1M317.2 349.0h1M312.7 358.4h1M306.8 369.1h1M306.0 392.2h1M314.9 342.1h1M328.3 363.3h1M310.9 373.8h1M308.2 370.3h1M304.3 407.6h1M309.5 378.1h1M331.2 377.4h1M304.7 369.6h1M305.9 365.9h1M307.3 362.7h1M305.2 363.5h1M308.9 367.5h1M304.5 369.0h1M304.6 377.5h1M304.5 373.4h1M305.0 366.0h1M307.5 364.7h1M305.0 360.0h1M307.4 369.6h1M305.1 363.6h1M304.5 355.3h1M304.5 376.1h1M304.4 368.8h1M304.8 365.9h1M305.9 359.4h1M305.9 367.8h1M305.0 361.9h1M306.1 368.9h1M305.6 372.9h1M304.5 379.2h1M306.7 364.4h1M304.7 366.3h1M304.9 353.7h1M305.4 352.5h1M305.4 376.2h1M304.0 368.8h1M306.1 373.1h1M304.3 363.6h1M304.8 367.9h1M305.1 377.3h1M306.0 367.4h1M305.7 357.5h1M305.5 358.1h1M307.1 355.5h1M304.3 365.5h1M306.2 372.9h1M306.5 352.7h1M306.9 362.3h1M305.8 361.9h1M306.1 357.9h1M305.4 364.1h1M307.0 367.0h1M303.6 373.1h1M306.4 373.9h1M304.7 364.6h1M305.5 364.5h1M305.0 372.4h1M305.1 364.2h1M305.8 364.6h1M307.8 364.6h1M306.5 355.1h1M303.7 360.5h1M305.5 353.0h1M304.2 366.1h1M304.3 354.9h1M307.1 374.4h1M304.0 362.5h1M305.7 354.0h1M304.8 362.2h1M305.4 372.5h1M305.3 362.1h1M305.7 363.0h1M305.0 365.6h1M304.1 373.8h1M306.1 358.8h1M305.2 369.1h1M305.6 365.5h1M304.2 354.4h1M305.4 353.6h1M305.9 356.1h1M306.3 364.5h1M305.1 364.2h1M306.3 351.7h1M306.3 374.4h1M305.9 361.8h1M306.4 361.7h1M306.9 373.2h1M304.7 371.2h1M306.1 377.2h1M307.8 353.2h1M305.8 375.9h1M305.3 363.8h1M304.5 359.0h1M305.5 376.1h1M306.1 374.7h1M304.6 372.5h1M304.7 360.3h1M335.3 363.4h1M358.5 342.1h1M320.5 358.7h1M337.1 363.7h1M355.5 350.9h1M342.1 360.1h1M358.4 357.0h1M327.9 340.2h1M313.5 384.6h1M317.4 366.4h1M341.4 368.3h1M331.0 365.3h1M357.0 381.5h1M321.8 369.7h1M333.7 360.2h1M328.5 354.9h1M309.9 351.1h1M343.0 370.2h1M346.7 381.3h1M343.7 378.5h1M339.1 343.9h1M346.9 383.6h1M333.3 371.8h1M335.2 355.2h1M312.9 359.8h1M305.7 371.2h1M342.0 373.7h1M321.9 350.5h1M309.4 352.0h1M324.1 373.3h1M340.8 352.5h1M354.3 359.4h1M346.5 360.4h1M349.5 378.0h1M321.2 365.6h1M316.6 366.2h1M305.7 356.7h1M357.8 369.0h1M358.9 372.7h1M324.6 362.5h1M324.1 365.6h1M342.3 361.9h1M352.2 351.8h1M306.0 383.7h1M335.5 375.0h1M352.1 378.8h1M329.7 369.0h1M353.2 355.4h1M334.7 339.9h1M327.9 383.4h1M338.6 384.0h1M352.1 352.4h1M333.4 369.3h1M327.3 350.0h1M315.7 362.1h1M343.1 364.7h1M327.3 366.9h1M322.3 357.0h1M317.5 345.7h1M317.3 378.7h1M324.2 383.8h1M345.6 372.9h1M349.0 364.8h1M313.9 352.8h1M348.2 375.7h1M342.2 365.8h1M321.9 369.7h1M321.8 344.8h1M357.4 364.1h1M334.7 373.5h1M353.0 373.8h1M331.5 347.3h1M307.7 352.3h1M327.6 366.1h1M329.0 374.7h1M330.5 368.8h1M352.6 384.8h1M331.0 365.8h1M315.2 384.4h1M353.3 352.2h1M313.8 373.3h1M312.0 349.5h1M322.2 351.1h1M309.8 382.1h1M328.7 380.2h1M321.8 342.5h1M354.4 351.4h1M340.5 350.1h1M330.1 344.8h1M352.5 382.5h1M332.1 369.8h1M353.5 356.8h1M338.2 369.2h1M333.1 383.9h1M345.5 375.7h1M332.8 376.3h1M311.5 342.1h1M322.4 370.7h1M314.7 359.1h1M321.4 345.9h1M357.7 374.2h1M320.2 354.5h1M315.4 355.4h1M334.1 360.5h1M323.7 347.3h1M358.4 382.4h1M348.1 340.5h1M354.7 373.3h1M319.4 373.6h1M317.5 373.1h1M326.0 372.1h1M342.8 365.2h1M314.8 357.4h1M345.0 380.4h1M333.0 365.5h1M333.9 352.0h1M347.2 363.3h1M320.0 363.3h1M346.7 346.7h1M310.3 369.3h1M356.3 382.6h1M353.6 373.8h1M349.7 372.5h1M319.5 346.4h1M334.1 374.4h1M357.2 379.3h1M341.7 371.5h1M358.8 365.6h1M311.5 372.1h1M311.9 352.0h1M305.9 347.4h1M339.5 345.7h1M350.7 343.8h1M318.8 379.5h1M350.8 379.8h1M327.6 362.4h1M335.5 358.1h1M315.7 356.4h1M306.5 350.0h1M334.3 371.1h1M322.0 358.7h1M359.3 343.7h1M349.3 356.4h1M359.0 374.9h1M318.5 354.7h1M347.8 375.8h1M358.8 355.3h1M316.6 366.5h1M324.1 364.2h1M338.2 357.1h1M350.6 379.6h1M307.8 380.3h1M328.1 367.9h1M314.2 347.5h1M327.8 361.8h1M309.7 338.8h1M355.0 367.0h1M315.8 358.1h1M357.8 382.2h1M346.1 357.5h1M357.7 340.9h1M316.3 376.5h1M317.3 381.3h1M332.0 365.8h1M318.8 372.9h1M344.1 382.4h1M308.5 369.1h1M312.9 352.8h1M356.0 369.9h1M318.5 380.4h1M352.9 343.9h1M350.1 367.3h1M346.9 373.3h1M356.7 344.3h1M335.8 368.3h1M306.2 346.4h1M321.7 343.9h1M326.6 379.0h1M321.5 378.6h1M332.0 342.1h1M352.4 363.8h1M331.8 340.1h1M353.9 363.0h1M306.3 351.9h1M306.3 357.8h1M329.8 362.7h1M333.3 379.3h1M317.9 359.9h1M322.4 379.5h1M355.3 359.1h1M354.5 356.2h1M313.4 370.0h1M358.0 339.2h1M336.5 347.3h1M336.3 345.1h1M309.9 370.4h1M311.3 369.9h1M310.0 350.9h1M321.4 359.6h1M328.3 361.4h1M329.8 352.7h1M359.7 361.7h1M351.3 376.3h1M309.5 352.6h1M328.7 368.3h1M347.0 383.3h1M341.8 378.5h1M316.9 357.2h1M331.7 364.6h1M320.6 346.7h1M333.9 378.7h1M355.4 362.7h1M321.4 384.7h1M309.7 382.0h1M320.6 354.3h1M329.2 377.7h1M355.1 370.1h1M344.0 357.6h1M309.7 353.3h1M358.3 338.0h1M342.2 339.0h1M335.1 371.8h1M335.0 362.4h1M314.8 359.3h1M338.3 351.9h1M310.2 379.1h1M357.6 352.7h1M310.2 367.2h1M330.7 351.3h1M317.1 357.7h1M347.5 375.9h1M349.2 380.1h1M335.8 351.5h1M318.5 350.2h1M354.7 371.9h1M351.5 378.8h1M306.3 346.8h1M309.4 373.3h1M338.9 342.1h1M350.6 347.9h1M341.0 383.9h1M319.1 343.4h1M329.7 361.3h1M346.3 356.7h1M309.5 369.0h1M318.7 366.7h1M325.9 370.6h1M354.4 368.3h1M318.1 352.3h1M335.9 361.7h1M316.0 348.0h1M316.8 346.5h1M314.2 344.4h1M336.8 384.1h1M355.2 375.4h1M357.3 349.7h1M323.5 364.4h1M356.2 338.2h1M323.0 371.9h1M342.4 355.6h1M318.8 380.0h1M317.7 371.6h1M310.8 381.7h1M324.5 380.8h1M321.0 367.0h1M358.3 346.3h1M356.8 362.8h1M324.5 346.8h1M327.9 344.6h1M349.9 374.4h1M316.6 384.2h1M319.7 384.5h1M314.3 379.3h1M358.4 371.9h1M314.2 380.2h1M311.7 378.0h1M308.5 378.1h1M355.2 373.9h1M357.1 368.1h1M359.0 360.6h1M333.4 350.4h1M355.0 370.5h1M313.4 363.4h1M331.9 384.2h1M308.8 381.2h1M315.7 384.2h1M308.0 348.6h1M318.9 377.1h1M314.1 343.3h1M358.1 345.5h1M348.2 348.9h1M314.9 372.9h1M328.5 373.5h1M320.3 362.5h1M311.2 355.1h1M319.8 347.5h1M327.3 344.6h1M349.3 360.0h1M345.4 349.0h1M328.6 352.2h1M306.8 351.4h1M359.1 376.0h1M344.1 341.9h1M349.6 346.1h1M346.0 350.5h1M333.7 364.6h1M345.0 351.4h1M347.8 378.6h1M343.9 359.5h1M351.2 374.6h1M348.5 356.1h1M305.4 347.1h1M338.6 353.9h1M308.3 347.8h1M322.8 374.7h1M353.0 384.5h1M341.9 344.2h1M316.3 357.2h1M340.5 354.9h1M332.5 346.3h1M337.3 353.2h1M322.5 379.7h1M314.2 380.7h1M311.6 363.6h1M309.5 365.7h1M359.5 384.0h1M325.5 370.8h1M326.0 360.2h1M340.5 373.5h1M315.4 361.9h1M347.8 362.4h1M323.6 352.5h1M347.0 354.7h1M341.8 367.5h1M343.7 362.8h1M340.0 348.6h1M312.4 343.7h1M341.4 373.2h1M327.7 352.5h1M336.7 369.2h1M321.6 343.8h1M347.8 364.3h1M349.4 363.3h1M341.0 356.3h1M348.8 371.0h1M337.2 359.4h1M328.4 370.9h1M348.3 352.0h1M347.0 348.2h1M319.3 373.8h1M334.6 366.4h1M314.1 343.6h1M312.3 355.5h1M316.9 373.5h1M346.2 347.0h1M319.3 354.7h1M314.7 364.9h1M348.5 369.0h1M315.8 368.1h1M331.5 366.0h1M328.8 371.4h1M332.9 348.8h1M316.3 350.7h1M331.1 345.2h1M316.7 353.4h1M327.0 349.6h1M340.5 367.1h1M317.9 354.9h1M312.0 342.1h1M337.9 372.9h1M346.3 367.0h1M318.2 349.1h1M314.8 342.5h1M319.1 368.2h1M316.2 345.0h1M332.8 343.4h1M351.8 371.7h1M334.3 365.9h1M316.5 359.1h1M320.9 345.1h1M343.5 358.6h1M333.1 352.4h1M332.0 359.6h1M343.3 342.2h1M327.4 362.5h1M318.4 363.9h1M317.5 362.2h1M332.4 362.8h1M351.7 362.2h1M337.7 369.0h1M343.3 369.7h1M340.0 352.7h1M339.9 373.0h1M314.0 364.0h1M328.6 342.1h1M340.7 357.3h1M313.2 362.4h1M312.2 367.9h1M335.5 352.4h1M319.1 355.7h1M334.5 347.5h1M312.2 350.4h1M313.6 368.5h1M312.7 353.9h1M335.8 367.2h1M336.6 372.2h1M334.0 374.0h1M347.8 372.8h1M322.9 343.4h1M323.8 366.4h1M345.0 372.0h1M334.7 367.8h1M325.3 365.2h1M326.3 356.3h1M324.0 356.2h1M332.4 352.1h1M324.8 366.4h1M327.1 343.1h1M337.6 343.9h1M334.6 359.1h1M332.3 351.8h1M313.0 355.4h1M334.3 363.4h1M327.9 352.0h1M322.4 358.7h1M343.6 359.4h1M339.9 345.3h1M348.7 373.2h1M315.4 368.7h1M327.3 346.3h1M342.0 354.9h1M319.0 366.6h1M320.1 363.6h1M324.5 344.6h1M313.5 345.9h1M339.4 360.1h1M343.6 342.8h1M318.2 363.1h1M316.5 369.0h1M338.0 370.8h1M348.6 367.3h1M350.7 344.1h1M334.7 350.1h1M334.0 355.6h1M351.9 372.4h1M314.6 367.5h1M327.5 359.6h1M339.8 348.7h1M346.9 361.7h1M340.1 353.6h1M331.7 354.9h1M331.1 373.0h1M348.4 353.7h1M341.9 357.9h1M320.2 355.1h1M349.1 349.6h1M344.6 343.4h1M337.0 351.7h1M344.2 349.9h1M341.2 350.0h1M325.7 348.9h1M340.2 364.5h1M327.3 356.0h1M313.2 355.3h1M327.4 343.3h1M333.7 343.2h1M342.6 373.4h1M333.2 370.8h1M316.7 370.4h1M327.2 358.3h1M343.4 369.2h1M325.9 363.7h1M339.4 347.7h1M324.7 361.4h1M319.5 361.3h1M348.2 351.9h1M316.0 362.5h1M342.9 362.0h1M337.9 348.2h1M314.2 346.6h1M312.6 363.4h1M322.0 367.1h1M339.5 364.0h1M343.0 361.5h1M326.7 363.5h1M347.1 359.7h1M316.5 355.7h1M343.2 346.7h1M340.3 359.9h1M325.7 373.9h1M351.5 365.8h1M326.1 347.2h1M322.2 363.4h1M337.7 349.2h1M333.8 362.8h1M318.8 372.9h1M326.0 372.2h1M344.6 358.1h1M325.6 344.8h1M342.7 353.7h1M335.4 355.1h1M342.7 357.9h1M321.2 353.8h1M347.0 370.1h1M316.6 363.0h1M335.3 373.3h1M350.6 358.5h1M317.4 351.9h1M316.5 365.6h1M320.1 360.1h1M313.2 368.0h1M339.3 348.1h1M332.9 358.7h1M322.6 373.2h1M340.4 346.2h1M332.4 349.4h1M323.5 350.9h1M320.4 362.2h1M324.2 366.3h1M346.1 360.6h1M351.9 353.3h1M326.7 372.1h1M336.4 346.0h1M342.2 353.1h1M322.3 352.6h1M339.2 351.6h1M329.9 347.8h1M348.7 373.0h1M318.3 372.9h1M315.6 362.5h1M302.2 289.6h1M327.4 317.9h1M343.8 318.0h1M316.1 303.9h1M351.8 333.4h1M309.9 331.7h1M352.5 328.9h1M359.0 327.9h1M333.0 329.4h1M311.2 332.5h1M341.7 319.8h1M348.7 307.0h1M335.1 300.1h1M356.0 312.4h1M371.1 323.0h1M337.7 339.0h1M357.3 335.2h1M370.6 322.8h1M368.6 293.0h1M308.6 300.4h1M349.4 306.5h1M342.2 299.1h1M317.5 315.6h1M351.8 329.0h1M322.4 286.3h1M304.6 305.9h1M356.2 337.1h1M349.2 320.8h1M307.6 322.3h1M322.0 324.8h1M322.8 328.1h1M329.4 306.5h1M304.3 328.7h1M314.7 295.7h1M370.7 333.0h1M353.4 332.7h1M359.1 312.3h1M367.7 331.9h1M332.7 299.7h1M329.2 335.5h1M347.6 320.5h1M312.1 319.9h1M334.5 303.6h1M363.3 333.0h1M332.6 320.7h1M304.8 309.8h1M314.2 305.2h1M353.2 324.8h1M371.0 290.3h1M325.0 315.1h1M346.3 291.8h1M371.8 335.9h1M353.5 315.8h1M303.1 293.1h1M308.0 321.8h1M346.8 306.8h1M339.3 325.5h1M342.7 333.6h1M304.9 324.4h1M331.5 334.6h1M339.9 325.6h1M321.1 333.2h1M334.7 316.3h1M336.6 329.2h1M331.2 312.5h1M315.2 330.7h1M367.6 335.7h1M366.1 310.7h1M332.2 320.6h1M326.5 318.0h1M352.2 300.0h1M350.9 313.4h1M360.4 314.2h1M312.5 335.1h1M326.2 329.5h1M360.4 299.4h1M333.6 300.7h1M325.7 309.6h1M348.7 325.6h1M351.3 306.9h1M316.4 300.7h1M314.1 327.8h1M309.9 314.3h1M308.7 320.3h1M312.8 333.5h1M337.2 338.1h1M312.5 329.3h1M307.9 329.9h1M367.9 326.1h1M322.5 323.1h1M324.3 297.8h1M305.5 323.2h1M335.0 305.2h1M344.4 304.3h1M353.9 311.5h1M362.4 321.3h1M358.1 336.6h1M304.7 299.9h1M311.0 315.5h1M331.2 304.0h1M348.8 333.2h1M370.0 307.2h1M368.4 319.6h1M367.2 316.1h1M357.3 325.4h1M340.6 296.0h1M309.6 327.5h1M361.6 329.8h1M306.3 309.4h1M347.0 339.2h1M354.9 329.1h1M339.2 302.4h1M340.2 312.6h1M356.3 298.1h1M318.2 315.9h1M363.4 286.2h1M353.1 329.6h1M347.9 339.2h1M368.8 337.6h1M353.2 303.2h1M359.7 320.3h1M326.3 325.8h1M316.8 321.5h1M305.2 323.5h1M361.8 293.7h1M363.4 321.2h1M336.8 324.8h1M366.6 322.8h1M324.6 339.3h1M369.5 324.4h1M333.3 322.7h1M336.1 326.3h1M308.0 292.6h1M308.9 324.9h1M360.3 325.1h1M316.9 332.8h1M306.0 316.8h1M312.5 331.4h1M368.2 317.0h1M351.7 298.4h1M321.6 314.2h1M331.1 338.9h1M328.5 322.4h1M358.1 327.5h1M368.5 287.9h1M314.1 335.3h1M310.0 324.2h1M321.7 312.6h1M364.6 335.1h1M320.8 329.5h1M314.3 326.7h1M319.7 334.3h1M302.1 339.6h1M341.7 322.7h1M309.8 324.1h1M312.8 334.4h1M331.2 340.3h1M329.8 332.8h1M340.4 326.7h1M328.7 338.2h1M336.5 336.8h1M323.9 322.6h1M308.1 328.3h1M336.9 320.4h1M311.6 331.1h1M334.6 330.4h1M320.1 332.4h1M306.6 340.7h1M327.2 326.3h1M318.0 337.1h1M315.7 321.6h1M320.5 320.3h1M334.2 340.4h1M330.3 318.5h1M333.8 333.1h1M322.2 341.7h1M323.0 327.9h1M331.8 322.5h1M338.8 319.5h1M321.1 322.7h1M343.4 326.2h1M307.8 333.0h1M331.5 329.5h1M332.6 318.2h1M316.8 323.9h1M302.5 337.5h1M325.3 336.5h1M318.2 329.5h1M336.1 322.3h1M329.0 318.1h1M327.4 323.0h1M308.7 330.9h1M331.1 327.8h1M310.1 320.2h1M330.6 332.7h1M324.9 335.0h1M305.0 331.3h1M342.4 335.4h1M335.7 323.9h1M323.3 332.3h1M319.8 338.9h1M318.5 320.5h1M306.0 337.7h1M312.4 318.6h1M313.6 319.1h1M344.0 330.6h1M318.4 331.3h1M315.7 327.4h1M332.1 336.4h1M303.9 326.7h1M325.6 325.0h1M330.0 324.2h1M333.6 319.2h1M313.1 331.5h1M316.3 335.0h1M330.0 331.5h1M329.4 328.1h1M330.9 335.7h1M327.6 326.4h1M305.4 341.5h1M323.9 327.6h1M305.0 321.5h1M309.6 339.6h1M340.0 335.7h1M318.7 331.8h1M316.3 321.3h1M344.1 338.4h1M330.6 325.9h1M312.9 324.4h1M317.2 336.1h1M330.2 340.1h1M307.8 339.6h1M343.9 325.3h1M338.2 341.5h1M313.6 338.6h1M306.3 323.5h1M344.9 341.2h1M332.0 323.5h1M337.4 337.5h1M308.9 329.6h1M371.9 323.0h1M361.7 308.1h1M407.6 319.9h1M414.0 323.0h1M442.8 312.2h1M380.7 324.3h1M412.1 314.0h1M447.0 311.1h1M387.7 321.5h1M447.0 318.0h1M465.4 315.8h1M456.7 306.3h1M425.3 323.9h1M453.1 321.0h1M399.7 298.7h1M464.0 316.3h1M465.2 313.7h1M366.1 317.9h1M391.3 309.5h1M395.1 314.2h1M429.0 317.9h1M464.6 324.0h1M468.3 317.4h1M378.2 311.0h1M442.0 324.5h1M391.0 342.3h1M385.0 358.9h1M369.2 358.6h1M391.6 343.0h1M360.9 351.3h1M422.6 359.4h1M443.7 363.3h1M424.9 369.0h1M388.6 349.0h1M400.4 371.6h1M409.6 371.1h1M378.8 350.2h1M394.0 352.4h1M431.7 349.7h1M381.2 341.3h1M347.9 348.7h1M407.1 346.5h1M360.0 340.2h1M392.8 340.6h1M402.0 350.9h1M345.6 367.6h1M431.2 355.6h1M371.3 352.9h1M446.9 341.2h1M344.0 369.1h1M364.6 341.0h1M399.6 368.9h1M403.4 362.6h1M341.4 358.6h1M402.3 344.9h1M418.4 369.3h1M403.5 352.3h1M374.0 358.2h1M374.4 344.9h1M348.1 351.7h1M372.8 343.3h1M368.3 343.3h1M430.2 352.8h1M370.1 349.4h1M426.5 345.0h1M385.9 340.1h1M394.1 346.3h1M395.6 358.7h1M366.9 341.0h1M357.5 349.0h1M392.0 354.8h1M372.8 349.8h1M448.0 340.2h1M358.1 361.9h1M398.3 353.5h1M410.6 367.2h1M410.2 366.7h1M427.1 370.2h1M359.5 340.3h1M387.6 355.6h1M367.6 370.5h1M342.0 345.3h1M435.5 368.6h1M441.5 345.0h1M445.7 350.2h1M388.2 358.4h1M368.1 364.1h1M422.6 360.9h1M374.3 340.3h1M434.9 356.5h1M442.9 362.3h1M350.0 344.7h1M379.4 344.4h1M425.9 370.9h1M407.6 368.8h1M378.9 358.1h1M432.0 361.8h1M344.1 369.9h1M447.6 340.0h1M409.3 368.3h1M353.4 361.9h1M408.5 346.9h1M350.1 340.4h1M427.8 354.7h1M410.9 352.2h1M425.0 360.4h1M411.6 361.7h1M448.8 370.1h1M386.3 343.8h1M436.8 341.5h1M378.6 341.7h1M381.5 358.8h1M386.3 368.7h1M372.5 355.9h1M383.4 341.1h1M402.1 351.7h1M395.9 356.8h1M446.9 345.6h1M401.4 348.7h1M431.4 363.2h1M370.5 343.3h1M369.6 343.8h1M359.4 340.2h1M395.9 340.4h1M427.9 351.0h1M394.4 340.3h1M416.7 344.8h1M345.2 362.9h1M373.2 371.4h1M446.1 359.8h1M430.5 340.1h1M375.8 365.0h1M432.9 365.1h1M424.6 346.0h1M441.4 356.3h1M392.8 353.3h1M407.0 343.0h1M347.6 344.8h1M364.0 345.2h1M421.8 370.0h1M421.5 350.0h1M349.4 367.1h1M343.0 371.7h1M398.4 341.8h1M390.5 353.1h1M413.4 361.9h1M345.0 355.2h1M367.0 343.2h1M360.7 360.6h1M392.7 359.6h1M416.0 348.5h1M437.3 340.8h1M352.2 340.7h1M340.5 342.0h1M442.3 343.4h1M340.0 363.8h1M420.0 362.8h1M345.5 343.5h1M422.1 363.7h1M422.6 355.1h1M408.5 358.6h1M389.4 353.1h1M405.1 357.1h1M345.4 348.7h1M394.9 349.4h1M446.1 368.0h1M393.9 365.2h1M377.9 350.3h1M398.1 369.1h1M349.5 353.6h1M360.7 363.9h1M401.6 340.1h1M412.6 343.4h1M377.8 346.0h1M411.2 352.3h1M413.3 362.4h1M395.5 340.9h1M369.5 348.5h1M363.7 341.3h1M355.2 355.0h1M354.3 340.1h1M368.7 352.4h1M438.1 345.8h1M409.3 346.8h1M400.7 358.7h1M394.9 349.2h1M347.6 342.7h1M341.5 345.4h1M376.2 345.6h1M393.4 360.8h1M392.2 343.6h1M429.0 370.7h1M448.9 354.5h1M388.2 366.4h1M371.0 349.5h1M426.5 349.2h1M386.6 356.5h1M364.4 368.3h1M350.2 364.5h1M347.2 345.7h1M426.4 340.9h1M427.9 344.1h1M433.4 340.0h1M399.3 366.2h1M427.0 371.5h1M382.3 366.2h1M413.7 370.8h1M381.8 351.2h1M444.1 355.8h1M356.2 370.3h1M355.1 351.0h1M434.7 371.0h1M426.6 348.1h1M382.6 348.9h1M409.0 340.6h1M366.5 346.0h1M354.4 341.2h1M385.3 368.2h1M418.5 343.3h1M429.5 352.9h1M357.7 348.4h1M447.9 357.9h1M357.4 355.4h1M344.5 346.1h1M431.6 340.2h1M404.8 341.5h1M414.6 340.3h1M396.9 341.6h1M357.3 343.4h1M440.6 344.0h1M350.7 362.9h1M393.8 359.9h1M372.9 345.8h1M340.4 353.9h1M383.0 340.2h1M435.0 359.5h1M443.9 365.9h1M441.5 342.5h1M370.7 356.4h1M418.6 346.5h1M446.3 359.2h1M387.2 341.8h1M409.3 364.1h1M385.0 359.2h1M395.3 369.7h1M445.8 336.9h1M504.6 348.8h1M469.7 338.0h1M465.7 343.2h1M491.9 341.8h1M490.9 332.7h1M475.2 335.8h1M486.3 338.0h1M442.2 334.4h1M494.3 345.3h1M464.9 339.7h1M460.9 343.1h1M444.4 348.3h1M458.3 347.6h1M360.5 384.1h1M467.8 408.2h1M329.6 405.8h1M435.1 411.5h1M396.0 399.5h1M464.9 414.6h1M472.5 406.5h1M346.8 381.6h1" stroke="#151515" stroke-width="1.1" stroke-opacity="0.92" fill="none"/>
<polyline points="297.8,238 300.6,341.3 510.6,323 514.4,238" fill="none" stroke="#1a1a1a" stroke-width="1"/>
<text x="320" y="256" font-family='"DejaVu Serif", "Liberation Serif", serif' font-size="7.2" font-weight="bold" text-anchor="start" fill="#1a1a1a" textLength="68.6" lengthAdjust="spacingAndGlyphs" >IRRADIATED</text>
<text x="320" y="263.4" font-family='"DejaVu Serif", "Liberation Serif", serif' font-size="7.2" font-weight="bold" text-anchor="start" fill="#1a1a1a" textLength="109" lengthAdjust="spacingAndGlyphs" >MYELOID ENRICHED</text>
<text x="320" y="270.8" font-family='"DejaVu Serif", "Liberation Serif", serif' font-size="7.2" font-weight="bold" text-anchor="start" fill="#1a1a1a" textLength="105" lengthAdjust="spacingAndGlyphs" >BCL-2 EXPRESSION</text>
<text x="340" y="383.4" font-family='"DejaVu Serif", "Liberation Serif", serif' font-size="6.6" font-weight="bold" text-anchor="start" fill="#1a1a1a" textLength="77" lengthAdjust="spacingAndGlyphs" >APOPTOTIC CELLS</text>
<text x="511.6" y="244.6" font-family='"DejaVu Serif", "Liberation Serif", serif' font-size="5.6" font-weight="bold" text-anchor="middle" fill="#1a1a1a" textLength="3.8" lengthAdjust="spacingAndGlyphs" >3</text>
<path d="M333.8 397.5L322 378.3M332.5 380.8L322 378.3L322.5 386.3" fill="none" stroke="#1a1a1a" stroke-width="1.3"/>
<text x="389.0" y="431.6" font-family='"DejaVu Serif", "Liberation Serif", serif' font-size="8.1" font-weight="normal" text-anchor="start" fill="#1a1a1a" textLength="35.6" lengthAdjust="spacingAndGlyphs" stroke="#1a1a1a" stroke-width="0.25">FL3-H</text>
<text transform="translate(272.2 329.6) rotate(-90)" font-family='"DejaVu Serif", "Liberation Serif", serif' font-size="7.9" font-weight="normal" stroke="#1a1a1a" stroke-width="0.2" text-anchor="middle" fill="#1a1a1a" textLength="33" lengthAdjust="spacingAndGlyphs">FL1-H</text>
<text x="265.5" y="429" font-family='"DejaVu Serif", "Liberation Serif", serif' font-size="3.4" font-weight="bold" text-anchor="start" fill="#1a1a1a" textLength="115.6" lengthAdjust="spacingAndGlyphs" stroke="#1a1a1a" stroke-width="0.3">GATE:FL3-A/FL3-H;FL3-H/FL3-H SSC-H/FL3-H FL1-H</text>
<text transform="translate(500.9 225.2) scale(1.05 1)" font-family='"Liberation Sans", Arial, Helvetica, sans-serif' font-size="26.8" font-weight="bold" text-anchor="middle" fill="#0a0a0a">B</text>
</g>
<g id="panelC">
<line x1="167.5" y1="625.40" x2="387" y2="625.40" stroke="#1c1c1c" stroke-width="0.75" />
<line x1="164.3" y1="625.40" x2="167.5" y2="625.40" stroke="#1c1c1c" stroke-width="0.8" />
<text x="163.4" y="629.00" font-family='"Liberation Sans", Arial, Helvetica, sans-serif' font-size="10" font-weight="normal" text-anchor="end" fill="#1a1a1a" >0</text>
<line x1="167.5" y1="613.86" x2="387" y2="613.86" stroke="#1c1c1c" stroke-width="0.75" />
<line x1="164.3" y1="613.86" x2="167.5" y2="613.86" stroke="#1c1c1c" stroke-width="0.8" />
<text x="163.4" y="617.46" font-family='"Liberation Sans", Arial, Helvetica, sans-serif' font-size="10" font-weight="normal" text-anchor="end" fill="#1a1a1a" >10</text>
<line x1="167.5" y1="602.32" x2="387" y2="602.32" stroke="#1c1c1c" stroke-width="0.75" />
<line x1="164.3" y1="602.32" x2="167.5" y2="602.32" stroke="#1c1c1c" stroke-width="0.8" />
<text x="163.4" y="605.92" font-family='"Liberation Sans", Arial, Helvetica, sans-serif' font-size="10" font-weight="normal" text-anchor="end" fill="#1a1a1a" >20</text>
<line x1="167.5" y1="590.78" x2="387" y2="590.78" stroke="#1c1c1c" stroke-width="0.75" />
<line x1="164.3" y1="590.78" x2="167.5" y2="590.78" stroke="#1c1c1c" stroke-width="0.8" />
<text x="163.4" y="594.38" font-family='"Liberation Sans", Arial, Helvetica, sans-serif' font-size="10" font-weight="normal" text-anchor="end" fill="#1a1a1a" >30</text>
<line x1="167.5" y1="579.24" x2="387" y2="579.24" stroke="#1c1c1c" stroke-width="0.75" />
<line x1="164.3" y1="579.24" x2="167.5" y2="579.24" stroke="#1c1c1c" stroke-width="0.8" />
<text x="163.4" y="582.84" font-family='"Liberation Sans", Arial, Helvetica, sans-serif' font-size="10" font-weight="normal" text-anchor="end" fill="#1a1a1a" >40</text>
<line x1="167.5" y1="567.70" x2="387" y2="567.70" stroke="#1c1c1c" stroke-width="0.75" />
<line x1="164.3" y1="567.70" x2="167.5" y2="567.70" stroke="#1c1c1c" stroke-width="0.8" />
<text x="163.4" y="571.30" font-family='"Liberation Sans", Arial, Helvetica, sans-serif' font-size="10" font-weight="normal" text-anchor="end" fill="#1a1a1a" >50</text>
<line x1="167.5" y1="556.16" x2="387" y2="556.16" stroke="#1c1c1c" stroke-width="0.75" />
<line x1="164.3" y1="556.16" x2="167.5" y2="556.16" stroke="#1c1c1c" stroke-width="0.8" />
<text x="163.4" y="559.76" font-family='"Liberation Sans", Arial, Helvetica, sans-serif' font-size="10" font-weight="normal" text-anchor="end" fill="#1a1a1a" >60</text>
<line x1="167.5" y1="544.62" x2="387" y2="544.62" stroke="#1c1c1c" stroke-width="0.75" />
<line x1="164.3" y1="544.62" x2="167.5" y2="544.62" stroke="#1c1c1c" stroke-width="0.8" />
<text x="163.4" y="548.22" font-family='"Liberation Sans", Arial, Helvetica, sans-serif' font-size="10" font-weight="normal" text-anchor="end" fill="#1a1a1a" >70</text>
<line x1="167.5" y1="533.08" x2="387" y2="533.08" stroke="#1c1c1c" stroke-width="0.75" />
<line x1="164.3" y1="533.08" x2="167.5" y2="533.08" stroke="#1c1c1c" stroke-width="0.8" />
<text x="163.4" y="536.68" font-family='"Liberation Sans", Arial, Helvetica, sans-serif' font-size="10" font-weight="normal" text-anchor="end" fill="#1a1a1a" >80</text>
<line x1="167.5" y1="521.54" x2="387" y2="521.54" stroke="#1c1c1c" stroke-width="0.75" />
<line x1="164.3" y1="521.54" x2="167.5" y2="521.54" stroke="#1c1c1c" stroke-width="0.8" />
<text x="163.4" y="525.14" font-family='"Liberation Sans", Arial, Helvetica, sans-serif' font-size="10" font-weight="normal" text-anchor="end" fill="#1a1a1a" >90</text>
<line x1="167.5" y1="510.00" x2="387" y2="510.00" stroke="#1c1c1c" stroke-width="0.75" />
<line x1="164.3" y1="510.00" x2="167.5" y2="510.00" stroke="#1c1c1c" stroke-width="0.8" />
<text x="163.4" y="513.60" font-family='"Liberation Sans", Arial, Helvetica, sans-serif' font-size="10" font-weight="normal" text-anchor="end" fill="#1a1a1a" >100</text>
<line x1="167.5" y1="509.6" x2="167.5" y2="629.6" stroke="#1a1a1a" stroke-width="1.0" />
<line x1="387" y1="509.6" x2="387" y2="629.6" stroke="#1c1c1c" stroke-width="0.9" />
<line x1="277" y1="509.6" x2="277" y2="629.6" stroke="#1a1a1a" stroke-width="0.9" />
<line x1="167.5" y1="625.4" x2="387" y2="625.4" stroke="#1a1a1a" stroke-width="1.1" />
<text transform="translate(135.6 568.7) rotate(-90)" font-family='"Liberation Sans", Arial, Helvetica, sans-serif' font-size="10.5" font-weight="bold" text-anchor="middle" fill="#1a1a1a" style="white-space:pre">%  BCL-2  POSITIVE</text>
<rect x="177.80" y="616.20" width="21.90" height="9.20" fill="#fff" stroke="#1a1a1a" stroke-width="1"/>
<rect x="199.70" y="607.00" width="21.90" height="18.40" fill="url(#h1)" stroke="#1a1a1a" stroke-width="1"/>
<rect x="221.60" y="605.50" width="21.90" height="19.90" fill="url(#h2)" stroke="#1a1a1a" stroke-width="1"/>
<rect x="243.50" y="600.60" width="21.90" height="24.80" fill="#0a0a0a" stroke="#1a1a1a" stroke-width="1"/>
<line x1="189" y1="613.80" x2="189" y2="618.50" stroke="#1a1a1a" stroke-width="1.1" />
<line x1="187.3" y1="613.80" x2="190.7" y2="613.80" stroke="#1a1a1a" stroke-width="1.1" />
<line x1="187.3" y1="618.50" x2="190.7" y2="618.50" stroke="#1a1a1a" stroke-width="1.1" />
<line x1="210.8" y1="601.50" x2="210.8" y2="612.30" stroke="#1a1a1a" stroke-width="1.1" />
<line x1="209.10000000000002" y1="601.50" x2="212.5" y2="601.50" stroke="#1a1a1a" stroke-width="1.1" />
<line x1="209.10000000000002" y1="612.30" x2="212.5" y2="612.30" stroke="#1a1a1a" stroke-width="1.1" />
<line x1="233" y1="600.60" x2="233" y2="611.40" stroke="#1a1a1a" stroke-width="1.1" />
<line x1="231.3" y1="600.60" x2="234.7" y2="600.60" stroke="#1a1a1a" stroke-width="1.1" />
<line x1="231.3" y1="611.40" x2="234.7" y2="611.40" stroke="#1a1a1a" stroke-width="1.1" />
<line x1="254.5" y1="591.40" x2="254.5" y2="600.60" stroke="#1a1a1a" stroke-width="1.1" />
<line x1="252.8" y1="591.40" x2="256.2" y2="591.40" stroke="#1a1a1a" stroke-width="1.1" />
<line x1="252.8" y1="600.60" x2="256.2" y2="600.60" stroke="#1a1a1a" stroke-width="1.1" />
<rect x="287.60" y="565.40" width="21.90" height="60.00" fill="#fff" stroke="#1a1a1a" stroke-width="1"/>
<rect x="309.50" y="553.70" width="21.90" height="71.70" fill="url(#h1)" stroke="#1a1a1a" stroke-width="1"/>
<rect x="331.40" y="557.70" width="21.90" height="67.70" fill="url(#h2)" stroke="#1a1a1a" stroke-width="1"/>
<rect x="353.30" y="558.60" width="21.90" height="66.80" fill="#0a0a0a" stroke="#1a1a1a" stroke-width="1"/>
<line x1="298.5" y1="553.00" x2="298.5" y2="576.00" stroke="#1a1a1a" stroke-width="1.1" />
<line x1="296.8" y1="553.00" x2="300.2" y2="553.00" stroke="#1a1a1a" stroke-width="1.1" />
<line x1="296.8" y1="576.00" x2="300.2" y2="576.00" stroke="#1a1a1a" stroke-width="1.1" />
<line x1="320.6" y1="546.30" x2="320.6" y2="559.00" stroke="#1a1a1a" stroke-width="1.1" />
<line x1="318.90000000000003" y1="546.30" x2="322.3" y2="546.30" stroke="#1a1a1a" stroke-width="1.1" />
<line x1="318.90000000000003" y1="559.00" x2="322.3" y2="559.00" stroke="#1a1a1a" stroke-width="1.1" />
<line x1="342" y1="553.00" x2="342" y2="562.30" stroke="#1a1a1a" stroke-width="1.1" />
<line x1="340.3" y1="553.00" x2="343.7" y2="553.00" stroke="#1a1a1a" stroke-width="1.1" />
<line x1="340.3" y1="562.30" x2="343.7" y2="562.30" stroke="#1a1a1a" stroke-width="1.1" />
<line x1="364.6" y1="549.00" x2="364.6" y2="558.60" stroke="#1a1a1a" stroke-width="1.1" />
<line x1="362.90000000000003" y1="549.00" x2="366.3" y2="549.00" stroke="#1a1a1a" stroke-width="1.1" />
<line x1="362.90000000000003" y1="558.60" x2="366.3" y2="558.60" stroke="#1a1a1a" stroke-width="1.1" />
<text x="220" y="641" font-family='"Liberation Sans", Arial, Helvetica, sans-serif' font-size="10.6" font-weight="bold" text-anchor="middle" fill="#1a1a1a" >cnbm myeloid</text>
<text x="329.2" y="641" font-family='"Liberation Sans", Arial, Helvetica, sans-serif' font-size="10.6" font-weight="bold" text-anchor="middle" fill="#1a1a1a" >cnbm lymphoid</text>
<text transform="translate(374.6 505.4) scale(1.07 1)" font-family='"Liberation Sans", Arial, Helvetica, sans-serif' font-size="27.4" font-weight="bold" text-anchor="middle" fill="#0a0a0a">C</text>
<rect x="142.5" y="681" width="241.8" height="26.6" fill="#fff" stroke="#1a1a1a" stroke-width="1.1"/>
<rect x="150.5" y="688.2" width="12" height="11.8" fill="#fff" stroke="#1a1a1a" stroke-width="1"/>
<rect x="223.9" y="688.2" width="12" height="11.8" fill="url(#h1)" stroke="#1a1a1a" stroke-width="1"/>
<rect x="276.2" y="688.2" width="12" height="11.8" fill="url(#h2)" stroke="#1a1a1a" stroke-width="1"/>
<rect x="334.4" y="688.2" width="12" height="11.8" fill="#0a0a0a" stroke="#1a1a1a" stroke-width="1"/>
<text x="170" y="698" font-family='"Liberation Sans", Arial, Helvetica, sans-serif' font-size="10.85" font-weight="normal" text-anchor="start" fill="#1a1a1a" >untreated</text>
<text x="243.8" y="698" font-family='"Liberation Sans", Arial, Helvetica, sans-serif' font-size="10.85" font-weight="normal" text-anchor="start" fill="#1a1a1a" >+ dnr</text>
<text x="295.8" y="698" font-family='"Liberation Sans", Arial, Helvetica, sans-serif' font-size="10.85" font-weight="normal" text-anchor="start" fill="#1a1a1a" >+ara-c</text>
<text x="354.6" y="698" font-family='"Liberation Sans", Arial, Helvetica, sans-serif' font-size="10.7" font-weight="normal" text-anchor="start" fill="#1a1a1a" >+ rad</text>
</g>
</svg></body></html>
